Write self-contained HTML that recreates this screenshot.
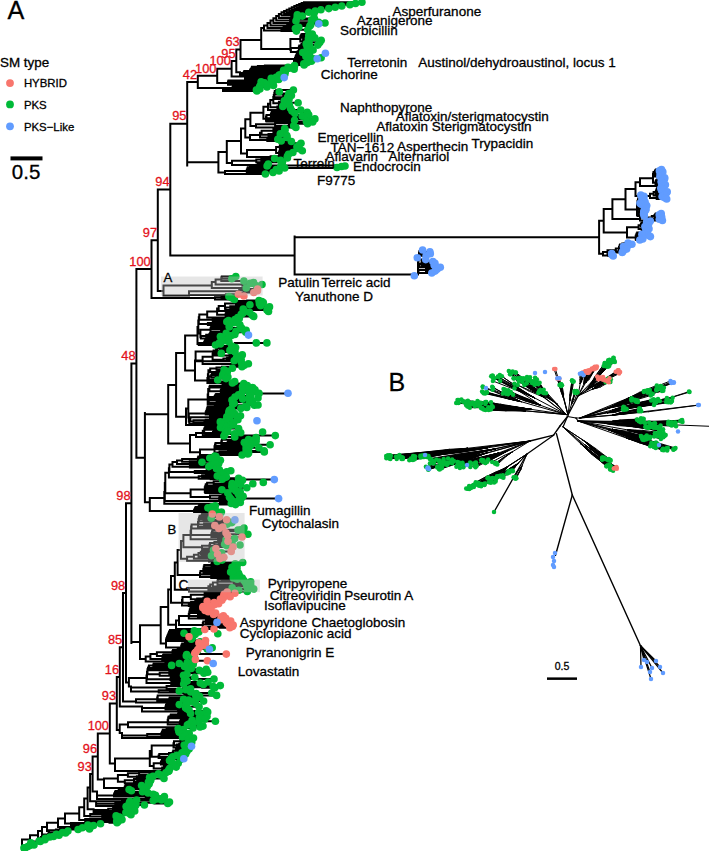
<!DOCTYPE html>
<html><head><meta charset="utf-8"><style>html,body{margin:0;padding:0;background:#fff;width:709px;height:851px;overflow:hidden}svg{display:block}</style></head><body>
<svg width="709" height="851" viewBox="0 0 709 851">
<rect width="709" height="851" fill="#fff"/>
<path d="M240.5 39.9V58.9M236.3 49.4V72.3M236.3 49.4H240.5M231.6 60.9V76.5M231.6 60.9H236.3M217.2 68.7V82.9M217.2 68.7H231.6M197.8 75.8V88.1M197.8 75.8H217.2M187.2 81.9V165.5M187.2 81.9H197.8M170.3 123.7V255.6M170.3 123.7H187.2M157.8 189.6V291.0M157.8 189.6H170.3M151.5 240.3V298.0M151.5 240.3H157.8M136.4 269.1V457.8M136.4 269.1H151.5M131.4 363.4V643.0M131.4 363.4H136.4M126.0 503.2V682.6M126.0 503.2H131.4M123.0 592.9V701.5M123.0 592.9H126.0M119.8 647.2V706.6M119.8 647.2H123.0M116.8 676.9V730.0M116.8 676.9H119.8M109.8 703.5V763.5M109.8 703.5H116.8M97.8 733.5V779.6M97.8 733.5H109.8M92.6 756.5V791.5M92.6 756.5H97.8M240.5 39.9H261.2M304.0 2.3H361.9M304.0 3.5H355.5M304.0 2.3V3.5M301.6 2.9H304.0M301.6 4.8H349.9M301.6 2.9V4.8M299.2 3.9H301.6M299.2 6.0H341.8M299.2 3.9V6.0M296.7 5.0H299.2M296.7 7.3H335.2M296.7 5.0V7.3M294.3 6.1H296.7M294.3 8.6H328.8M294.3 6.1V8.6M291.8 7.3H294.3M291.8 9.8H320.9M291.8 7.3V9.8M289.3 8.6H291.8M289.3 11.1H315.2M289.3 8.6V11.1M286.7 9.8H289.3M286.7 12.3H308.8M286.7 9.8V12.3M284.1 11.1H286.7M284.1 13.6H314.0M284.1 11.1V13.6M281.5 12.3H284.1M291.3 14.8H297.3M291.3 16.1H302.3M291.3 14.8V16.1M281.5 15.4H291.3M281.5 12.3V15.4M278.9 13.9H281.5M291.6 17.3H297.2M291.6 18.6H314.4M291.6 17.3V18.6M278.9 17.9H291.6M278.9 13.9V17.9M276.2 15.9H278.9M290.1 19.8H311.6M290.1 21.1H296.0M290.1 19.8V21.1M276.2 20.4H290.1M276.2 15.9V20.4M273.4 18.2H276.2M294.9 22.3H318.6M294.9 23.6H318.2M294.9 22.3V23.6M273.4 22.9H294.9M273.4 18.2V22.9M270.5 20.5H273.4M287.2 24.8H310.7M287.2 26.1H309.8M287.2 24.8V26.1M270.5 25.4H287.2M270.5 20.5V25.4M267.5 23.0H270.5M283.6 27.3H298.8M283.6 28.6H295.4M283.6 27.3V28.6M267.5 27.9H283.6M267.5 23.0V27.9M264.0 25.5H267.5M281.4 29.8H307.7M281.4 31.1H296.4M281.4 29.8V31.1M264.0 30.4H281.4M264.0 25.5V30.4M261.2 27.9H264.0M261.2 27.9V49.1M302.2 34.0H312.3M302.2 35.2H308.8M302.2 34.0V35.2M301.3 34.6H302.2M301.3 36.5H310.6M301.3 34.6V36.5M300.8 35.5H301.3M300.8 37.7H314.8M300.8 35.5V37.7M300.3 36.6H300.8M303.7 38.9H308.4M303.7 40.2H321.2M303.7 38.9V40.2M303.2 39.5H303.7M303.2 41.4H309.1M303.2 39.5V41.4M302.7 40.5H303.2M302.7 42.6H319.7M302.7 40.5V42.6M300.3 41.6H302.7M300.3 36.6V41.6M290.4 39.1H300.3M301.7 43.9H306.2M301.7 45.1H317.8M301.7 43.9V45.1M301.2 44.5H301.7M301.2 46.3H309.8M301.2 44.5V46.3M299.4 45.4H301.2M299.4 47.6H307.2M299.4 45.4V47.6M298.9 46.5H299.4M304.7 48.8H309.8M304.7 50.0H313.1M304.7 48.8V50.0M298.9 49.4H304.7M298.9 46.5V49.4M290.9 48.0H298.9M297.7 51.3H307.2M297.7 52.5H302.7M297.7 51.3V52.5M290.9 51.9H297.7M290.9 48.0V51.9M290.4 49.9H290.9M261.2 49.1H290.4M290.4 39.1V49.9M297.0 54.0H309.6M297.0 55.2H306.7M297.0 54.0V55.2M296.5 54.6H297.0M296.5 56.4H305.9M296.5 54.6V56.4M296.0 55.5H296.5M296.0 57.7H321.1M296.0 55.5V57.7M295.5 56.6H296.0M299.9 58.9H313.4M299.9 60.1H310.7M299.9 58.9V60.1M295.5 59.5H299.9M295.5 56.6V59.5M295.0 58.0H295.5M295.0 61.3H311.4M295.0 58.0V61.3M294.5 59.7H295.0M295.0 62.6H307.4M295.0 63.8H303.8M295.0 62.6V63.8M294.5 63.2H295.0M294.5 59.7V63.2M294.0 61.4H294.5M294.0 65.0H304.1M240.5 58.9H294.0M294.0 58.9V65.0M264.9 65.5H294.5M264.9 66.5H294.4M264.9 65.5V66.5M257.9 66.0H264.9M257.9 67.4H288.0M257.9 66.0V67.4M252.0 66.7H257.9M252.5 68.3H289.3M252.5 69.3H294.1M252.5 68.3V69.3M252.0 68.8H252.5M252.0 66.7V68.8M251.5 67.8H252.0M251.5 70.2H283.6M251.5 67.8V70.2M250.6 69.0H251.5M250.6 71.2H285.3M250.6 69.0V71.2M250.1 70.1H250.6M250.1 72.2H284.7M250.1 70.1V72.2M244.3 71.1H250.1M244.3 73.1H283.1M244.3 71.1V73.1M243.8 72.1H244.3M243.8 74.0H284.9M243.8 72.1V74.0M240.0 73.1H243.8M240.0 75.0H280.1M236.3 72.3H240.0M240.0 72.3V75.0M255.4 75.0H279.2M255.4 76.1H281.9M255.4 75.0V76.1M246.0 75.6H255.4M246.0 77.2H276.1M246.0 75.6V77.2M245.5 76.4H246.0M245.5 78.4H271.2M245.5 76.4V78.4M245.0 77.4H245.5M245.0 79.5H278.7M231.6 76.5H245.0M245.0 76.5V79.5M246.5 80.0H275.0M246.5 80.9H271.9M246.5 80.0V80.9M228.5 80.5H246.5M229.0 81.8H261.1M229.0 82.8H264.5M229.0 81.8V82.8M228.5 82.3H229.0M228.5 80.5V82.3M228.0 81.4H228.5M235.5 83.7H271.5M235.5 84.6H266.2M235.5 83.7V84.6M235.0 84.1H235.5M235.0 85.5H273.5M235.0 84.1V85.5M228.0 84.8H235.0M217.2 82.9H228.0M228.0 81.4V84.8M233.5 86.0H259.9M233.5 87.0H267.0M233.5 86.0V87.0M233.0 86.5H233.5M233.0 88.0H259.1M233.0 86.5V88.0M232.5 87.2H233.0M232.5 89.0H259.9M232.5 87.2V89.0M223.5 88.1H232.5M223.5 90.0H256.4M223.5 88.1V90.0M223.0 89.1H223.5M223.0 91.0H256.9M197.8 88.1H223.0M223.0 88.1V91.0M276.3 90.0H293.4M276.3 91.8H279.3M276.3 90.0V91.8M274.8 90.9H276.3M283.3 93.6H288.8M283.3 95.5H291.4M283.3 93.6V95.5M274.8 94.5H283.3M274.8 90.9V94.5M274.3 92.7H274.8M274.3 97.3H287.5M274.3 92.7V97.3M273.8 95.0H274.3M273.8 99.1H289.1M273.8 95.0V99.1M273.3 97.0H273.8M281.3 100.9H284.3M281.3 102.7H298.1M281.3 100.9V102.7M278.9 101.8H281.3M278.9 104.5H289.3M278.9 101.8V104.5M273.3 103.2H278.9M273.3 97.0V103.2M270.3 100.1H273.3M277.4 106.4H282.8M277.4 108.2H290.5M277.4 106.4V108.2M270.3 107.3H277.4M270.3 100.1V107.3M268.0 103.7H270.3M268.0 110.0H300.8M268.0 103.7V110.0M263.4 106.8H268.0M272.4 111.0H292.0M272.4 112.3H307.2M272.4 111.0V112.3M271.9 111.7H272.4M271.9 113.6H294.9M271.9 111.7V113.6M271.4 112.6H271.9M271.4 114.9H308.7M271.4 112.6V114.9M270.9 113.8H271.4M270.9 116.2H302.2M270.9 113.8V116.2M266.5 115.0H270.9M276.4 117.6H307.9M276.4 118.9H314.9M276.4 117.6V118.9M266.5 118.2H276.4M266.5 115.0V118.2M266.0 116.6H266.5M266.5 120.2H294.6M266.5 121.5H306.4M266.5 120.2V121.5M266.0 120.8H266.5M266.0 116.6V120.8M263.4 118.7H266.0M263.4 106.8V118.7M250.4 112.8H263.4M288.9 122.0H312.7M288.9 123.8H307.6M288.9 122.0V123.8M275.1 122.9H288.9M275.1 125.7H293.7M275.1 122.9V125.7M256.0 124.3H275.1M256.0 127.5H295.9M256.0 124.3V127.5M250.4 125.9H256.0M250.4 112.8V125.9M245.3 119.3H250.4M275.2 128.5H284.7M275.2 130.3H285.0M275.2 128.5V130.3M273.4 129.4H275.2M273.4 132.1H283.9M273.4 129.4V132.1M261.6 130.7H273.4M268.5 133.9H280.3M268.5 135.6H286.8M268.5 133.9V135.6M261.6 134.8H268.5M261.6 130.7V134.8M260.0 132.7H261.6M260.0 137.4H287.1M260.0 132.7V137.4M250.0 135.1H260.0M267.3 139.2H277.8M267.3 141.0H281.2M267.3 139.2V141.0M250.0 140.1H267.3M250.0 135.1V140.1M245.3 137.6H250.0M245.3 119.3V137.6M241.0 128.5H245.3M281.3 141.5H291.4M281.3 143.3H301.0M281.3 141.5V143.3M280.8 142.4H281.3M280.8 145.2H298.8M280.8 142.4V145.2M280.3 143.8H280.8M280.3 147.0H296.9M280.3 143.8V147.0M279.8 145.4H280.3M279.8 148.8H299.2M279.8 145.4V148.8M276.1 147.1H279.8M279.8 150.7H302.3M279.8 152.5H292.9M279.8 150.7V152.5M279.1 151.6H279.8M279.1 154.3H288.5M279.1 151.6V154.3M276.1 153.0H279.1M276.1 147.1V153.0M247.0 150.0H276.1M270.6 156.2H287.4M270.6 158.0H287.4M270.6 156.2V158.0M247.0 157.1H270.6M247.0 150.0V157.1M241.0 153.6H247.0M241.0 128.5V153.6M226.8 141.0H241.0M261.3 158.5H274.6M261.3 160.4H280.5M261.3 158.5V160.4M256.3 159.4H261.3M256.3 162.2H282.4M256.3 159.4V162.2M232.0 160.8H256.3M257.6 164.1H268.3M257.6 166.0H267.1M257.6 164.1V166.0M232.0 165.1H257.6M232.0 160.8V165.1M226.8 163.0H232.0M226.8 141.0V163.0M218.4 152.0H226.8M249.9 166.5H280.7M249.9 168.0H284.7M249.9 166.5V168.0M247.8 167.2H249.9M247.8 169.5H276.2M247.8 167.2V169.5M247.3 168.4H247.8M247.3 171.0H279.1M247.3 168.4V171.0M246.8 169.7H247.3M246.8 172.5H273.0M246.8 169.7V172.5M225.0 171.1H246.8M225.0 174.0H265.4M225.0 171.1V174.0M218.4 172.5H225.0M218.4 152.0V172.5M187.2 162.3H218.4M187.2 123.7V165.5M262.0 165.6H338.0M262.0 167.9H340.0M170.3 255.6H294.6M294.6 274.5H411.0M655.9 169.5H661.5M655.9 170.7H659.4M655.9 169.5V170.7M655.4 170.1H655.9M655.4 171.9H662.8M655.4 170.1V171.9M654.9 171.0H655.4M654.9 173.0H660.2M654.9 171.0V173.0M653.5 172.0H654.9M656.9 174.2H660.6M656.9 175.4H660.9M656.9 174.2V175.4M654.4 174.8H656.9M654.4 176.6H659.9M654.4 174.8V176.6M653.5 175.7H654.4M653.5 172.0V175.7M653.0 173.8H653.5M661.5 177.8H664.7M661.5 178.9H664.5M661.5 177.8V178.9M657.9 178.3H661.5M657.9 180.1H662.9M657.9 178.3V180.1M657.4 179.2H657.9M657.4 181.3H661.3M657.4 179.2V181.3M656.0 180.3H657.4M656.0 182.5H661.4M656.0 180.3V182.5M655.5 181.4H656.0M659.3 183.6H663.9M659.3 184.8H665.4M659.3 183.6V184.8M655.5 184.2H659.3M655.5 181.4V184.2M653.0 182.8H655.5M653.0 173.8V182.8M640.0 178.3H653.0M640.0 186.0H664.1M640.0 178.3V186.0M635.5 182.2H640.0M657.9 187.0H661.6M657.9 188.2H660.8M657.9 187.0V188.2M657.4 187.6H657.9M657.4 189.4H662.7M657.4 187.6V189.4M656.9 188.5H657.4M656.9 190.6H661.6M656.9 188.5V190.6M656.4 189.6H656.9M656.4 191.8H667.2M656.4 189.6V191.8M655.9 190.7H656.4M661.0 193.0H666.5M661.0 194.2H663.8M661.0 193.0V194.2M655.9 193.6H661.0M655.9 190.7V193.6M653.6 192.1H655.9M653.6 195.4H664.2M653.6 192.1V195.4M650.0 193.8H653.6M657.3 196.6H662.1M657.3 197.8H664.8M657.3 196.6V197.8M656.7 197.2H657.3M656.7 199.0H666.7M656.7 197.2V199.0M650.0 198.1H656.7M650.0 193.8V198.1M635.5 195.9H650.0M635.5 182.2V195.9M625.5 189.0H635.5M640.0 195.0H640.8M640.0 196.2H644.0M640.0 195.0V196.2M639.5 195.6H640.0M639.5 197.3H643.1M639.5 195.6V197.3M639.0 196.5H639.5M639.5 198.5H642.0M639.5 199.7H643.9M639.5 198.5V199.7M639.0 199.1H639.5M639.0 196.5V199.1M638.5 197.8H639.0M638.5 200.8H642.2M638.5 197.8V200.8M638.0 199.3H638.5M638.0 202.0H645.1M638.0 199.3V202.0M637.5 200.7H638.0M639.5 203.2H640.0M639.5 204.3H641.2M639.5 203.2V204.3M639.0 203.8H639.5M639.0 205.5H646.7M639.0 203.8V205.5M638.5 204.6H639.0M640.2 206.7H644.3M640.2 207.8H645.4M640.2 206.7V207.8M638.5 207.2H640.2M638.5 204.6V207.2M638.0 205.9H638.5M638.0 209.0H646.0M638.0 205.9V209.0M637.5 207.5H638.0M637.5 200.7V207.5M637.0 204.1H637.5M640.5 210.2H645.6M640.5 211.3H643.8M640.5 210.2V211.3M639.1 210.8H640.5M639.1 212.5H644.1M639.1 210.8V212.5M638.6 211.6H639.1M638.6 213.7H643.6M638.6 211.6V213.7M638.1 212.6H638.6M638.1 214.8H644.2M638.1 212.6V214.8M637.5 213.7H638.1M637.5 216.0H644.3M637.5 213.7V216.0M637.0 214.9H637.5M637.0 204.1V214.9M625.5 209.5H637.0M625.5 189.0V209.5M612.4 199.3H625.5M655.8 213.5H661.2M655.8 214.7H659.2M655.8 213.5V214.7M655.3 214.1H655.8M655.3 215.8H661.2M655.3 214.1V215.8M654.5 215.0H655.3M654.5 217.0H661.7M654.5 215.0V217.0M651.8 216.0H654.5M654.8 218.2H660.5M654.8 219.3H659.3M654.8 218.2V219.3M651.8 218.8H654.8M651.8 216.0V218.8M640.0 217.4H651.8M640.0 220.5H662.4M640.0 217.4V220.5M612.4 218.9H640.0M612.4 199.3V218.9M603.7 209.1H612.4M643.8 221.0H650.3M643.8 222.1H646.6M643.8 221.0V222.1M643.3 221.6H643.8M643.8 223.2H648.9M643.8 224.4H647.5M643.8 223.2V224.4M643.3 223.8H643.8M643.3 221.6V223.8M641.4 222.7H643.3M641.4 225.5H647.7M641.4 222.7V225.5M640.9 224.1H641.4M640.9 226.6H644.9M640.9 224.1V226.6M638.6 225.3H640.9M642.4 227.7H645.7M642.4 228.8H649.0M642.4 227.7V228.8M641.7 228.3H642.4M641.7 229.9H646.1M641.7 228.3V229.9M638.6 229.1H641.7M638.6 225.3V229.1M627.0 227.2H638.6M643.6 231.1H646.7M643.6 232.2H646.2M643.6 231.1V232.2M643.1 231.6H643.6M643.1 233.3H647.2M643.1 231.6V233.3M637.2 232.5H643.1M637.2 234.4H641.9M637.2 232.5V234.4M636.7 233.4H637.2M636.7 235.5H648.8M636.7 233.4V235.5M636.2 234.5H636.7M638.7 236.6H650.4M638.7 237.8H642.7M638.7 236.6V237.8M636.2 237.2H638.7M636.2 234.5V237.2M635.7 235.8H636.2M636.2 238.9H642.7M636.2 240.0H639.8M636.2 238.9V240.0M635.7 239.4H636.2M635.7 235.8V239.4M627.0 237.6H635.7M627.0 227.2V237.6M603.7 232.4H627.0M603.7 209.1V232.4M599.1 220.8H603.7M624.7 243.0H628.0M624.7 244.2H631.9M624.7 243.0V244.2M622.3 243.6H624.7M622.3 245.4H628.0M622.3 243.6V245.4M620.0 244.5H622.3M620.0 246.5H623.5M620.0 244.5V246.5M619.5 245.5H620.0M623.1 247.7H625.9M623.1 248.9H626.6M623.1 247.7V248.9M619.5 248.3H623.1M619.5 245.5V248.3M619.0 246.9H619.5M619.0 250.1H624.2M619.0 246.9V250.1M615.8 248.5H619.0M616.8 251.3H622.9M616.8 252.5H622.2M616.8 251.3V252.5M615.8 251.9H616.8M615.8 248.5V251.9M607.5 250.2H615.8M607.5 253.6H611.7M607.5 250.2V253.6M603.0 251.9H607.5M608.5 254.8H611.9M608.5 256.0H613.2M608.5 254.8V256.0M603.0 255.4H608.5M603.0 251.9V255.4M599.1 253.7H603.0M599.1 220.8V253.7M294.6 237.2H599.1M294.6 236.4V274.5M420.0 250.0H422.6M420.0 251.9H429.9M420.0 250.0V251.9M419.5 251.0H420.0M419.5 253.8H430.3M419.5 251.0V253.8M419.0 252.4H419.5M420.0 255.8H426.1M420.0 257.7H417.3M420.0 255.8V257.7M419.5 256.7H420.0M419.5 259.6H425.7M419.5 256.7V259.6M419.0 258.1H419.5M419.0 252.4V258.1M418.5 255.3H419.0M421.9 261.5H432.9M421.9 263.4H435.0M421.9 261.5V263.4M421.4 262.5H421.9M421.4 265.3H434.2M421.4 262.5V265.3M419.0 263.9H421.4M419.0 267.2H440.3M419.0 263.9V267.2M418.5 265.6H419.0M418.5 255.3V265.6M418.0 260.4H418.5M426.0 269.2H437.1M426.0 271.1H435.1M426.0 269.2V271.1M418.5 270.1H426.0M418.5 273.0H431.8M418.5 270.1V273.0M418.0 271.6H418.5M411.0 274.5H418.0M418.0 260.4V274.5M157.8 291.0H163.5M163.5 285.6V295.5M221.8 276.5H235.8M221.8 278.8H231.8M221.8 276.5V278.8M221.3 277.6H221.8M221.3 281.1H243.9M221.3 277.6V281.1M215.6 279.4H221.3M242.4 283.4H250.2M242.4 285.7H256.5M242.4 283.4V285.7M215.6 284.5H242.4M215.6 279.4V284.5M211.8 282.0H215.6M211.8 288.0H246.2M163.5 285.6H211.8M211.8 282.0V288.0M243.6 289.0H257.5M243.6 290.8H257.4M243.6 289.0V290.8M239.2 289.9H243.6M239.2 292.5H253.8M239.2 289.9V292.5M189.0 291.2H239.2M225.9 294.2H238.4M225.9 296.0H243.9M225.9 294.2V296.0M189.0 295.1H225.9M163.5 295.5H189.0M189.0 291.2V295.5M221.5 296.5H228.9M221.5 298.0H232.0M221.5 296.5V298.0M215.0 297.2H221.5M215.0 299.5H234.4M151.5 298.0H215.0M215.0 297.2V299.5M247.1 300.5H259.0M247.1 301.6H261.9M247.1 300.5V301.6M237.0 301.0H247.1M241.2 302.6H263.3M241.2 303.7H259.4M241.2 302.6V303.7M237.0 303.1H241.2M237.0 301.0V303.1M236.0 302.1H237.0M236.0 304.7H249.9M236.0 302.1V304.7M225.0 303.4H236.0M247.3 305.8H260.6M247.3 306.9H269.5M247.3 305.8V306.9M230.3 306.3H247.3M231.8 307.9H267.7M231.8 309.0H243.2M231.8 307.9V309.0M230.3 308.4H231.8M230.3 306.3V308.4M225.5 307.4H230.3M225.5 310.0H267.0M225.5 307.4V310.0M225.0 308.7H225.5M225.0 303.4V308.7M218.7 306.1H225.0M218.7 311.1H244.5M218.7 306.1V311.1M217.1 308.6H218.7M226.6 312.2H249.5M226.6 313.2H242.8M226.6 312.2V313.2M226.1 312.7H226.6M226.1 314.3H241.2M226.1 312.7V314.3M225.6 313.5H226.1M235.3 315.3H252.3M235.3 316.4H253.7M235.3 315.3V316.4M225.6 315.9H235.3M225.6 313.5V315.9M217.1 314.7H225.6M217.1 308.6V314.7M207.2 311.6H217.1M207.2 317.5H237.8M207.2 311.6V317.5M199.3 314.5H207.2M218.1 318.5H239.3M218.1 319.6H234.9M218.1 318.5V319.6M212.6 319.0H218.1M212.6 320.6H228.6M212.6 319.0V320.6M199.3 319.8H212.6M199.3 314.5V319.8M198.8 317.2H199.3M214.2 321.7H226.8M214.2 322.8H234.2M214.2 321.7V322.8M212.9 322.2H214.2M212.9 323.8H229.8M212.9 322.2V323.8M207.9 323.0H212.9M207.9 324.9H239.9M207.9 323.0V324.9M198.8 323.9H207.9M198.8 317.2V323.9M198.3 320.6H198.8M217.6 325.9H229.4M217.6 327.0H229.3M217.6 325.9V327.0M211.5 326.5H217.6M211.5 328.0H241.6M211.5 326.5V328.0M211.0 327.3H211.5M211.0 329.1H241.9M211.0 327.3V329.1M210.5 328.2H211.0M221.6 330.2H246.1M221.6 331.2H236.0M221.6 330.2V331.2M221.1 330.7H221.6M221.1 332.3H245.8M221.1 330.7V332.3M210.5 331.5H221.1M210.5 328.2V331.5M200.4 329.8H210.5M209.9 333.3H226.2M209.9 334.4H234.8M209.9 333.3V334.4M209.4 333.9H209.9M209.4 335.5H231.4M209.4 333.9V335.5M206.2 334.7H209.4M206.7 336.5H220.4M206.7 337.6H222.2M206.7 336.5V337.6M206.2 337.1H206.7M206.2 334.7V337.1M200.9 335.9H206.2M200.9 338.6H228.4M200.9 335.9V338.6M200.4 337.3H200.9M200.4 329.8V337.3M198.3 333.5H200.4M198.3 320.6V333.5M197.5 327.1H198.3M214.7 339.7H228.3M214.7 340.8H225.0M214.7 339.7V340.8M205.2 340.2H214.7M205.2 341.8H228.9M205.2 340.2V341.8M204.7 341.0H205.2M204.7 342.9H219.4M204.7 341.0V342.9M204.2 342.0H204.7M204.2 343.9H220.4M204.2 342.0V343.9M198.8 342.9H204.2M198.8 345.0H215.5M198.8 342.9V345.0M197.5 344.0H198.8M197.5 327.1V344.0M185.1 335.5H197.5M222.4 346.0H231.8M222.4 347.5H235.6M222.4 346.0V347.5M220.1 346.7H222.4M220.1 349.0H232.7M220.1 346.7V349.0M217.3 347.9H220.1M217.3 350.4H229.9M217.3 347.9V350.4M216.1 349.1H217.3M216.1 351.9H235.0M216.1 349.1V351.9M213.6 350.5H216.1M213.6 353.4H221.3M213.6 350.5V353.4M213.1 352.0H213.6M229.5 354.9H242.3M229.5 356.4H238.4M229.5 354.9V356.4M213.1 355.6H229.5M213.1 352.0V355.6M212.6 353.8H213.1M227.1 357.8H236.5M227.1 359.3H241.1M227.1 357.8V359.3M223.4 358.6H227.1M223.4 360.8H234.2M223.4 358.6V360.8M212.6 359.7H223.4M212.6 353.8V359.7M202.6 356.7H212.6M233.9 362.3H241.3M233.9 363.8H248.4M233.9 362.3V363.8M232.1 363.0H233.9M232.1 365.2H244.3M232.1 363.0V365.2M202.6 364.1H232.1M202.6 356.7V364.1M195.0 360.4H202.6M222.1 366.7H242.0M222.1 368.2H232.4M222.1 366.7V368.2M216.5 367.5H222.1M216.5 369.7H224.1M216.5 367.5V369.7M210.2 368.6H216.5M217.3 371.2H227.4M217.3 372.6H226.9M217.3 371.2V372.6M210.2 371.9H217.3M210.2 368.6V371.9M208.4 370.2H210.2M211.8 374.1H223.2M211.8 375.6H222.6M211.8 374.1V375.6M211.2 374.9H211.8M215.7 377.1H227.9M215.7 378.6H226.0M215.7 377.1V378.6M211.2 377.8H215.7M211.2 374.9V377.8M208.9 376.3H211.2M208.9 380.0H217.7M208.9 376.3V380.0M208.4 378.2H208.9M208.4 370.2V378.2M207.9 374.2H208.4M207.9 381.5H234.7M207.9 374.2V381.5M207.4 377.9H207.9M207.4 383.0H232.4M207.4 377.9V383.0M195.0 380.4H207.4M195.0 360.4V380.4M185.1 370.4H195.0M185.1 335.5V370.4M176.1 353.0H185.1M227.4 383.5H243.8M227.4 384.5H243.7M227.4 383.5V384.5M226.9 384.0H227.4M226.9 385.6H247.3M226.9 384.0V385.6M222.5 384.8H226.9M222.5 386.6H242.5M222.5 384.8V386.6M209.9 385.7H222.5M209.9 387.6H252.7M209.9 385.7V387.6M209.4 386.7H209.9M225.5 388.7H248.0M225.5 389.7H255.0M225.5 388.7V389.7M221.3 389.2H225.5M221.3 390.8H242.6M221.3 389.2V390.8M220.8 390.0H221.3M221.3 391.8H254.9M221.3 392.8H249.3M221.3 391.8V392.8M220.8 392.3H221.3M220.8 390.0V392.3M209.4 391.2H220.8M209.4 386.7V391.2M208.2 388.9H209.4M216.2 393.9H241.6M216.2 394.9H238.5M216.2 393.9V394.9M215.7 394.4H216.2M215.7 395.9H250.7M215.7 394.4V395.9M215.2 395.2H215.7M215.2 397.0H235.0M215.2 395.2V397.0M214.7 396.1H215.2M214.7 398.0H248.9M214.7 396.1V398.0M209.2 397.1H214.7M209.7 399.1H242.7M209.7 400.1H232.0M209.7 399.1V400.1M209.2 399.6H209.7M209.2 397.1V399.6M208.7 398.3H209.2M229.7 401.1H252.6M229.7 402.2H249.7M229.7 401.1V402.2M216.6 401.7H229.7M216.6 403.2H234.2M216.6 401.7V403.2M208.7 402.4H216.6M208.7 398.3V402.4M208.2 400.4H208.7M208.2 388.9V400.4M207.7 394.6H208.2M207.7 404.2H232.8M207.7 394.6V404.2M188.3 399.4H207.7M221.9 405.3H254.4M221.9 406.3H245.5M221.9 405.3V406.3M214.8 405.8H221.9M214.8 407.4H246.8M214.8 405.8V407.4M207.7 406.6H214.8M208.2 408.4H240.8M208.2 409.4H231.1M208.2 408.4V409.4M207.7 408.9H208.2M207.7 406.6V408.9M207.2 407.8H207.7M207.7 410.5H229.3M207.7 411.5H232.5M207.7 410.5V411.5M207.2 411.0H207.7M207.2 407.8V411.0M206.7 409.4H207.2M206.7 412.6H228.8M206.7 409.4V412.6M206.2 411.0H206.7M206.2 413.6H234.6M206.2 411.0V413.6M205.7 412.3H206.2M205.7 414.6H232.4M205.7 412.3V414.6M188.8 413.4H205.7M210.5 415.7H240.5M210.5 416.7H226.8M210.5 415.7V416.7M210.0 416.2H210.5M211.8 417.7H237.5M211.8 418.8H229.8M211.8 417.7V418.8M210.0 418.3H211.8M210.0 416.2V418.3M190.4 417.2H210.0M205.7 419.8H237.9M205.7 420.9H225.6M205.7 419.8V420.9M193.4 420.3H205.7M204.4 421.9H220.3M204.4 422.9H233.7M204.4 421.9V422.9M193.4 422.4H204.4M193.4 420.3V422.4M190.4 421.4H193.4M190.4 417.2V421.4M189.3 419.3H190.4M189.3 424.0H223.4M189.3 419.3V424.0M188.8 421.6H189.3M188.8 413.4V421.6M188.3 417.5H188.8M188.3 399.4V417.5M186.0 408.5H188.3M186.0 425.0H233.0M186.0 408.5V425.0M176.1 416.7H186.0M176.1 353.0V416.7M168.2 384.9H176.1M206.2 425.5H229.7M206.2 426.5H226.0M206.2 425.5V426.5M205.7 426.0H206.2M205.7 427.6H220.5M205.7 426.0V427.6M205.2 426.8H205.7M205.2 428.6H238.6M205.2 426.8V428.6M204.7 427.7H205.2M204.7 429.7H225.0M204.7 427.7V429.7M204.2 428.7H204.7M214.8 430.7H227.8M214.8 431.8H227.3M214.8 430.7V431.8M213.7 431.2H214.8M213.7 432.8H240.7M213.7 431.2V432.8M213.0 432.0H213.7M213.0 433.9H234.5M213.0 432.0V433.9M204.2 432.9H213.0M204.2 428.7V432.9M202.8 430.8H204.2M205.1 434.9H224.6M205.1 436.0H223.9M205.1 434.9V436.0M202.8 435.4H205.1M202.8 430.8V435.4M196.0 433.1H202.8M196.0 437.0H234.8M196.0 433.1V437.0M190.0 435.1H196.0M233.4 437.5H256.1M233.4 438.5H256.2M233.4 437.5V438.5M232.9 438.0H233.4M232.9 439.6H248.5M232.9 438.0V439.6M232.4 438.8H232.9M232.4 440.6H251.7M232.4 438.8V440.6M221.8 439.7H232.4M228.2 441.6H256.1M228.2 442.6H244.3M228.2 441.6V442.6M227.7 442.1H228.2M227.7 443.7H252.5M227.7 442.1V443.7M221.8 442.9H227.7M221.8 439.7V442.9M221.3 441.3H221.8M221.3 444.7H270.1M221.3 441.3V444.7M215.5 443.0H221.3M215.5 445.7H250.1M215.5 443.0V445.7M215.0 444.4H215.5M224.3 446.8H246.1M224.3 447.8H258.9M224.3 446.8V447.8M215.7 447.3H224.3M228.0 448.8H248.6M228.0 449.9H246.1M228.0 448.8V449.9M215.7 449.3H228.0M215.7 447.3V449.3M215.0 448.3H215.7M215.0 444.4V448.3M214.5 446.3H215.0M243.2 450.9H264.1M243.2 451.9H264.3M243.2 450.9V451.9M219.5 451.4H243.2M224.5 452.9H248.6M224.5 454.0H247.7M224.5 452.9V454.0M219.5 453.5H224.5M219.5 451.4V453.5M214.5 452.4H219.5M214.5 446.3V452.4M200.0 449.4H214.5M200.0 455.0H242.1M200.0 449.4V455.0M190.0 452.2H200.0M190.0 435.1V452.2M168.2 443.6H190.0M168.2 384.9V443.6M144.9 414.2H168.2M136.4 457.8H144.9M144.9 413.0V502.3M195.6 351.6H226.0M195.6 361.2H230.0M195.6 351.6V361.2M235.0 342.9H267.0M250.0 393.4H288.0M235.0 435.6H275.3M200.9 456.0H214.8M200.9 457.1H216.2M200.9 456.0V457.1M198.4 456.5H200.9M198.9 458.1H209.8M198.9 459.2H213.2M198.9 458.1V459.2M198.4 458.6H198.9M198.4 456.5V458.6M197.9 457.6H198.4M197.9 460.2H220.4M197.9 457.6V460.2M182.1 458.9H197.9M189.8 461.3H215.2M189.8 462.3H202.0M189.8 461.3V462.3M182.1 461.8H189.8M182.1 458.9V461.8M177.0 460.4H182.1M202.4 463.4H218.7M202.4 464.5H215.6M202.4 463.4V464.5M177.0 463.9H202.4M177.0 460.4V463.9M172.5 462.1H177.0M194.2 465.5H211.1M194.2 466.6H208.8M194.2 465.5V466.6M189.9 466.0H194.2M189.9 467.6H217.3M189.9 466.0V467.6M172.5 466.8H189.9M172.5 462.1V466.8M169.4 464.5H172.5M207.7 468.7H216.5M207.7 469.7H219.4M207.7 468.7V469.7M207.2 469.2H207.7M207.2 470.8H230.8M207.2 469.2V470.8M206.7 470.0H207.2M206.7 471.8H226.7M206.7 470.0V471.8M194.8 470.9H206.7M194.8 472.9H225.5M194.8 470.9V472.9M169.4 471.9H194.8M169.4 464.5V471.9M168.9 468.2H169.4M216.2 474.0H223.3M216.2 475.0H222.8M216.2 474.0V475.0M206.1 474.5H216.2M206.1 476.1H217.3M206.1 474.5V476.1M202.1 475.3H206.1M202.1 477.1H226.3M202.1 475.3V477.1M198.7 476.2H202.1M210.7 478.2H238.6M210.7 479.2H222.3M210.7 478.2V479.2M198.7 478.7H210.7M198.7 476.2V478.7M168.9 477.5H198.7M168.9 468.2V477.5M165.3 472.8H168.9M228.8 480.3H242.5M228.8 481.4H239.1M228.8 480.3V481.4M225.5 480.8H228.8M225.5 482.4H238.1M225.5 480.8V482.4M213.7 481.6H225.5M222.7 483.5H232.1M222.7 484.5H240.6M222.7 483.5V484.5M213.7 484.0H222.7M213.7 481.6V484.0M207.1 482.8H213.7M207.1 485.6H234.7M207.1 482.8V485.6M205.8 484.2H207.1M217.4 486.6H231.8M217.4 487.7H246.8M217.4 486.6V487.7M205.8 487.2H217.4M205.8 484.2V487.2M205.3 485.7H205.8M205.3 488.8H232.9M205.3 485.7V488.8M204.8 487.2H205.3M211.2 489.8H221.9M211.2 490.9H235.9M211.2 489.8V490.9M205.8 490.3H211.2M205.8 491.9H240.2M205.8 490.3V491.9M205.3 491.1H205.8M205.3 493.0H227.8M205.3 491.1V493.0M204.8 492.1H205.3M204.8 487.2V492.1M190.6 489.6H204.8M229.5 494.0H238.3M229.5 495.1H239.9M229.5 494.0V495.1M222.5 494.6H229.5M222.5 496.2H243.1M222.5 494.6V496.2M210.0 495.4H222.5M219.7 497.2H229.5M219.7 498.3H241.3M219.7 497.2V498.3M219.2 497.7H219.7M219.2 499.3H231.1M219.2 497.7V499.3M210.0 498.5H219.2M210.0 495.4V498.5M190.6 496.9H210.0M190.6 489.6V496.9M165.3 493.3H190.6M165.3 472.8V493.3M164.8 483.1H165.3M224.3 500.4H238.7M224.3 501.4H232.9M224.3 500.4V501.4M164.8 500.9H224.3M164.8 483.1V500.9M164.3 492.0H164.8M220.8 502.5H240.3M220.8 503.5H231.3M220.8 502.5V503.5M220.0 503.0H220.8M220.0 504.6H235.5M220.0 503.0V504.6M164.3 503.8H220.0M164.3 492.0V503.8M149.8 497.9H164.3M199.2 505.7H215.3M199.2 506.7H211.9M199.2 505.7V506.7M198.7 506.2H199.2M198.7 507.8H207.9M198.7 506.2V507.8M195.6 507.0H198.7M195.6 508.8H213.6M195.6 507.0V508.8M195.1 507.9H195.6M195.1 509.9H211.2M195.1 507.9V509.9M194.6 508.9H195.1M194.6 510.9H215.8M194.6 508.9V510.9M194.1 509.9H194.6M194.1 512.0H221.4M194.1 509.9V512.0M149.8 511.0H194.1M144.9 502.3H149.8M149.8 497.9V511.0M235.0 479.6H274.3M235.0 498.6H278.6M202.1 514.0H212.3M202.1 515.4H219.6M202.1 514.0V515.4M201.6 514.7H202.1M201.6 516.9H219.4M201.6 514.7V516.9M199.6 515.8H201.6M203.4 518.3H211.2M203.4 519.8H226.6M203.4 518.3V519.8M199.6 519.0H203.4M199.6 515.8V519.0M199.0 517.4H199.6M199.0 521.2H227.8M199.0 517.4V521.2M198.5 519.3H199.0M218.7 522.6H231.9M218.7 524.1H227.5M218.7 522.6V524.1M204.1 523.4H218.7M204.1 525.5H214.8M204.1 523.4V525.5M198.5 524.4H204.1M198.5 519.3V524.4M198.0 521.9H198.5M198.0 527.0H222.7M198.0 521.9V527.0M191.6 524.4H198.0M191.6 528.4H218.8M191.6 524.4V528.4M191.1 526.4H191.6M227.0 529.8H241.0M227.0 531.3H243.1M227.0 529.8V531.3M212.5 530.6H227.0M212.5 532.7H226.0M212.5 530.6V532.7M212.0 531.6H212.5M212.5 534.2H247.9M212.5 535.6H227.6M212.5 534.2V535.6M212.0 534.9H212.5M212.0 531.6V534.9M211.4 533.3H212.0M211.4 537.0H242.0M211.4 533.3V537.0M191.1 535.1H211.4M191.1 526.4V535.1M190.6 530.8H191.1M218.1 538.5H234.7M218.1 539.9H226.0M218.1 538.5V539.9M190.6 539.2H218.1M190.6 530.8V539.2M183.4 535.0H190.6M219.0 541.3H228.0M219.0 542.8H231.3M219.0 541.3V542.8M214.4 542.1H219.0M214.4 544.2H224.7M214.4 542.1V544.2M210.0 543.1H214.4M210.0 545.7H226.8M210.0 543.1V545.7M209.5 544.4H210.0M209.5 547.1H233.0M209.5 544.4V547.1M202.0 545.8H209.5M202.0 548.5H215.9M202.0 545.8V548.5M183.4 547.2H202.0M183.4 535.0V547.2M181.0 541.1H183.4M202.5 550.0H213.5M202.5 551.4H231.2M202.5 550.0V551.4M202.0 550.7H202.5M202.0 552.9H221.6M202.0 550.7V552.9M200.8 551.8H202.0M200.8 554.3H217.6M200.8 551.8V554.3M198.5 553.0H200.8M202.1 555.7H211.5M202.1 557.2H223.9M202.1 555.7V557.2M198.5 556.5H202.1M198.5 553.0V556.5M193.9 554.8H198.5M193.9 558.6H219.9M193.9 554.8V558.6M187.1 556.7H193.9M209.1 560.1H222.1M209.1 561.5H217.2M209.1 560.1V561.5M187.1 560.8H209.1M187.1 556.7V560.8M181.0 558.7H187.1M181.0 541.1V558.7M177.6 549.9H181.0M212.5 562.5H242.7M212.5 563.7H235.2M212.5 562.5V563.7M212.0 563.1H212.5M212.0 564.9H237.2M212.0 563.1V564.9M211.5 564.0H212.0M211.5 566.1H235.2M211.5 564.0V566.1M204.3 565.0H211.5M204.8 567.3H232.0M204.8 568.5H237.0M204.8 567.3V568.5M204.3 567.9H204.8M204.3 565.0V567.9M203.8 566.4H204.3M208.7 569.7H234.4M208.7 570.8H233.5M208.7 569.7V570.8M204.3 570.2H208.7M204.3 572.0H230.6M204.3 570.2V572.0M203.8 571.1H204.3M203.8 566.4V571.1M203.3 568.8H203.8M203.3 573.2H238.6M203.3 568.8V573.2M200.5 571.0H203.3M200.5 574.4H233.2M200.5 571.0V574.4M200.0 572.7H200.5M214.9 575.6H239.3M214.9 576.8H237.6M214.9 575.6V576.8M211.2 576.2H214.9M211.2 578.0H242.3M211.2 576.2V578.0M200.0 577.1H211.2M200.0 572.7V577.1M177.6 574.9H200.0M177.6 549.9V574.9M174.8 562.4H177.6M222.4 578.0H233.3M222.4 579.2H237.2M222.4 578.0V579.2M221.9 578.6H222.4M221.9 580.5H243.9M221.9 578.6V580.5M218.0 579.5H221.9M218.0 581.7H250.7M218.0 579.5V581.7M217.5 580.6H218.0M235.4 582.9H245.8M235.4 584.1H247.7M235.4 582.9V584.1M233.8 583.5H235.4M233.8 585.4H250.8M233.8 583.5V585.4M217.5 584.4H233.8M217.5 580.6V584.4M212.9 582.5H217.5M212.9 586.6H246.9M212.9 582.5V586.6M210.2 584.6H212.9M210.2 587.8H232.2M210.2 584.6V587.8M208.4 586.2H210.2M223.9 589.0H253.7M223.9 590.3H238.8M223.9 589.0V590.3M208.4 589.7H223.9M208.4 586.2V589.7M189.0 587.9H208.4M189.0 591.5H247.3M189.0 587.9V591.5M174.8 589.7H189.0M174.8 562.4V589.7M171.0 576.1H174.8M214.9 592.0H227.2M214.9 593.2H234.9M214.9 592.0V593.2M205.1 592.6H214.9M205.1 594.3H224.1M205.1 592.6V594.3M204.6 593.5H205.1M211.1 595.5H224.0M211.1 596.7H230.1M211.1 595.5V596.7M204.6 596.1H211.1M204.6 593.5V596.1M190.8 594.8H204.6M203.4 597.8H223.4M203.4 599.0H220.4M203.4 597.8V599.0M197.2 598.4H203.4M197.2 600.2H221.9M197.2 598.4V600.2M190.8 599.3H197.2M190.8 594.8V599.3M182.5 597.0H190.8M195.3 601.3H207.2M195.3 602.5H214.2M195.3 601.3V602.5M191.1 601.9H195.3M191.1 603.7H218.6M191.1 601.9V603.7M182.5 602.8H191.1M182.5 597.0V602.8M182.0 599.9H182.5M188.8 604.8H214.4M188.8 606.0H209.0M188.8 604.8V606.0M182.0 605.4H188.8M182.0 599.9V605.4M171.0 602.7H182.0M171.0 576.1V602.7M168.2 589.4H171.0M191.3 606.5H203.1M191.3 607.8H202.8M191.3 606.5V607.8M190.8 607.2H191.3M190.8 609.1H211.1M190.8 607.2V609.1M190.3 608.2H190.8M190.8 610.5H205.1M190.8 611.8H208.2M190.8 610.5V611.8M190.3 611.1H190.8M190.3 608.2V611.1M189.8 609.6H190.3M189.8 613.1H215.6M189.8 609.6V613.1M189.3 611.4H189.8M198.8 614.4H213.6M198.8 615.8H223.4M198.8 614.4V615.8M198.0 615.1H198.8M198.0 617.1H221.1M198.0 615.1V617.1M189.3 616.1H198.0M189.3 611.4V616.1M188.8 613.7H189.3M188.8 618.4H225.8M188.8 613.7V618.4M179.0 616.1H188.8M206.4 619.7H220.8M206.4 621.1H230.7M206.4 619.7V621.1M205.9 620.4H206.4M205.9 622.4H226.2M205.9 620.4V622.4M203.3 621.4H205.9M212.9 623.7H227.5M212.9 625.0H233.2M212.9 623.7V625.0M203.3 624.4H212.9M203.3 621.4V624.4M202.8 622.9H203.3M219.8 626.4H232.4M219.8 627.7H229.8M219.8 626.4V627.7M202.8 627.0H219.8M202.8 622.9V627.0M179.0 624.9H202.8M179.0 616.1V624.9M176.0 620.5H179.0M176.0 629.0H214.0M176.0 620.5V629.0M168.2 624.8H176.0M168.2 589.4V624.8M160.7 607.1H168.2M177.5 629.5H204.8M177.5 630.7H194.3M177.5 629.5V630.7M170.0 630.1H177.5M170.0 631.9H198.8M170.0 630.1V631.9M169.5 631.0H170.0M169.5 633.2H184.0M169.5 631.0V633.2M169.0 632.1H169.5M169.0 634.4H195.1M169.0 632.1V634.4M168.5 633.2H169.0M168.5 635.6H193.0M168.5 633.2V635.6M168.0 634.4H168.5M168.0 636.8H189.0M168.0 634.4V636.8M167.5 635.6H168.0M167.5 638.0H192.3M167.5 635.6V638.0M167.0 636.8H167.5M167.0 639.2H191.3M167.0 636.8V639.2M166.5 638.0H167.0M186.0 640.5H205.5M186.0 641.7H200.1M186.0 640.5V641.7M166.5 641.1H186.0M166.5 638.0V641.1M166.0 639.6H166.5M184.9 642.9H198.9M184.9 644.1H205.3M184.9 642.9V644.1M182.2 643.5H184.9M182.2 645.3H205.1M182.2 643.5V645.3M181.7 644.4H182.2M182.2 646.6H200.6M182.2 647.8H212.2M182.2 646.6V647.8M181.7 647.2H182.2M181.7 644.4V647.2M181.2 645.8H181.7M181.2 649.0H207.2M181.2 645.8V649.0M166.0 647.4H181.2M166.0 639.6V647.4M160.7 643.5H166.0M160.7 607.1V643.5M140.0 625.3H160.7M177.7 649.5H197.8M177.7 650.8H197.4M177.7 649.5V650.8M173.0 650.1H177.7M173.0 652.0H195.9M173.0 650.1V652.0M172.5 651.1H173.0M172.5 653.2H194.8M172.5 651.1V653.2M156.9 652.2H172.5M163.6 654.5H186.7M163.6 655.8H186.3M163.6 654.5V655.8M163.1 655.1H163.6M163.1 657.0H192.3M163.1 655.1V657.0M156.9 656.1H163.1M156.9 652.2V656.1M150.4 654.1H156.9M162.2 658.2H194.7M162.2 659.5H195.4M162.2 658.2V659.5M150.4 658.9H162.2M150.4 654.1V658.9M145.7 656.5H150.4M165.4 660.8H207.4M165.4 662.0H193.5M165.4 660.8V662.0M145.7 661.4H165.4M145.7 656.5V661.4M140.0 658.9H145.7M140.0 625.3V658.9M131.4 642.1H140.0M131.4 363.4V643.0M200.0 654.1H226.3M126.0 682.6H128.9M128.9 678.0V686.5M170.4 662.5H187.3M170.4 663.5H179.3M170.4 662.5V663.5M165.8 663.0H170.4M165.8 664.5H193.2M165.8 663.0V664.5M153.8 663.7H165.8M153.8 665.4H171.6M153.8 663.7V665.4M153.3 664.6H153.8M153.3 666.4H184.5M153.3 664.6V666.4M149.0 665.5H153.3M179.1 667.4H187.0M179.1 668.4H191.3M179.1 667.4V668.4M149.0 667.9H179.1M149.0 665.5V667.9M148.5 666.7H149.0M148.5 669.3H206.2M148.5 666.7V669.3M148.0 668.0H148.5M148.0 670.3H199.3M148.0 668.0V670.3M147.5 669.2H148.0M194.3 671.3H205.7M194.3 672.3H207.7M194.3 671.3V672.3M169.3 671.8H194.3M173.0 673.2H203.9M173.0 674.2H187.0M173.0 673.2V674.2M169.3 673.7H173.0M169.3 671.8V673.7M159.7 672.8H169.3M172.0 675.2H183.5M172.0 676.2H185.2M172.0 675.2V676.2M159.7 675.7H172.0M159.7 672.8V675.7M147.5 674.2H159.7M147.5 669.2V674.2M147.0 671.7H147.5M171.4 677.2H194.8M171.4 678.1H184.9M171.4 677.2V678.1M170.9 677.6H171.4M170.9 679.1H214.0M170.9 677.6V679.1M170.4 678.4H170.9M170.4 680.1H184.4M170.4 678.4V680.1M147.0 679.2H170.4M147.0 671.7V679.2M146.5 675.5H147.0M177.2 681.1H187.1M177.2 682.0H208.1M177.2 681.1V682.0M171.7 681.6H177.2M171.7 683.0H200.3M171.7 681.6V683.0M171.2 682.3H171.7M171.2 684.0H183.7M171.2 682.3V684.0M146.5 683.1H171.2M128.9 678.0H146.5M146.5 675.5V683.1M193.8 684.5H203.4M193.8 685.6H220.3M193.8 684.5V685.6M183.4 685.0H193.8M202.2 686.6H213.2M202.2 687.7H214.8M202.2 686.6V687.7M183.4 687.2H202.2M183.4 685.0V687.2M166.6 686.1H183.4M166.6 688.8H190.6M166.6 686.1V688.8M131.0 687.4H166.6M169.9 689.8H185.9M169.9 690.9H179.3M169.9 689.8V690.9M158.7 690.3H169.9M180.9 691.9H190.7M180.9 693.0H211.7M180.9 691.9V693.0M158.7 692.5H180.9M158.7 690.3V692.5M131.0 691.4H158.7M128.9 686.5H131.0M131.0 686.5V691.4M185.5 693.5H196.2M185.5 694.5H195.4M185.5 693.5V694.5M184.9 694.0H185.5M184.9 695.4H216.6M184.9 694.0V695.4M184.4 694.7H184.9M184.4 696.4H199.6M184.4 694.7V696.4M157.7 695.5H184.4M187.0 697.3H199.3M187.0 698.2H196.0M187.0 697.3V698.2M169.8 697.8H187.0M169.8 699.2H183.6M169.8 697.8V699.2M169.3 698.5H169.8M169.3 700.1H188.6M169.3 698.5V700.1M157.7 699.3H169.3M157.7 695.5V699.3M157.2 697.4H157.7M157.2 701.1H203.6M157.2 697.4V701.1M136.0 699.3H157.2M178.8 702.0H193.1M178.8 703.0H186.6M178.8 702.0V703.0M136.0 702.5H178.8M123.0 701.5H136.0M136.0 699.3V702.5M167.0 703.5H195.8M167.0 704.6H179.3M167.0 703.5V704.6M166.5 704.0H167.0M173.2 705.6H186.6M173.2 706.7H199.1M173.2 705.6V706.7M166.5 706.2H173.2M166.5 704.0V706.2M166.0 705.1H166.5M166.0 707.8H185.6M166.0 705.1V707.8M165.5 706.4H166.0M177.9 708.8H187.0M177.9 709.9H189.0M177.9 708.8V709.9M165.5 709.3H177.9M165.5 706.4V709.3M142.0 707.9H165.5M194.5 710.9H206.1M194.5 712.0H207.7M194.5 710.9V712.0M142.0 711.5H194.5M119.8 706.6H142.0M142.0 706.6V711.5M116.8 730.0H119.7M119.7 724.6V733.1M179.8 712.5H198.6M179.8 713.5H190.6M179.8 712.5V713.5M178.6 713.0H179.8M178.6 714.4H202.6M178.6 713.0V714.4M178.1 713.7H178.6M178.1 715.4H201.2M178.1 713.7V715.4M170.9 714.6H178.1M170.9 716.4H207.0M170.9 714.6V716.4M170.4 715.5H170.9M170.4 717.3H200.7M170.4 715.5V717.3M168.7 716.4H170.4M168.7 718.3H199.2M168.7 716.4V718.3M168.2 717.4H168.7M181.6 719.3H204.7M181.6 720.2H192.1M181.6 719.3V720.2M181.1 719.8H181.6M181.1 721.2H215.4M181.1 719.8V721.2M180.6 720.5H181.1M180.6 722.2H198.8M180.6 720.5V722.2M180.1 721.3H180.6M180.1 723.2H193.0M180.1 721.3V723.2M168.2 722.2H180.1M168.2 717.4V722.2M167.7 719.8H168.2M179.6 724.1H189.0M179.6 725.1H187.4M179.6 724.1V725.1M167.7 724.6H179.6M167.7 719.8V724.6M128.0 722.2H167.7M186.6 726.1H203.0M186.6 727.0H200.0M186.6 726.1V727.0M177.5 726.5H186.6M177.5 728.0H193.1M177.5 726.5V728.0M128.0 727.3H177.5M119.7 724.6H128.0M128.0 722.2V727.3M167.1 728.5H178.2M167.1 729.5H183.4M167.1 728.5V729.5M166.6 729.0H167.1M166.6 730.4H178.7M166.6 729.0V730.4M162.9 729.7H166.6M168.0 731.4H183.5M168.0 732.3H179.2M168.0 731.4V732.3M162.9 731.8H168.0M162.9 729.7V731.8M162.4 730.8H162.9M162.4 733.2H189.2M162.4 730.8V733.2M161.9 732.0H162.4M161.9 734.2H182.7M161.9 732.0V734.2M161.4 733.1H161.9M161.4 735.1H187.4M161.4 733.1V735.1M147.2 734.1H161.4M172.3 736.1H185.1M172.3 737.0H182.5M172.3 736.1V737.0M147.2 736.6H172.3M147.2 734.1V736.6M122.0 735.4H147.2M122.0 738.0H193.5M119.7 733.1H122.0M122.0 733.1V738.0M183.2 738.5H189.6M183.2 739.8H188.3M183.2 738.5V739.8M182.7 739.1H183.2M182.7 741.1H188.7M182.7 739.1V741.1M180.5 740.1H182.7M180.5 742.4H191.7M180.5 740.1V742.4M174.0 741.3H180.5M179.2 743.7H190.9M179.2 745.0H184.2M179.2 743.7V745.0M176.9 744.4H179.2M176.9 746.3H189.9M176.9 744.4V746.3M174.0 745.3H176.9M174.0 741.3V745.3M173.5 743.3H174.0M173.5 747.6H188.8M173.5 743.3V747.6M151.7 745.4H173.5M179.9 748.9H189.1M179.9 750.2H184.9M179.9 748.9V750.2M176.0 749.5H179.9M176.0 751.5H186.8M176.0 749.5V751.5M173.3 750.5H176.0M173.3 752.8H181.9M173.3 750.5V752.8M172.8 751.7H173.3M172.8 754.1H185.6M172.8 751.7V754.1M169.0 752.9H172.8M169.0 755.4H176.8M169.0 752.9V755.4M159.3 754.1H169.0M159.3 756.7H172.8M159.3 754.1V756.7M158.6 755.4H159.3M158.6 758.0H171.4M158.6 755.4V758.0M151.7 756.7H158.6M151.7 745.4V756.7M149.8 751.1H151.7M162.4 759.3H180.9M162.4 760.6H169.5M162.4 759.3V760.6M161.9 760.0H162.4M161.9 761.9H171.4M161.9 760.0V761.9M161.4 760.9H161.9M161.4 763.2H178.2M161.4 760.9V763.2M160.9 762.1H161.4M160.9 764.5H173.2M160.9 762.1V764.5M153.7 763.3H160.9M167.3 765.8H175.0M167.3 767.1H176.2M167.3 765.8V767.1M163.9 766.5H167.3M163.9 768.4H169.8M163.9 766.5V768.4M162.2 767.4H163.9M162.2 769.7H168.8M162.2 767.4V769.7M153.7 768.6H162.2M153.7 763.3V768.6M149.8 765.9H153.7M149.8 751.1V765.9M115.0 758.5H149.8M115.0 771.0H169.0M109.8 763.5H115.0M115.0 758.5V771.0M158.4 771.5H168.1M158.4 772.7H165.8M158.4 771.5V772.7M139.1 772.1H158.4M149.5 773.8H158.4M149.5 775.0H160.4M149.5 773.8V775.0M139.1 774.4H149.5M139.1 772.1V774.4M127.9 773.2H139.1M136.9 776.2H153.0M136.9 777.3H149.6M136.9 776.2V777.3M127.9 776.8H136.9M127.9 773.2V776.8M117.9 775.0H127.9M141.8 778.5H164.0M141.8 779.7H150.8M141.8 778.5V779.7M134.0 779.1H141.8M137.2 780.8H150.4M137.2 782.0H148.4M137.2 780.8V782.0M134.0 781.4H137.2M134.0 779.1V781.4M124.8 780.2H134.0M124.8 783.2H149.1M124.8 780.2V783.2M117.9 781.7H124.8M117.9 775.0V781.7M104.0 778.4H117.9M128.4 784.3H148.9M128.4 785.5H141.6M128.4 784.3V785.5M125.7 784.9H128.4M125.7 786.7H147.1M125.7 784.9V786.7M125.2 785.8H125.7M125.2 787.8H145.3M125.2 785.8V787.8M124.7 786.8H125.2M124.7 789.0H143.9M124.7 786.8V789.0M104.0 787.9H124.7M97.8 779.6H104.0M104.0 778.4V787.9M119.2 789.5H129.1M119.2 790.7H131.4M119.2 789.5V790.7M118.7 790.1H119.2M118.7 791.8H142.5M118.7 790.1V791.8M115.5 791.0H118.7M115.5 793.0H148.0M115.5 791.0V793.0M115.0 792.0H115.5M115.0 794.2H153.2M115.0 792.0V794.2M114.5 793.1H115.0M114.5 795.3H155.5M114.5 793.1V795.3M114.0 794.2H114.5M114.0 796.5H164.4M114.0 794.2V796.5M97.0 795.4H114.0M150.6 797.7H163.8M150.6 798.8H160.9M150.6 797.7V798.8M145.7 798.2H150.6M145.7 800.0H161.6M145.7 798.2V800.0M97.0 799.1H145.7M92.6 791.5H97.0M97.0 791.5V799.1M90.1 774.0V801.3M90.1 774.0H92.6M122.7 800.0H136.6M122.7 801.2H130.0M122.7 800.0V801.2M122.1 800.6H122.7M122.1 802.4H129.8M122.1 800.6V802.4M115.8 801.5H122.1M115.8 803.6H129.1M115.8 801.5V803.6M115.3 802.5H115.8M115.3 804.8H136.0M115.3 802.5V804.8M96.1 803.7H115.3M96.1 806.0H135.2M90.1 801.3H96.1M96.1 801.3V806.0M87.6 787.6V809.2M87.6 787.6H90.1M114.1 806.5H126.1M114.1 807.6H134.3M114.1 806.5V807.6M113.6 807.0H114.1M113.6 808.7H131.1M113.6 807.0V808.7M113.1 807.9H113.6M113.1 809.8H129.3M113.1 807.9V809.8M108.2 808.8H113.1M108.2 810.9H134.7M108.2 808.8V810.9M93.6 809.9H108.2M93.6 812.0H130.9M87.6 809.2H93.6M93.6 809.2V812.0M84.2 798.4V816.0M84.2 798.4H87.6M116.9 812.5H125.9M116.9 813.6H129.6M116.9 812.5V813.6M116.4 813.1H116.9M116.4 814.8H131.0M116.4 813.1V814.8M90.2 813.9H116.4M102.2 815.9H116.1M102.2 817.0H119.3M102.2 815.9V817.0M90.2 816.4H102.2M84.2 816.0H90.2M90.2 813.9V816.4M79.2 807.2V820.0M79.2 807.2H84.2M111.2 817.5H120.1M111.2 818.7H121.6M111.2 817.5V818.7M110.5 818.1H111.2M110.5 819.8H121.9M110.5 818.1V819.8M85.2 819.0H110.5M85.2 821.0H116.7M79.2 820.0H85.2M85.2 819.0V821.0M65.0 813.6V823.5M65.0 813.6H79.2M109.5 821.5H118.1M109.5 822.7H117.0M109.5 821.5V822.7M90.5 822.1H109.5M90.5 823.8H100.5M90.5 822.1V823.8M71.0 823.0H90.5M71.0 825.0H87.9M65.0 823.5H71.0M71.0 823.0V825.0M58.0 818.6V827.0M58.0 818.6H65.0M82.5 825.5H93.5M82.5 826.7H90.6M82.5 825.5V826.7M76.0 826.1H82.5M76.0 827.8H82.4M76.0 826.1V827.8M60.0 827.0H76.0M60.0 829.0H89.5M58.0 827.0H60.0M60.0 827.0V829.0M47.0 822.8V831.0M47.0 822.8H58.0M55.9 829.5H78.1M55.9 831.0H67.9M55.9 829.5V831.0M49.0 830.2H55.9M49.0 832.5H62.5M47.0 831.0H49.0M49.0 830.2V832.5M42.0 826.9V835.0M42.0 826.9H47.0M50.2 833.0H65.6M50.2 834.2H56.4M50.2 833.0V834.2M48.2 833.6H50.2M48.2 835.3H59.0M48.2 833.6V835.3M44.0 834.5H48.2M44.0 836.5H53.5M42.0 835.0H44.0M44.0 834.5V836.5M38.0 830.9V839.5M38.0 830.9H42.0M41.0 837.0H49.9M41.0 838.3H45.3M41.0 837.0V838.3M40.5 837.7H41.0M40.5 839.7H44.9M40.5 837.7V839.7M40.0 838.7H40.5M40.0 841.0H39.1M38.0 839.5H40.0M40.0 838.7V841.0M30.0 835.2V844.0M30.0 835.2H38.0M33.0 841.5H40.3M33.0 842.7H30.8M33.0 841.5V842.7M32.5 842.1H33.0M32.5 843.8H31.7M32.5 842.1V843.8M32.0 843.0H32.5M32.0 845.0H34.0M30.0 844.0H32.0M32.0 843.0V845.0M22.0 839.6V848.0M22.0 839.6H30.0M25.0 845.5H29.7M25.0 846.6H27.8M25.0 845.5V846.6M24.5 846.0H25.0M24.5 847.7H24.0M24.5 846.0V847.7M24.0 846.9H24.5M24.0 848.8H24.5M22.0 848.0H24.0M24.0 846.9V848.8M140.0 799.0H156.9M140.0 800.5H153.2M140.0 799.0V800.5M136.4 799.8H140.0M154.5 802.0H169.5M154.5 803.5H167.8M154.5 802.0V803.5M136.4 802.8H154.5M136.4 799.8V802.8M118.0 801.2H136.4M118.0 805.0H144.4M90.1 801.3H118.0M118.0 801.2V805.0" fill="none" stroke="#000" stroke-width="2.0" stroke-linecap="square"/>
<g fill="#00BA38"><circle cx="361.9" cy="2.3" r="3.8"/><circle cx="355.5" cy="3.5" r="3.8"/><circle cx="349.9" cy="4.8" r="3.8"/><circle cx="341.8" cy="6.0" r="3.8"/><circle cx="335.2" cy="7.3" r="3.8"/><circle cx="328.8" cy="8.6" r="3.8"/><circle cx="320.9" cy="9.8" r="3.8"/><circle cx="315.2" cy="11.1" r="3.8"/><circle cx="308.8" cy="12.3" r="3.8"/><circle cx="314.0" cy="13.6" r="3.8"/><circle cx="297.3" cy="14.8" r="3.8"/><circle cx="302.3" cy="16.1" r="3.8"/><circle cx="297.2" cy="17.3" r="3.8"/><circle cx="314.4" cy="18.6" r="3.8"/><circle cx="311.6" cy="19.8" r="3.8"/><circle cx="296.0" cy="21.1" r="3.8"/><circle cx="318.6" cy="22.3" r="3.8"/><circle cx="318.2" cy="23.6" r="3.8"/><circle cx="310.7" cy="24.8" r="3.8"/><circle cx="309.8" cy="26.1" r="3.8"/><circle cx="298.8" cy="27.3" r="3.8"/><circle cx="295.4" cy="28.6" r="3.8"/><circle cx="307.7" cy="29.8" r="3.8"/><circle cx="296.4" cy="31.1" r="3.8"/><circle cx="312.3" cy="34.0" r="3.8"/><circle cx="308.8" cy="35.2" r="3.8"/><circle cx="310.6" cy="36.5" r="3.8"/><circle cx="314.8" cy="37.7" r="3.8"/><circle cx="308.4" cy="38.9" r="3.8"/><circle cx="321.2" cy="40.2" r="3.8"/><circle cx="309.1" cy="41.4" r="3.8"/><circle cx="319.7" cy="42.6" r="3.8"/><circle cx="306.2" cy="43.9" r="3.8"/><circle cx="317.8" cy="45.1" r="3.8"/><circle cx="309.8" cy="46.3" r="3.8"/><circle cx="307.2" cy="47.6" r="3.8"/><circle cx="309.8" cy="48.8" r="3.8"/><circle cx="313.1" cy="50.0" r="3.8"/><circle cx="307.2" cy="51.3" r="3.8"/><circle cx="302.7" cy="52.5" r="3.8"/><circle cx="309.6" cy="54.0" r="3.8"/><circle cx="306.7" cy="55.2" r="3.8"/><circle cx="305.9" cy="56.4" r="3.8"/><circle cx="321.1" cy="57.7" r="3.8"/><circle cx="313.4" cy="58.9" r="3.8"/><circle cx="310.7" cy="60.1" r="3.8"/><circle cx="311.4" cy="61.3" r="3.8"/><circle cx="307.4" cy="62.6" r="3.8"/><circle cx="303.8" cy="63.8" r="3.8"/><circle cx="304.1" cy="65.0" r="3.8"/><circle cx="294.5" cy="65.5" r="3.8"/><circle cx="294.4" cy="66.5" r="3.8"/><circle cx="288.0" cy="67.4" r="3.8"/><circle cx="289.3" cy="68.3" r="3.8"/><circle cx="294.1" cy="69.3" r="3.8"/><circle cx="283.6" cy="70.2" r="3.8"/><circle cx="285.3" cy="71.2" r="3.8"/><circle cx="284.7" cy="72.2" r="3.8"/><circle cx="283.1" cy="73.1" r="3.8"/><circle cx="284.9" cy="74.0" r="3.8"/><circle cx="280.1" cy="75.0" r="3.8"/><circle cx="279.2" cy="75.0" r="3.8"/><circle cx="281.9" cy="76.1" r="3.8"/><circle cx="276.1" cy="77.2" r="3.8"/><circle cx="271.2" cy="78.4" r="3.8"/><circle cx="278.7" cy="79.5" r="3.8"/><circle cx="275.0" cy="80.0" r="3.8"/><circle cx="271.9" cy="80.9" r="3.8"/><circle cx="261.1" cy="81.8" r="3.8"/><circle cx="264.5" cy="82.8" r="3.8"/><circle cx="271.5" cy="83.7" r="3.8"/><circle cx="266.2" cy="84.6" r="3.8"/><circle cx="273.5" cy="85.5" r="3.8"/><circle cx="259.9" cy="86.0" r="3.8"/><circle cx="267.0" cy="87.0" r="3.8"/><circle cx="259.1" cy="88.0" r="3.8"/><circle cx="259.9" cy="89.0" r="3.8"/><circle cx="256.4" cy="90.0" r="3.8"/><circle cx="256.9" cy="91.0" r="3.8"/><circle cx="325.0" cy="23.0" r="3.8"/><circle cx="293.4" cy="90.0" r="3.8"/><circle cx="279.3" cy="91.8" r="3.8"/><circle cx="288.8" cy="93.6" r="3.8"/><circle cx="291.4" cy="95.5" r="3.8"/><circle cx="287.5" cy="97.3" r="3.8"/><circle cx="289.1" cy="99.1" r="3.8"/><circle cx="284.3" cy="100.9" r="3.8"/><circle cx="298.1" cy="102.7" r="3.8"/><circle cx="289.3" cy="104.5" r="3.8"/><circle cx="282.8" cy="106.4" r="3.8"/><circle cx="290.5" cy="108.2" r="3.8"/><circle cx="300.8" cy="110.0" r="3.8"/><circle cx="292.0" cy="111.0" r="3.8"/><circle cx="307.2" cy="112.3" r="3.8"/><circle cx="294.9" cy="113.6" r="3.8"/><circle cx="308.7" cy="114.9" r="3.8"/><circle cx="302.2" cy="116.2" r="3.8"/><circle cx="307.9" cy="117.6" r="3.8"/><circle cx="314.9" cy="118.9" r="3.8"/><circle cx="294.6" cy="120.2" r="3.8"/><circle cx="306.4" cy="121.5" r="3.8"/><circle cx="312.7" cy="122.0" r="3.8"/><circle cx="307.6" cy="123.8" r="3.8"/><circle cx="293.7" cy="125.7" r="3.8"/><circle cx="295.9" cy="127.5" r="3.8"/><circle cx="284.7" cy="128.5" r="3.8"/><circle cx="285.0" cy="130.3" r="3.8"/><circle cx="283.9" cy="132.1" r="3.8"/><circle cx="280.3" cy="133.9" r="3.8"/><circle cx="286.8" cy="135.6" r="3.8"/><circle cx="287.1" cy="137.4" r="3.8"/><circle cx="277.8" cy="139.2" r="3.8"/><circle cx="281.2" cy="141.0" r="3.8"/><circle cx="291.4" cy="141.5" r="3.8"/><circle cx="301.0" cy="143.3" r="3.8"/><circle cx="298.8" cy="145.2" r="3.8"/><circle cx="296.9" cy="147.0" r="3.8"/><circle cx="299.2" cy="148.8" r="3.8"/><circle cx="302.3" cy="150.7" r="3.8"/><circle cx="292.9" cy="152.5" r="3.8"/><circle cx="288.5" cy="154.3" r="3.8"/><circle cx="287.4" cy="156.2" r="3.8"/><circle cx="287.4" cy="158.0" r="3.8"/><circle cx="274.6" cy="158.5" r="3.8"/><circle cx="280.5" cy="160.4" r="3.8"/><circle cx="282.4" cy="162.2" r="3.8"/><circle cx="268.3" cy="164.1" r="3.8"/><circle cx="267.1" cy="166.0" r="3.8"/><circle cx="280.7" cy="166.5" r="3.8"/><circle cx="284.7" cy="168.0" r="3.8"/><circle cx="276.2" cy="169.5" r="3.8"/><circle cx="279.1" cy="171.0" r="3.8"/><circle cx="273.0" cy="172.5" r="3.8"/><circle cx="265.4" cy="174.0" r="3.8"/><circle cx="337.0" cy="167.5" r="3.8"/><circle cx="341.5" cy="166.5" r="3.8"/><circle cx="345.0" cy="166.0" r="3.8"/><circle cx="235.8" cy="276.5" r="3.8"/><circle cx="231.8" cy="278.8" r="3.8"/><circle cx="243.9" cy="281.1" r="3.8"/><circle cx="250.2" cy="283.4" r="3.8"/><circle cx="256.5" cy="285.7" r="3.8"/><circle cx="246.2" cy="288.0" r="3.8"/><circle cx="253.5" cy="282.5" r="3.8"/><circle cx="262.0" cy="284.5" r="3.8"/><circle cx="228.9" cy="296.5" r="3.8"/><circle cx="232.0" cy="298.0" r="3.8"/><circle cx="234.4" cy="299.5" r="3.8"/><circle cx="259.0" cy="300.5" r="3.8"/><circle cx="261.9" cy="301.6" r="3.8"/><circle cx="263.3" cy="302.6" r="3.8"/><circle cx="259.4" cy="303.7" r="3.8"/><circle cx="249.9" cy="304.7" r="3.8"/><circle cx="260.6" cy="305.8" r="3.8"/><circle cx="269.5" cy="306.9" r="3.8"/><circle cx="267.7" cy="307.9" r="3.8"/><circle cx="243.2" cy="309.0" r="3.8"/><circle cx="267.0" cy="310.0" r="3.8"/><circle cx="244.5" cy="311.1" r="3.8"/><circle cx="249.5" cy="312.2" r="3.8"/><circle cx="242.8" cy="313.2" r="3.8"/><circle cx="241.2" cy="314.3" r="3.8"/><circle cx="252.3" cy="315.3" r="3.8"/><circle cx="253.7" cy="316.4" r="3.8"/><circle cx="237.8" cy="317.5" r="3.8"/><circle cx="239.3" cy="318.5" r="3.8"/><circle cx="234.9" cy="319.6" r="3.8"/><circle cx="228.6" cy="320.6" r="3.8"/><circle cx="226.8" cy="321.7" r="3.8"/><circle cx="234.2" cy="322.8" r="3.8"/><circle cx="229.8" cy="323.8" r="3.8"/><circle cx="239.9" cy="324.9" r="3.8"/><circle cx="229.4" cy="325.9" r="3.8"/><circle cx="229.3" cy="327.0" r="3.8"/><circle cx="241.6" cy="328.0" r="3.8"/><circle cx="241.9" cy="329.1" r="3.8"/><circle cx="246.1" cy="330.2" r="3.8"/><circle cx="236.0" cy="331.2" r="3.8"/><circle cx="245.8" cy="332.3" r="3.8"/><circle cx="226.2" cy="333.3" r="3.8"/><circle cx="234.8" cy="334.4" r="3.8"/><circle cx="231.4" cy="335.5" r="3.8"/><circle cx="220.4" cy="336.5" r="3.8"/><circle cx="222.2" cy="337.6" r="3.8"/><circle cx="228.4" cy="338.6" r="3.8"/><circle cx="228.3" cy="339.7" r="3.8"/><circle cx="225.0" cy="340.8" r="3.8"/><circle cx="228.9" cy="341.8" r="3.8"/><circle cx="219.4" cy="342.9" r="3.8"/><circle cx="220.4" cy="343.9" r="3.8"/><circle cx="215.5" cy="345.0" r="3.8"/><circle cx="231.8" cy="346.0" r="3.8"/><circle cx="235.6" cy="347.5" r="3.8"/><circle cx="232.7" cy="349.0" r="3.8"/><circle cx="229.9" cy="350.4" r="3.8"/><circle cx="235.0" cy="351.9" r="3.8"/><circle cx="221.3" cy="353.4" r="3.8"/><circle cx="242.3" cy="354.9" r="3.8"/><circle cx="238.4" cy="356.4" r="3.8"/><circle cx="236.5" cy="357.8" r="3.8"/><circle cx="241.1" cy="359.3" r="3.8"/><circle cx="234.2" cy="360.8" r="3.8"/><circle cx="241.3" cy="362.3" r="3.8"/><circle cx="248.4" cy="363.8" r="3.8"/><circle cx="244.3" cy="365.2" r="3.8"/><circle cx="242.0" cy="366.7" r="3.8"/><circle cx="232.4" cy="368.2" r="3.8"/><circle cx="224.1" cy="369.7" r="3.8"/><circle cx="227.4" cy="371.2" r="3.8"/><circle cx="226.9" cy="372.6" r="3.8"/><circle cx="223.2" cy="374.1" r="3.8"/><circle cx="222.6" cy="375.6" r="3.8"/><circle cx="227.9" cy="377.1" r="3.8"/><circle cx="226.0" cy="378.6" r="3.8"/><circle cx="217.7" cy="380.0" r="3.8"/><circle cx="234.7" cy="381.5" r="3.8"/><circle cx="232.4" cy="383.0" r="3.8"/><circle cx="243.8" cy="383.5" r="3.8"/><circle cx="243.7" cy="384.5" r="3.8"/><circle cx="247.3" cy="385.6" r="3.8"/><circle cx="242.5" cy="386.6" r="3.8"/><circle cx="252.7" cy="387.6" r="3.8"/><circle cx="248.0" cy="388.7" r="3.8"/><circle cx="255.0" cy="389.7" r="3.8"/><circle cx="242.6" cy="390.8" r="3.8"/><circle cx="254.9" cy="391.8" r="3.8"/><circle cx="249.3" cy="392.8" r="3.8"/><circle cx="241.6" cy="393.9" r="3.8"/><circle cx="238.5" cy="394.9" r="3.8"/><circle cx="250.7" cy="395.9" r="3.8"/><circle cx="235.0" cy="397.0" r="3.8"/><circle cx="248.9" cy="398.0" r="3.8"/><circle cx="242.7" cy="399.1" r="3.8"/><circle cx="232.0" cy="400.1" r="3.8"/><circle cx="252.6" cy="401.1" r="3.8"/><circle cx="249.7" cy="402.2" r="3.8"/><circle cx="234.2" cy="403.2" r="3.8"/><circle cx="232.8" cy="404.2" r="3.8"/><circle cx="254.4" cy="405.3" r="3.8"/><circle cx="245.5" cy="406.3" r="3.8"/><circle cx="246.8" cy="407.4" r="3.8"/><circle cx="240.8" cy="408.4" r="3.8"/><circle cx="231.1" cy="409.4" r="3.8"/><circle cx="229.3" cy="410.5" r="3.8"/><circle cx="232.5" cy="411.5" r="3.8"/><circle cx="228.8" cy="412.6" r="3.8"/><circle cx="234.6" cy="413.6" r="3.8"/><circle cx="232.4" cy="414.6" r="3.8"/><circle cx="240.5" cy="415.7" r="3.8"/><circle cx="226.8" cy="416.7" r="3.8"/><circle cx="237.5" cy="417.7" r="3.8"/><circle cx="229.8" cy="418.8" r="3.8"/><circle cx="237.9" cy="419.8" r="3.8"/><circle cx="225.6" cy="420.9" r="3.8"/><circle cx="220.3" cy="421.9" r="3.8"/><circle cx="233.7" cy="422.9" r="3.8"/><circle cx="223.4" cy="424.0" r="3.8"/><circle cx="233.0" cy="425.0" r="3.8"/><circle cx="229.7" cy="425.5" r="3.8"/><circle cx="226.0" cy="426.5" r="3.8"/><circle cx="220.5" cy="427.6" r="3.8"/><circle cx="238.6" cy="428.6" r="3.8"/><circle cx="225.0" cy="429.7" r="3.8"/><circle cx="227.8" cy="430.7" r="3.8"/><circle cx="227.3" cy="431.8" r="3.8"/><circle cx="240.7" cy="432.8" r="3.8"/><circle cx="234.5" cy="433.9" r="3.8"/><circle cx="224.6" cy="434.9" r="3.8"/><circle cx="223.9" cy="436.0" r="3.8"/><circle cx="234.8" cy="437.0" r="3.8"/><circle cx="256.1" cy="437.5" r="3.8"/><circle cx="256.2" cy="438.5" r="3.8"/><circle cx="248.5" cy="439.6" r="3.8"/><circle cx="251.7" cy="440.6" r="3.8"/><circle cx="256.1" cy="441.6" r="3.8"/><circle cx="244.3" cy="442.6" r="3.8"/><circle cx="252.5" cy="443.7" r="3.8"/><circle cx="270.1" cy="444.7" r="3.8"/><circle cx="250.1" cy="445.7" r="3.8"/><circle cx="246.1" cy="446.8" r="3.8"/><circle cx="258.9" cy="447.8" r="3.8"/><circle cx="248.6" cy="448.8" r="3.8"/><circle cx="246.1" cy="449.9" r="3.8"/><circle cx="264.1" cy="450.9" r="3.8"/><circle cx="264.3" cy="451.9" r="3.8"/><circle cx="248.6" cy="452.9" r="3.8"/><circle cx="247.7" cy="454.0" r="3.8"/><circle cx="242.1" cy="455.0" r="3.8"/><circle cx="256.3" cy="342.9" r="3.8"/><circle cx="266.9" cy="342.9" r="3.8"/><circle cx="259.0" cy="393.4" r="3.8"/><circle cx="262.6" cy="432.0" r="3.8"/><circle cx="275.3" cy="435.6" r="3.8"/><circle cx="268.5" cy="311.4" r="3.8"/><circle cx="258.0" cy="398.0" r="3.8"/><circle cx="258.0" cy="405.0" r="3.8"/><circle cx="214.8" cy="456.0" r="3.8"/><circle cx="216.2" cy="457.1" r="3.8"/><circle cx="209.8" cy="458.1" r="3.8"/><circle cx="213.2" cy="459.2" r="3.8"/><circle cx="220.4" cy="460.2" r="3.8"/><circle cx="215.2" cy="461.3" r="3.8"/><circle cx="202.0" cy="462.3" r="3.8"/><circle cx="218.7" cy="463.4" r="3.8"/><circle cx="215.6" cy="464.5" r="3.8"/><circle cx="211.1" cy="465.5" r="3.8"/><circle cx="208.8" cy="466.6" r="3.8"/><circle cx="217.3" cy="467.6" r="3.8"/><circle cx="216.5" cy="468.7" r="3.8"/><circle cx="219.4" cy="469.7" r="3.8"/><circle cx="230.8" cy="470.8" r="3.8"/><circle cx="226.7" cy="471.8" r="3.8"/><circle cx="225.5" cy="472.9" r="3.8"/><circle cx="223.3" cy="474.0" r="3.8"/><circle cx="222.8" cy="475.0" r="3.8"/><circle cx="217.3" cy="476.1" r="3.8"/><circle cx="226.3" cy="477.1" r="3.8"/><circle cx="238.6" cy="478.2" r="3.8"/><circle cx="222.3" cy="479.2" r="3.8"/><circle cx="242.5" cy="480.3" r="3.8"/><circle cx="239.1" cy="481.4" r="3.8"/><circle cx="238.1" cy="482.4" r="3.8"/><circle cx="232.1" cy="483.5" r="3.8"/><circle cx="240.6" cy="484.5" r="3.8"/><circle cx="234.7" cy="485.6" r="3.8"/><circle cx="231.8" cy="486.6" r="3.8"/><circle cx="246.8" cy="487.7" r="3.8"/><circle cx="232.9" cy="488.8" r="3.8"/><circle cx="221.9" cy="489.8" r="3.8"/><circle cx="235.9" cy="490.9" r="3.8"/><circle cx="240.2" cy="491.9" r="3.8"/><circle cx="227.8" cy="493.0" r="3.8"/><circle cx="238.3" cy="494.0" r="3.8"/><circle cx="239.9" cy="495.1" r="3.8"/><circle cx="243.1" cy="496.2" r="3.8"/><circle cx="229.5" cy="497.2" r="3.8"/><circle cx="241.3" cy="498.3" r="3.8"/><circle cx="231.1" cy="499.3" r="3.8"/><circle cx="238.7" cy="500.4" r="3.8"/><circle cx="232.9" cy="501.4" r="3.8"/><circle cx="240.3" cy="502.5" r="3.8"/><circle cx="231.3" cy="503.5" r="3.8"/><circle cx="235.5" cy="504.6" r="3.8"/><circle cx="215.3" cy="505.7" r="3.8"/><circle cx="211.9" cy="506.7" r="3.8"/><circle cx="207.9" cy="507.8" r="3.8"/><circle cx="213.6" cy="508.8" r="3.8"/><circle cx="211.2" cy="509.9" r="3.8"/><circle cx="215.8" cy="510.9" r="3.8"/><circle cx="221.4" cy="512.0" r="3.8"/><circle cx="252.8" cy="483.8" r="3.8"/><circle cx="263.3" cy="482.4" r="3.8"/><circle cx="219.6" cy="515.4" r="3.8"/><circle cx="211.2" cy="518.3" r="3.8"/><circle cx="227.8" cy="521.2" r="3.8"/><circle cx="231.9" cy="522.6" r="3.8"/><circle cx="227.5" cy="524.1" r="3.8"/><circle cx="241.0" cy="529.8" r="3.8"/><circle cx="243.1" cy="531.3" r="3.8"/><circle cx="247.9" cy="534.2" r="3.8"/><circle cx="234.7" cy="538.5" r="3.8"/><circle cx="226.0" cy="539.9" r="3.8"/><circle cx="231.3" cy="542.8" r="3.8"/><circle cx="224.7" cy="544.2" r="3.8"/><circle cx="226.8" cy="545.7" r="3.8"/><circle cx="213.5" cy="550.0" r="3.8"/><circle cx="221.6" cy="552.9" r="3.8"/><circle cx="211.5" cy="555.7" r="3.8"/><circle cx="222.1" cy="560.1" r="3.8"/><circle cx="217.2" cy="561.5" r="3.8"/><circle cx="242.7" cy="562.5" r="3.8"/><circle cx="235.2" cy="563.7" r="3.8"/><circle cx="237.2" cy="564.9" r="3.8"/><circle cx="235.2" cy="566.1" r="3.8"/><circle cx="232.0" cy="567.3" r="3.8"/><circle cx="237.0" cy="568.5" r="3.8"/><circle cx="234.4" cy="569.7" r="3.8"/><circle cx="233.5" cy="570.8" r="3.8"/><circle cx="230.6" cy="572.0" r="3.8"/><circle cx="238.6" cy="573.2" r="3.8"/><circle cx="233.2" cy="574.4" r="3.8"/><circle cx="239.3" cy="575.6" r="3.8"/><circle cx="237.6" cy="576.8" r="3.8"/><circle cx="242.3" cy="578.0" r="3.8"/><circle cx="233.3" cy="578.0" r="3.8"/><circle cx="237.2" cy="579.2" r="3.8"/><circle cx="243.9" cy="580.5" r="3.8"/><circle cx="250.7" cy="581.7" r="3.8"/><circle cx="245.8" cy="582.9" r="3.8"/><circle cx="247.7" cy="584.1" r="3.8"/><circle cx="250.8" cy="585.4" r="3.8"/><circle cx="246.9" cy="586.6" r="3.8"/><circle cx="232.2" cy="587.8" r="3.8"/><circle cx="253.7" cy="589.0" r="3.8"/><circle cx="238.8" cy="590.3" r="3.8"/><circle cx="247.3" cy="591.5" r="3.8"/><circle cx="194.3" cy="630.7" r="3.8"/><circle cx="198.8" cy="631.9" r="3.8"/><circle cx="184.0" cy="633.2" r="3.8"/><circle cx="195.1" cy="634.4" r="3.8"/><circle cx="193.0" cy="635.6" r="3.8"/><circle cx="192.3" cy="638.0" r="3.8"/><circle cx="191.3" cy="639.2" r="3.8"/><circle cx="200.1" cy="641.7" r="3.8"/><circle cx="212.2" cy="647.8" r="3.8"/><circle cx="207.2" cy="649.0" r="3.8"/><circle cx="197.4" cy="650.8" r="3.8"/><circle cx="186.7" cy="654.5" r="3.8"/><circle cx="186.3" cy="655.8" r="3.8"/><circle cx="192.3" cy="657.0" r="3.8"/><circle cx="194.7" cy="658.2" r="3.8"/><circle cx="193.5" cy="662.0" r="3.8"/><circle cx="217.8" cy="633.7" r="3.8"/><circle cx="238.0" cy="530.0" r="3.8"/><circle cx="244.0" cy="528.0" r="3.8"/><circle cx="240.0" cy="545.0" r="3.8"/><circle cx="232.0" cy="543.0" r="3.8"/><circle cx="187.3" cy="662.5" r="3.8"/><circle cx="179.3" cy="663.5" r="3.8"/><circle cx="193.2" cy="664.5" r="3.8"/><circle cx="171.6" cy="665.4" r="3.8"/><circle cx="184.5" cy="666.4" r="3.8"/><circle cx="187.0" cy="667.4" r="3.8"/><circle cx="191.3" cy="668.4" r="3.8"/><circle cx="206.2" cy="669.3" r="3.8"/><circle cx="199.3" cy="670.3" r="3.8"/><circle cx="205.7" cy="671.3" r="3.8"/><circle cx="207.7" cy="672.3" r="3.8"/><circle cx="203.9" cy="673.2" r="3.8"/><circle cx="187.0" cy="674.2" r="3.8"/><circle cx="183.5" cy="675.2" r="3.8"/><circle cx="185.2" cy="676.2" r="3.8"/><circle cx="194.8" cy="677.2" r="3.8"/><circle cx="184.9" cy="678.1" r="3.8"/><circle cx="214.0" cy="679.1" r="3.8"/><circle cx="184.4" cy="680.1" r="3.8"/><circle cx="187.1" cy="681.1" r="3.8"/><circle cx="208.1" cy="682.0" r="3.8"/><circle cx="200.3" cy="683.0" r="3.8"/><circle cx="183.7" cy="684.0" r="3.8"/><circle cx="203.4" cy="684.5" r="3.8"/><circle cx="220.3" cy="685.6" r="3.8"/><circle cx="213.2" cy="686.6" r="3.8"/><circle cx="214.8" cy="687.7" r="3.8"/><circle cx="190.6" cy="688.8" r="3.8"/><circle cx="185.9" cy="689.8" r="3.8"/><circle cx="179.3" cy="690.9" r="3.8"/><circle cx="190.7" cy="691.9" r="3.8"/><circle cx="211.7" cy="693.0" r="3.8"/><circle cx="196.2" cy="693.5" r="3.8"/><circle cx="195.4" cy="694.5" r="3.8"/><circle cx="216.6" cy="695.4" r="3.8"/><circle cx="199.6" cy="696.4" r="3.8"/><circle cx="199.3" cy="697.3" r="3.8"/><circle cx="196.0" cy="698.2" r="3.8"/><circle cx="183.6" cy="699.2" r="3.8"/><circle cx="188.6" cy="700.1" r="3.8"/><circle cx="203.6" cy="701.1" r="3.8"/><circle cx="193.1" cy="702.0" r="3.8"/><circle cx="186.6" cy="703.0" r="3.8"/><circle cx="195.8" cy="703.5" r="3.8"/><circle cx="179.3" cy="704.6" r="3.8"/><circle cx="186.6" cy="705.6" r="3.8"/><circle cx="199.1" cy="706.7" r="3.8"/><circle cx="185.6" cy="707.8" r="3.8"/><circle cx="187.0" cy="708.8" r="3.8"/><circle cx="189.0" cy="709.9" r="3.8"/><circle cx="206.1" cy="710.9" r="3.8"/><circle cx="207.7" cy="712.0" r="3.8"/><circle cx="198.6" cy="712.5" r="3.8"/><circle cx="190.6" cy="713.5" r="3.8"/><circle cx="202.6" cy="714.4" r="3.8"/><circle cx="201.2" cy="715.4" r="3.8"/><circle cx="207.0" cy="716.4" r="3.8"/><circle cx="200.7" cy="717.3" r="3.8"/><circle cx="199.2" cy="718.3" r="3.8"/><circle cx="204.7" cy="719.3" r="3.8"/><circle cx="192.1" cy="720.2" r="3.8"/><circle cx="215.4" cy="721.2" r="3.8"/><circle cx="198.8" cy="722.2" r="3.8"/><circle cx="193.0" cy="723.2" r="3.8"/><circle cx="189.0" cy="724.1" r="3.8"/><circle cx="187.4" cy="725.1" r="3.8"/><circle cx="203.0" cy="726.1" r="3.8"/><circle cx="200.0" cy="727.0" r="3.8"/><circle cx="193.1" cy="728.0" r="3.8"/><circle cx="178.2" cy="728.5" r="3.8"/><circle cx="183.4" cy="729.5" r="3.8"/><circle cx="178.7" cy="730.4" r="3.8"/><circle cx="183.5" cy="731.4" r="3.8"/><circle cx="179.2" cy="732.3" r="3.8"/><circle cx="189.2" cy="733.2" r="3.8"/><circle cx="182.7" cy="734.2" r="3.8"/><circle cx="187.4" cy="735.1" r="3.8"/><circle cx="185.1" cy="736.1" r="3.8"/><circle cx="182.5" cy="737.0" r="3.8"/><circle cx="193.5" cy="738.0" r="3.8"/><circle cx="189.6" cy="738.5" r="3.8"/><circle cx="188.3" cy="739.8" r="3.8"/><circle cx="188.7" cy="741.1" r="3.8"/><circle cx="191.7" cy="742.4" r="3.8"/><circle cx="190.9" cy="743.7" r="3.8"/><circle cx="184.2" cy="745.0" r="3.8"/><circle cx="189.9" cy="746.3" r="3.8"/><circle cx="188.8" cy="747.6" r="3.8"/><circle cx="189.1" cy="748.9" r="3.8"/><circle cx="184.9" cy="750.2" r="3.8"/><circle cx="186.8" cy="751.5" r="3.8"/><circle cx="181.9" cy="752.8" r="3.8"/><circle cx="185.6" cy="754.1" r="3.8"/><circle cx="176.8" cy="755.4" r="3.8"/><circle cx="172.8" cy="756.7" r="3.8"/><circle cx="171.4" cy="758.0" r="3.8"/><circle cx="180.9" cy="759.3" r="3.8"/><circle cx="169.5" cy="760.6" r="3.8"/><circle cx="171.4" cy="761.9" r="3.8"/><circle cx="178.2" cy="763.2" r="3.8"/><circle cx="173.2" cy="764.5" r="3.8"/><circle cx="175.0" cy="765.8" r="3.8"/><circle cx="176.2" cy="767.1" r="3.8"/><circle cx="169.8" cy="768.4" r="3.8"/><circle cx="168.8" cy="769.7" r="3.8"/><circle cx="169.0" cy="771.0" r="3.8"/><circle cx="168.1" cy="771.5" r="3.8"/><circle cx="165.8" cy="772.7" r="3.8"/><circle cx="158.4" cy="773.8" r="3.8"/><circle cx="160.4" cy="775.0" r="3.8"/><circle cx="153.0" cy="776.2" r="3.8"/><circle cx="149.6" cy="777.3" r="3.8"/><circle cx="164.0" cy="778.5" r="3.8"/><circle cx="150.8" cy="779.7" r="3.8"/><circle cx="150.4" cy="780.8" r="3.8"/><circle cx="148.4" cy="782.0" r="3.8"/><circle cx="149.1" cy="783.2" r="3.8"/><circle cx="148.9" cy="784.3" r="3.8"/><circle cx="141.6" cy="785.5" r="3.8"/><circle cx="147.1" cy="786.7" r="3.8"/><circle cx="145.3" cy="787.8" r="3.8"/><circle cx="143.9" cy="789.0" r="3.8"/><circle cx="129.1" cy="789.5" r="3.8"/><circle cx="131.4" cy="790.7" r="3.8"/><circle cx="142.5" cy="791.8" r="3.8"/><circle cx="148.0" cy="793.0" r="3.8"/><circle cx="153.2" cy="794.2" r="3.8"/><circle cx="155.5" cy="795.3" r="3.8"/><circle cx="164.4" cy="796.5" r="3.8"/><circle cx="163.8" cy="797.7" r="3.8"/><circle cx="160.9" cy="798.8" r="3.8"/><circle cx="161.6" cy="800.0" r="3.8"/><circle cx="136.6" cy="800.0" r="3.8"/><circle cx="130.0" cy="801.2" r="3.8"/><circle cx="129.8" cy="802.4" r="3.8"/><circle cx="129.1" cy="803.6" r="3.8"/><circle cx="136.0" cy="804.8" r="3.8"/><circle cx="135.2" cy="806.0" r="3.8"/><circle cx="126.1" cy="806.5" r="3.8"/><circle cx="134.3" cy="807.6" r="3.8"/><circle cx="131.1" cy="808.7" r="3.8"/><circle cx="129.3" cy="809.8" r="3.8"/><circle cx="134.7" cy="810.9" r="3.8"/><circle cx="130.9" cy="812.0" r="3.8"/><circle cx="125.9" cy="812.5" r="3.8"/><circle cx="129.6" cy="813.6" r="3.8"/><circle cx="131.0" cy="814.8" r="3.8"/><circle cx="116.1" cy="815.9" r="3.8"/><circle cx="119.3" cy="817.0" r="3.8"/><circle cx="120.1" cy="817.5" r="3.8"/><circle cx="121.6" cy="818.7" r="3.8"/><circle cx="121.9" cy="819.8" r="3.8"/><circle cx="116.7" cy="821.0" r="3.8"/><circle cx="118.1" cy="821.5" r="3.8"/><circle cx="117.0" cy="822.7" r="3.8"/><circle cx="100.5" cy="823.8" r="3.8"/><circle cx="87.9" cy="825.0" r="3.8"/><circle cx="93.5" cy="825.5" r="3.8"/><circle cx="90.6" cy="826.7" r="3.8"/><circle cx="82.4" cy="827.8" r="3.8"/><circle cx="89.5" cy="829.0" r="3.8"/><circle cx="78.1" cy="829.5" r="3.8"/><circle cx="67.9" cy="831.0" r="3.8"/><circle cx="62.5" cy="832.5" r="3.8"/><circle cx="65.6" cy="833.0" r="3.8"/><circle cx="56.4" cy="834.2" r="3.8"/><circle cx="59.0" cy="835.3" r="3.8"/><circle cx="53.5" cy="836.5" r="3.8"/><circle cx="49.9" cy="837.0" r="3.8"/><circle cx="45.3" cy="838.3" r="3.8"/><circle cx="44.9" cy="839.7" r="3.8"/><circle cx="39.1" cy="841.0" r="3.8"/><circle cx="40.3" cy="841.5" r="3.8"/><circle cx="30.8" cy="842.7" r="3.8"/><circle cx="31.7" cy="843.8" r="3.8"/><circle cx="34.0" cy="845.0" r="3.8"/><circle cx="29.7" cy="845.5" r="3.8"/><circle cx="27.8" cy="846.6" r="3.8"/><circle cx="24.0" cy="847.7" r="3.8"/><circle cx="24.5" cy="848.8" r="3.8"/><circle cx="156.9" cy="799.0" r="3.8"/><circle cx="153.2" cy="800.5" r="3.8"/><circle cx="169.5" cy="802.0" r="3.8"/><circle cx="167.8" cy="803.5" r="3.8"/><circle cx="144.4" cy="805.0" r="3.8"/></g>
<g fill="#F8766D"><circle cx="257.5" cy="289.0" r="3.8"/><circle cx="257.4" cy="290.8" r="3.8"/><circle cx="253.8" cy="292.5" r="3.8"/><circle cx="238.4" cy="294.2" r="3.8"/><circle cx="243.9" cy="296.0" r="3.8"/><circle cx="212.3" cy="514.0" r="3.8"/><circle cx="219.4" cy="516.9" r="3.8"/><circle cx="226.6" cy="519.8" r="3.8"/><circle cx="214.8" cy="525.5" r="3.8"/><circle cx="222.7" cy="527.0" r="3.8"/><circle cx="218.8" cy="528.4" r="3.8"/><circle cx="226.0" cy="532.7" r="3.8"/><circle cx="227.6" cy="535.6" r="3.8"/><circle cx="242.0" cy="537.0" r="3.8"/><circle cx="228.0" cy="541.3" r="3.8"/><circle cx="233.0" cy="547.1" r="3.8"/><circle cx="215.9" cy="548.5" r="3.8"/><circle cx="231.2" cy="551.4" r="3.8"/><circle cx="217.6" cy="554.3" r="3.8"/><circle cx="223.9" cy="557.2" r="3.8"/><circle cx="219.9" cy="558.6" r="3.8"/><circle cx="227.2" cy="592.0" r="3.8"/><circle cx="234.9" cy="593.2" r="3.8"/><circle cx="224.1" cy="594.3" r="3.8"/><circle cx="224.0" cy="595.5" r="3.8"/><circle cx="230.1" cy="596.7" r="3.8"/><circle cx="223.4" cy="597.8" r="3.8"/><circle cx="220.4" cy="599.0" r="3.8"/><circle cx="221.9" cy="600.2" r="3.8"/><circle cx="207.2" cy="601.3" r="3.8"/><circle cx="214.2" cy="602.5" r="3.8"/><circle cx="218.6" cy="603.7" r="3.8"/><circle cx="214.4" cy="604.8" r="3.8"/><circle cx="209.0" cy="606.0" r="3.8"/><circle cx="203.1" cy="606.5" r="3.8"/><circle cx="202.8" cy="607.8" r="3.8"/><circle cx="211.1" cy="609.1" r="3.8"/><circle cx="205.1" cy="610.5" r="3.8"/><circle cx="208.2" cy="611.8" r="3.8"/><circle cx="215.6" cy="613.1" r="3.8"/><circle cx="213.6" cy="614.4" r="3.8"/><circle cx="223.4" cy="615.8" r="3.8"/><circle cx="221.1" cy="617.1" r="3.8"/><circle cx="225.8" cy="618.4" r="3.8"/><circle cx="220.8" cy="619.7" r="3.8"/><circle cx="230.7" cy="621.1" r="3.8"/><circle cx="226.2" cy="622.4" r="3.8"/><circle cx="227.5" cy="623.7" r="3.8"/><circle cx="233.2" cy="625.0" r="3.8"/><circle cx="232.4" cy="626.4" r="3.8"/><circle cx="229.8" cy="627.7" r="3.8"/><circle cx="214.0" cy="629.0" r="3.8"/><circle cx="204.8" cy="629.5" r="3.8"/><circle cx="189.0" cy="636.8" r="3.8"/><circle cx="205.5" cy="640.5" r="3.8"/><circle cx="198.9" cy="642.9" r="3.8"/><circle cx="205.3" cy="644.1" r="3.8"/><circle cx="205.1" cy="645.3" r="3.8"/><circle cx="200.6" cy="646.6" r="3.8"/><circle cx="197.8" cy="649.5" r="3.8"/><circle cx="195.9" cy="652.0" r="3.8"/><circle cx="194.8" cy="653.2" r="3.8"/><circle cx="195.4" cy="659.5" r="3.8"/><circle cx="207.4" cy="660.8" r="3.8"/><circle cx="226.3" cy="654.1" r="3.8"/></g>
<g fill="#619CFF"><circle cx="318.8" cy="23.8" r="3.8"/><circle cx="317.2" cy="58.8" r="3.8"/><circle cx="325.4" cy="53.3" r="3.8"/><circle cx="284.2" cy="77.6" r="3.8"/><circle cx="661.5" cy="169.5" r="3.8"/><circle cx="659.4" cy="170.7" r="3.8"/><circle cx="662.8" cy="171.9" r="3.8"/><circle cx="660.2" cy="173.0" r="3.8"/><circle cx="660.6" cy="174.2" r="3.8"/><circle cx="660.9" cy="175.4" r="3.8"/><circle cx="659.9" cy="176.6" r="3.8"/><circle cx="664.7" cy="177.8" r="3.8"/><circle cx="664.5" cy="178.9" r="3.8"/><circle cx="662.9" cy="180.1" r="3.8"/><circle cx="661.3" cy="181.3" r="3.8"/><circle cx="661.4" cy="182.5" r="3.8"/><circle cx="663.9" cy="183.6" r="3.8"/><circle cx="665.4" cy="184.8" r="3.8"/><circle cx="664.1" cy="186.0" r="3.8"/><circle cx="661.6" cy="187.0" r="3.8"/><circle cx="660.8" cy="188.2" r="3.8"/><circle cx="662.7" cy="189.4" r="3.8"/><circle cx="661.6" cy="190.6" r="3.8"/><circle cx="667.2" cy="191.8" r="3.8"/><circle cx="666.5" cy="193.0" r="3.8"/><circle cx="663.8" cy="194.2" r="3.8"/><circle cx="664.2" cy="195.4" r="3.8"/><circle cx="662.1" cy="196.6" r="3.8"/><circle cx="664.8" cy="197.8" r="3.8"/><circle cx="666.7" cy="199.0" r="3.8"/><circle cx="640.8" cy="195.0" r="3.8"/><circle cx="644.0" cy="196.2" r="3.8"/><circle cx="643.1" cy="197.3" r="3.8"/><circle cx="642.0" cy="198.5" r="3.8"/><circle cx="643.9" cy="199.7" r="3.8"/><circle cx="642.2" cy="200.8" r="3.8"/><circle cx="645.1" cy="202.0" r="3.8"/><circle cx="640.0" cy="203.2" r="3.8"/><circle cx="641.2" cy="204.3" r="3.8"/><circle cx="646.7" cy="205.5" r="3.8"/><circle cx="644.3" cy="206.7" r="3.8"/><circle cx="645.4" cy="207.8" r="3.8"/><circle cx="646.0" cy="209.0" r="3.8"/><circle cx="645.6" cy="210.2" r="3.8"/><circle cx="643.8" cy="211.3" r="3.8"/><circle cx="644.1" cy="212.5" r="3.8"/><circle cx="643.6" cy="213.7" r="3.8"/><circle cx="644.2" cy="214.8" r="3.8"/><circle cx="644.3" cy="216.0" r="3.8"/><circle cx="661.2" cy="213.5" r="3.8"/><circle cx="659.2" cy="214.7" r="3.8"/><circle cx="661.2" cy="215.8" r="3.8"/><circle cx="661.7" cy="217.0" r="3.8"/><circle cx="660.5" cy="218.2" r="3.8"/><circle cx="659.3" cy="219.3" r="3.8"/><circle cx="662.4" cy="220.5" r="3.8"/><circle cx="650.3" cy="221.0" r="3.8"/><circle cx="646.6" cy="222.1" r="3.8"/><circle cx="648.9" cy="223.2" r="3.8"/><circle cx="647.5" cy="224.4" r="3.8"/><circle cx="647.7" cy="225.5" r="3.8"/><circle cx="644.9" cy="226.6" r="3.8"/><circle cx="645.7" cy="227.7" r="3.8"/><circle cx="649.0" cy="228.8" r="3.8"/><circle cx="646.1" cy="229.9" r="3.8"/><circle cx="646.7" cy="231.1" r="3.8"/><circle cx="646.2" cy="232.2" r="3.8"/><circle cx="647.2" cy="233.3" r="3.8"/><circle cx="641.9" cy="234.4" r="3.8"/><circle cx="648.8" cy="235.5" r="3.8"/><circle cx="650.4" cy="236.6" r="3.8"/><circle cx="642.7" cy="237.8" r="3.8"/><circle cx="642.7" cy="238.9" r="3.8"/><circle cx="639.8" cy="240.0" r="3.8"/><circle cx="628.0" cy="243.0" r="3.8"/><circle cx="631.9" cy="244.2" r="3.8"/><circle cx="628.0" cy="245.4" r="3.8"/><circle cx="623.5" cy="246.5" r="3.8"/><circle cx="625.9" cy="247.7" r="3.8"/><circle cx="626.6" cy="248.9" r="3.8"/><circle cx="624.2" cy="250.1" r="3.8"/><circle cx="622.9" cy="251.3" r="3.8"/><circle cx="622.2" cy="252.5" r="3.8"/><circle cx="611.7" cy="253.6" r="3.8"/><circle cx="611.9" cy="254.8" r="3.8"/><circle cx="613.2" cy="256.0" r="3.8"/><circle cx="414.3" cy="275.7" r="3.8"/><circle cx="422.6" cy="250.0" r="3.8"/><circle cx="429.9" cy="251.9" r="3.8"/><circle cx="430.3" cy="253.8" r="3.8"/><circle cx="426.1" cy="255.8" r="3.8"/><circle cx="417.3" cy="257.7" r="3.8"/><circle cx="425.7" cy="259.6" r="3.8"/><circle cx="432.9" cy="261.5" r="3.8"/><circle cx="435.0" cy="263.4" r="3.8"/><circle cx="434.2" cy="265.3" r="3.8"/><circle cx="440.3" cy="267.2" r="3.8"/><circle cx="437.1" cy="269.2" r="3.8"/><circle cx="435.1" cy="271.1" r="3.8"/><circle cx="431.8" cy="273.0" r="3.8"/><circle cx="288.0" cy="393.3" r="3.8"/><circle cx="248.5" cy="335.1" r="3.8"/><circle cx="257.0" cy="420.8" r="3.8"/><circle cx="274.3" cy="479.6" r="3.8"/><circle cx="278.6" cy="498.6" r="3.8"/><circle cx="234.9" cy="519.9" r="3.8"/><circle cx="217.0" cy="622.4" r="3.8"/><circle cx="209.4" cy="649.2" r="3.8"/><circle cx="213.2" cy="663.5" r="3.8"/><circle cx="191.5" cy="746.3" r="3.8"/><circle cx="183.8" cy="758.7" r="3.8"/></g>
<g fill="#bdbdbd" fill-opacity="0.38">
<rect x="161" y="276.5" width="101.6" height="19"/>
<rect x="178.6" y="513" width="66" height="48.8"/>
<rect x="187.9" y="579.6" width="72" height="12.6"/>
</g>
<g stroke="#000" stroke-linecap="round"><line x1="566.0" y1="414.5" x2="512.6" y2="409.7" stroke-width="1.0"/><line x1="512.6" y1="409.7" x2="489.1" y2="405.5" stroke-width="1.0"/><line x1="489.1" y1="405.5" x2="463.4" y2="401.8" stroke-width="1.0"/><line x1="512.6" y1="409.7" x2="498.1" y2="406.9" stroke-width="1.0"/><line x1="498.1" y1="406.9" x2="458.3" y2="402.9" stroke-width="1.0"/><line x1="512.6" y1="409.7" x2="484.4" y2="404.7" stroke-width="1.0"/><line x1="484.4" y1="404.7" x2="457.5" y2="400.0" stroke-width="1.0"/><line x1="512.6" y1="409.7" x2="492.5" y2="407.0" stroke-width="1.0"/><line x1="492.5" y1="407.0" x2="458.6" y2="402.7" stroke-width="1.0"/><line x1="512.6" y1="409.7" x2="484.3" y2="405.0" stroke-width="1.0"/><line x1="484.3" y1="405.0" x2="458.4" y2="400.1" stroke-width="1.0"/><line x1="512.6" y1="409.7" x2="495.0" y2="406.6" stroke-width="1.0"/><line x1="495.0" y1="406.6" x2="463.1" y2="401.5" stroke-width="1.0"/><line x1="512.6" y1="409.7" x2="492.9" y2="405.5" stroke-width="1.0"/><line x1="492.9" y1="405.5" x2="461.4" y2="399.6" stroke-width="1.0"/><line x1="512.6" y1="409.7" x2="501.2" y2="407.6" stroke-width="1.0"/><line x1="501.2" y1="407.6" x2="456.2" y2="403.0" stroke-width="1.0"/><line x1="566.0" y1="414.5" x2="531.3" y2="409.4" stroke-width="1.0"/><line x1="531.3" y1="409.4" x2="499.5" y2="407.8" stroke-width="1.0"/><line x1="499.5" y1="407.8" x2="467.1" y2="405.6" stroke-width="1.0"/><line x1="531.3" y1="409.4" x2="498.1" y2="407.2" stroke-width="1.0"/><line x1="498.1" y1="407.2" x2="471.7" y2="404.0" stroke-width="1.0"/><line x1="531.3" y1="409.4" x2="519.0" y2="407.7" stroke-width="1.0"/><line x1="519.0" y1="407.7" x2="474.7" y2="405.5" stroke-width="1.0"/><line x1="531.3" y1="409.4" x2="498.2" y2="407.7" stroke-width="1.0"/><line x1="498.2" y1="407.7" x2="469.8" y2="407.7" stroke-width="1.0"/><line x1="531.3" y1="409.4" x2="502.4" y2="407.1" stroke-width="1.0"/><line x1="502.4" y1="407.1" x2="474.9" y2="406.3" stroke-width="1.0"/><line x1="531.3" y1="409.4" x2="500.5" y2="407.9" stroke-width="1.0"/><line x1="500.5" y1="407.9" x2="467.5" y2="406.5" stroke-width="1.0"/><line x1="531.3" y1="409.4" x2="500.7" y2="404.2" stroke-width="1.0"/><line x1="500.7" y1="404.2" x2="477.5" y2="401.0" stroke-width="1.0"/><line x1="531.3" y1="409.4" x2="499.9" y2="406.2" stroke-width="1.0"/><line x1="499.9" y1="406.2" x2="465.9" y2="404.4" stroke-width="1.0"/><line x1="531.3" y1="409.4" x2="517.5" y2="408.3" stroke-width="1.0"/><line x1="517.5" y1="408.3" x2="468.9" y2="406.7" stroke-width="1.0"/><line x1="531.3" y1="409.4" x2="494.5" y2="403.9" stroke-width="1.0"/><line x1="494.5" y1="403.9" x2="467.9" y2="400.7" stroke-width="1.0"/><line x1="531.3" y1="409.4" x2="494.3" y2="407.4" stroke-width="1.0"/><line x1="494.3" y1="407.4" x2="466.3" y2="405.3" stroke-width="1.0"/><line x1="531.3" y1="409.4" x2="508.7" y2="406.4" stroke-width="1.0"/><line x1="508.7" y1="406.4" x2="477.0" y2="403.7" stroke-width="1.0"/><line x1="531.3" y1="409.4" x2="505.1" y2="407.4" stroke-width="1.0"/><line x1="505.1" y1="407.4" x2="468.8" y2="405.3" stroke-width="1.0"/><line x1="531.3" y1="409.4" x2="507.0" y2="405.8" stroke-width="1.0"/><line x1="507.0" y1="405.8" x2="478.1" y2="402.2" stroke-width="1.0"/><line x1="531.3" y1="409.4" x2="515.8" y2="406.9" stroke-width="1.0"/><line x1="515.8" y1="406.9" x2="465.8" y2="401.7" stroke-width="1.0"/><line x1="531.3" y1="409.4" x2="508.3" y2="407.3" stroke-width="1.0"/><line x1="508.3" y1="407.3" x2="469.8" y2="402.9" stroke-width="1.0"/><line x1="531.3" y1="409.4" x2="505.1" y2="405.6" stroke-width="1.0"/><line x1="505.1" y1="405.6" x2="474.6" y2="402.9" stroke-width="1.0"/><line x1="531.3" y1="409.4" x2="504.2" y2="405.6" stroke-width="1.0"/><line x1="504.2" y1="405.6" x2="472.6" y2="402.5" stroke-width="1.0"/><line x1="531.3" y1="409.4" x2="511.2" y2="406.7" stroke-width="1.0"/><line x1="511.2" y1="406.7" x2="471.1" y2="403.6" stroke-width="1.0"/><line x1="531.3" y1="409.4" x2="512.0" y2="407.7" stroke-width="1.0"/><line x1="512.0" y1="407.7" x2="478.9" y2="406.0" stroke-width="1.0"/><line x1="566.0" y1="414.5" x2="525.1" y2="410.8" stroke-width="1.0"/><line x1="525.1" y1="410.8" x2="501.7" y2="410.2" stroke-width="1.0"/><line x1="501.7" y1="410.2" x2="485.5" y2="410.1" stroke-width="1.0"/><line x1="525.1" y1="410.8" x2="506.7" y2="408.3" stroke-width="1.0"/><line x1="506.7" y1="408.3" x2="485.3" y2="404.1" stroke-width="1.0"/><line x1="525.1" y1="410.8" x2="508.4" y2="407.0" stroke-width="1.0"/><line x1="508.4" y1="407.0" x2="491.0" y2="402.3" stroke-width="1.0"/><line x1="525.1" y1="410.8" x2="505.9" y2="410.9" stroke-width="1.0"/><line x1="505.9" y1="410.9" x2="488.7" y2="410.0" stroke-width="1.0"/><line x1="525.1" y1="410.8" x2="508.5" y2="409.2" stroke-width="1.0"/><line x1="508.5" y1="409.2" x2="481.1" y2="407.8" stroke-width="1.0"/><line x1="525.1" y1="410.8" x2="514.3" y2="409.7" stroke-width="1.0"/><line x1="514.3" y1="409.7" x2="482.0" y2="408.5" stroke-width="1.0"/><line x1="525.1" y1="410.8" x2="506.4" y2="410.4" stroke-width="1.0"/><line x1="506.4" y1="410.4" x2="481.2" y2="407.9" stroke-width="1.0"/><line x1="525.1" y1="410.8" x2="514.2" y2="408.9" stroke-width="1.0"/><line x1="514.2" y1="408.9" x2="485.3" y2="402.1" stroke-width="1.0"/><line x1="525.1" y1="410.8" x2="515.7" y2="410.3" stroke-width="1.0"/><line x1="515.7" y1="410.3" x2="491.9" y2="406.1" stroke-width="1.0"/><line x1="525.1" y1="410.8" x2="502.0" y2="410.1" stroke-width="1.0"/><line x1="502.0" y1="410.1" x2="483.7" y2="409.6" stroke-width="1.0"/><line x1="525.1" y1="410.8" x2="515.8" y2="409.5" stroke-width="1.0"/><line x1="515.8" y1="409.5" x2="480.8" y2="402.7" stroke-width="1.0"/><line x1="525.1" y1="410.8" x2="505.7" y2="407.7" stroke-width="1.0"/><line x1="505.7" y1="407.7" x2="492.9" y2="406.9" stroke-width="1.0"/><line x1="525.1" y1="410.8" x2="507.4" y2="407.7" stroke-width="1.0"/><line x1="507.4" y1="407.7" x2="479.8" y2="404.2" stroke-width="1.0"/><line x1="525.1" y1="410.8" x2="510.0" y2="409.1" stroke-width="1.0"/><line x1="510.0" y1="409.1" x2="482.3" y2="407.9" stroke-width="1.0"/><line x1="525.1" y1="410.8" x2="508.8" y2="409.8" stroke-width="1.0"/><line x1="508.8" y1="409.8" x2="490.9" y2="409.5" stroke-width="1.0"/><line x1="525.1" y1="410.8" x2="499.5" y2="406.6" stroke-width="1.0"/><line x1="499.5" y1="406.6" x2="479.5" y2="404.4" stroke-width="1.0"/><line x1="525.1" y1="410.8" x2="509.5" y2="408.7" stroke-width="1.0"/><line x1="509.5" y1="408.7" x2="481.1" y2="403.2" stroke-width="1.0"/><line x1="525.1" y1="410.8" x2="515.9" y2="409.5" stroke-width="1.0"/><line x1="515.9" y1="409.5" x2="489.6" y2="408.2" stroke-width="1.0"/><line x1="525.1" y1="410.8" x2="502.8" y2="406.1" stroke-width="1.0"/><line x1="502.8" y1="406.1" x2="486.4" y2="402.1" stroke-width="1.0"/><line x1="525.1" y1="410.8" x2="507.4" y2="409.7" stroke-width="1.0"/><line x1="507.4" y1="409.7" x2="488.3" y2="407.2" stroke-width="1.0"/><line x1="566.0" y1="414.5" x2="520.8" y2="401.6" stroke-width="1.0"/><line x1="520.8" y1="401.6" x2="506.6" y2="395.0" stroke-width="1.0"/><line x1="506.6" y1="395.0" x2="492.2" y2="386.8" stroke-width="1.0"/><line x1="520.8" y1="401.6" x2="514.2" y2="398.7" stroke-width="1.0"/><line x1="514.2" y1="398.7" x2="486.5" y2="392.6" stroke-width="1.0"/><line x1="520.8" y1="401.6" x2="512.2" y2="398.5" stroke-width="1.0"/><line x1="512.2" y1="398.5" x2="482.7" y2="386.4" stroke-width="1.0"/><line x1="520.8" y1="401.6" x2="508.2" y2="395.5" stroke-width="1.0"/><line x1="508.2" y1="395.5" x2="493.0" y2="387.7" stroke-width="1.0"/><line x1="520.8" y1="401.6" x2="503.7" y2="397.1" stroke-width="1.0"/><line x1="503.7" y1="397.1" x2="485.2" y2="393.4" stroke-width="1.0"/><line x1="520.8" y1="401.6" x2="506.9" y2="398.5" stroke-width="1.0"/><line x1="506.9" y1="398.5" x2="486.8" y2="391.9" stroke-width="1.0"/><line x1="520.8" y1="401.6" x2="513.4" y2="400.1" stroke-width="1.0"/><line x1="513.4" y1="400.1" x2="487.0" y2="392.6" stroke-width="1.0"/><line x1="520.8" y1="401.6" x2="508.9" y2="398.7" stroke-width="1.0"/><line x1="508.9" y1="398.7" x2="482.1" y2="391.4" stroke-width="1.0"/><line x1="520.8" y1="401.6" x2="509.0" y2="399.0" stroke-width="1.0"/><line x1="509.0" y1="399.0" x2="483.6" y2="393.2" stroke-width="1.0"/><line x1="520.8" y1="401.6" x2="500.8" y2="394.4" stroke-width="1.0"/><line x1="500.8" y1="394.4" x2="482.8" y2="387.1" stroke-width="1.0"/><line x1="520.8" y1="401.6" x2="506.6" y2="394.7" stroke-width="1.0"/><line x1="506.6" y1="394.7" x2="492.6" y2="389.7" stroke-width="1.0"/><line x1="520.8" y1="401.6" x2="500.8" y2="396.8" stroke-width="1.0"/><line x1="500.8" y1="396.8" x2="482.9" y2="392.0" stroke-width="1.0"/><line x1="566.0" y1="414.5" x2="534.4" y2="397.8" stroke-width="1.0"/><line x1="534.4" y1="397.8" x2="527.3" y2="394.2" stroke-width="1.0"/><line x1="527.3" y1="394.2" x2="500.2" y2="381.0" stroke-width="1.0"/><line x1="534.4" y1="397.8" x2="513.4" y2="387.4" stroke-width="1.0"/><line x1="513.4" y1="387.4" x2="491.2" y2="376.2" stroke-width="1.0"/><line x1="534.4" y1="397.8" x2="513.3" y2="387.2" stroke-width="1.0"/><line x1="513.3" y1="387.2" x2="494.4" y2="378.5" stroke-width="1.0"/><line x1="534.4" y1="397.8" x2="525.7" y2="392.6" stroke-width="1.0"/><line x1="525.7" y1="392.6" x2="499.8" y2="375.0" stroke-width="1.0"/><line x1="534.4" y1="397.8" x2="517.2" y2="388.1" stroke-width="1.0"/><line x1="517.2" y1="388.1" x2="492.4" y2="375.5" stroke-width="1.0"/><line x1="534.4" y1="397.8" x2="512.3" y2="387.9" stroke-width="1.0"/><line x1="512.3" y1="387.9" x2="492.9" y2="377.5" stroke-width="1.0"/><line x1="534.4" y1="397.8" x2="513.6" y2="387.3" stroke-width="1.0"/><line x1="513.6" y1="387.3" x2="491.9" y2="376.2" stroke-width="1.0"/><line x1="534.4" y1="397.8" x2="510.7" y2="386.2" stroke-width="1.0"/><line x1="510.7" y1="386.2" x2="492.9" y2="376.1" stroke-width="1.0"/><line x1="534.4" y1="397.8" x2="516.4" y2="386.6" stroke-width="1.0"/><line x1="516.4" y1="386.6" x2="501.9" y2="376.2" stroke-width="1.0"/><line x1="534.4" y1="397.8" x2="514.6" y2="385.9" stroke-width="1.0"/><line x1="514.6" y1="385.9" x2="498.0" y2="376.9" stroke-width="1.0"/><line x1="534.4" y1="397.8" x2="523.8" y2="392.1" stroke-width="1.0"/><line x1="523.8" y1="392.1" x2="497.9" y2="376.5" stroke-width="1.0"/><line x1="534.4" y1="397.8" x2="513.3" y2="388.9" stroke-width="1.0"/><line x1="513.3" y1="388.9" x2="492.9" y2="381.0" stroke-width="1.0"/><line x1="566.0" y1="414.5" x2="540.5" y2="405.3" stroke-width="1.0"/><line x1="540.5" y1="405.3" x2="519.4" y2="396.7" stroke-width="1.0"/><line x1="519.4" y1="396.7" x2="504.5" y2="391.5" stroke-width="1.0"/><line x1="540.5" y1="405.3" x2="522.8" y2="397.9" stroke-width="1.0"/><line x1="522.8" y1="397.9" x2="506.8" y2="393.5" stroke-width="1.0"/><line x1="540.5" y1="405.3" x2="524.1" y2="398.9" stroke-width="1.0"/><line x1="524.1" y1="398.9" x2="503.5" y2="388.9" stroke-width="1.0"/><line x1="540.5" y1="405.3" x2="525.3" y2="400.2" stroke-width="1.0"/><line x1="525.3" y1="400.2" x2="509.6" y2="393.0" stroke-width="1.0"/><line x1="540.5" y1="405.3" x2="525.8" y2="399.0" stroke-width="1.0"/><line x1="525.8" y1="399.0" x2="513.1" y2="394.7" stroke-width="1.0"/><line x1="540.5" y1="405.3" x2="531.6" y2="402.8" stroke-width="1.0"/><line x1="531.6" y1="402.8" x2="506.1" y2="393.8" stroke-width="1.0"/><line x1="540.5" y1="405.3" x2="533.4" y2="401.1" stroke-width="1.0"/><line x1="533.4" y1="401.1" x2="510.8" y2="391.9" stroke-width="1.0"/><line x1="540.5" y1="405.3" x2="525.2" y2="401.0" stroke-width="1.0"/><line x1="525.2" y1="401.0" x2="507.9" y2="394.2" stroke-width="1.0"/><line x1="540.5" y1="405.3" x2="527.8" y2="399.1" stroke-width="1.0"/><line x1="527.8" y1="399.1" x2="505.5" y2="391.3" stroke-width="1.0"/><line x1="540.5" y1="405.3" x2="524.3" y2="398.5" stroke-width="1.0"/><line x1="524.3" y1="398.5" x2="509.9" y2="391.9" stroke-width="1.0"/><line x1="540.5" y1="405.3" x2="527.0" y2="396.1" stroke-width="1.0"/><line x1="527.0" y1="396.1" x2="514.5" y2="388.3" stroke-width="1.0"/><line x1="540.5" y1="405.3" x2="520.8" y2="397.8" stroke-width="1.0"/><line x1="520.8" y1="397.8" x2="504.8" y2="389.6" stroke-width="1.0"/><line x1="540.5" y1="405.3" x2="524.1" y2="398.3" stroke-width="1.0"/><line x1="524.1" y1="398.3" x2="508.2" y2="390.2" stroke-width="1.0"/><line x1="540.5" y1="405.3" x2="532.0" y2="402.7" stroke-width="1.0"/><line x1="532.0" y1="402.7" x2="503.0" y2="393.6" stroke-width="1.0"/><line x1="540.5" y1="405.3" x2="526.0" y2="398.7" stroke-width="1.0"/><line x1="526.0" y1="398.7" x2="505.4" y2="390.2" stroke-width="1.0"/><line x1="566.0" y1="414.5" x2="544.9" y2="397.7" stroke-width="1.0"/><line x1="544.9" y1="397.7" x2="539.3" y2="390.0" stroke-width="1.0"/><line x1="539.3" y1="390.0" x2="527.0" y2="377.0" stroke-width="1.0"/><line x1="544.9" y1="397.7" x2="529.6" y2="385.4" stroke-width="1.0"/><line x1="529.6" y1="385.4" x2="517.6" y2="378.2" stroke-width="1.0"/><line x1="544.9" y1="397.7" x2="539.3" y2="394.0" stroke-width="1.0"/><line x1="539.3" y1="394.0" x2="520.5" y2="378.1" stroke-width="1.0"/><line x1="544.9" y1="397.7" x2="533.5" y2="389.4" stroke-width="1.0"/><line x1="533.5" y1="389.4" x2="520.4" y2="379.2" stroke-width="1.0"/><line x1="544.9" y1="397.7" x2="534.6" y2="392.4" stroke-width="1.0"/><line x1="534.6" y1="392.4" x2="514.4" y2="383.7" stroke-width="1.0"/><line x1="544.9" y1="397.7" x2="537.1" y2="393.4" stroke-width="1.0"/><line x1="537.1" y1="393.4" x2="518.8" y2="381.6" stroke-width="1.0"/><line x1="544.9" y1="397.7" x2="538.5" y2="392.9" stroke-width="1.0"/><line x1="538.5" y1="392.9" x2="514.0" y2="378.5" stroke-width="1.0"/><line x1="544.9" y1="397.7" x2="534.4" y2="390.2" stroke-width="1.0"/><line x1="534.4" y1="390.2" x2="520.3" y2="378.2" stroke-width="1.0"/><line x1="544.9" y1="397.7" x2="537.8" y2="393.5" stroke-width="1.0"/><line x1="537.8" y1="393.5" x2="524.4" y2="384.9" stroke-width="1.0"/><line x1="544.9" y1="397.7" x2="528.4" y2="390.8" stroke-width="1.0"/><line x1="528.4" y1="390.8" x2="517.7" y2="385.0" stroke-width="1.0"/><line x1="544.9" y1="397.7" x2="533.7" y2="390.7" stroke-width="1.0"/><line x1="533.7" y1="390.7" x2="522.6" y2="382.0" stroke-width="1.0"/><line x1="544.9" y1="397.7" x2="532.6" y2="385.5" stroke-width="1.0"/><line x1="532.6" y1="385.5" x2="523.1" y2="378.3" stroke-width="1.0"/><line x1="544.9" y1="397.7" x2="530.7" y2="389.5" stroke-width="1.0"/><line x1="530.7" y1="389.5" x2="513.5" y2="378.2" stroke-width="1.0"/><line x1="544.9" y1="397.7" x2="538.6" y2="392.1" stroke-width="1.0"/><line x1="538.6" y1="392.1" x2="525.4" y2="378.5" stroke-width="1.0"/><line x1="544.9" y1="397.7" x2="531.4" y2="388.9" stroke-width="1.0"/><line x1="531.4" y1="388.9" x2="518.9" y2="380.0" stroke-width="1.0"/><line x1="566.0" y1="414.5" x2="548.1" y2="395.6" stroke-width="1.0"/><line x1="548.1" y1="395.6" x2="542.2" y2="390.8" stroke-width="1.0"/><line x1="542.2" y1="390.8" x2="531.7" y2="381.3" stroke-width="1.0"/><line x1="548.1" y1="395.6" x2="542.6" y2="387.7" stroke-width="1.0"/><line x1="542.6" y1="387.7" x2="535.5" y2="378.9" stroke-width="1.0"/><line x1="548.1" y1="395.6" x2="536.6" y2="386.1" stroke-width="1.0"/><line x1="536.6" y1="386.1" x2="527.5" y2="380.6" stroke-width="1.0"/><line x1="548.1" y1="395.6" x2="543.0" y2="389.6" stroke-width="1.0"/><line x1="543.0" y1="389.6" x2="538.8" y2="382.9" stroke-width="1.0"/><line x1="548.1" y1="395.6" x2="544.0" y2="392.1" stroke-width="1.0"/><line x1="544.0" y1="392.1" x2="530.7" y2="380.9" stroke-width="1.0"/><line x1="548.1" y1="395.6" x2="541.8" y2="390.1" stroke-width="1.0"/><line x1="541.8" y1="390.1" x2="535.0" y2="381.0" stroke-width="1.0"/><line x1="548.1" y1="395.6" x2="542.6" y2="389.3" stroke-width="1.0"/><line x1="542.6" y1="389.3" x2="538.2" y2="384.0" stroke-width="1.0"/><line x1="548.1" y1="395.6" x2="537.4" y2="389.2" stroke-width="1.0"/><line x1="537.4" y1="389.2" x2="526.7" y2="383.4" stroke-width="1.0"/><line x1="548.1" y1="395.6" x2="544.6" y2="393.4" stroke-width="1.0"/><line x1="544.6" y1="393.4" x2="537.2" y2="383.9" stroke-width="1.0"/><line x1="548.1" y1="395.6" x2="544.1" y2="390.6" stroke-width="1.0"/><line x1="544.1" y1="390.6" x2="539.6" y2="382.8" stroke-width="1.0"/><line x1="548.1" y1="395.6" x2="537.8" y2="386.5" stroke-width="1.0"/><line x1="537.8" y1="386.5" x2="530.0" y2="377.3" stroke-width="1.0"/><line x1="548.1" y1="395.6" x2="542.8" y2="389.5" stroke-width="1.0"/><line x1="542.8" y1="389.5" x2="535.1" y2="377.7" stroke-width="1.0"/><line x1="548.1" y1="395.6" x2="544.9" y2="391.3" stroke-width="1.0"/><line x1="544.9" y1="391.3" x2="536.9" y2="379.6" stroke-width="1.0"/><line x1="548.1" y1="395.6" x2="542.9" y2="392.3" stroke-width="1.0"/><line x1="542.9" y1="392.3" x2="534.5" y2="384.8" stroke-width="1.0"/><line x1="548.1" y1="395.6" x2="540.7" y2="390.4" stroke-width="1.0"/><line x1="540.7" y1="390.4" x2="532.0" y2="383.0" stroke-width="1.0"/><line x1="566.0" y1="414.5" x2="557.3" y2="404.2" stroke-width="1.0"/><line x1="557.3" y1="404.2" x2="550.1" y2="398.7" stroke-width="1.0"/><line x1="550.1" y1="398.7" x2="541.8" y2="391.3" stroke-width="1.0"/><line x1="557.3" y1="404.2" x2="550.8" y2="398.3" stroke-width="1.0"/><line x1="550.8" y1="398.3" x2="540.2" y2="389.9" stroke-width="1.0"/><line x1="557.3" y1="404.2" x2="548.6" y2="397.2" stroke-width="1.0"/><line x1="548.6" y1="397.2" x2="543.5" y2="393.1" stroke-width="1.0"/><line x1="557.3" y1="404.2" x2="549.8" y2="398.1" stroke-width="1.0"/><line x1="549.8" y1="398.1" x2="541.3" y2="391.5" stroke-width="1.0"/><line x1="557.3" y1="404.2" x2="550.9" y2="399.0" stroke-width="1.0"/><line x1="550.9" y1="399.0" x2="546.0" y2="393.2" stroke-width="1.0"/><line x1="557.3" y1="404.2" x2="549.0" y2="398.7" stroke-width="1.0"/><line x1="549.0" y1="398.7" x2="538.3" y2="393.1" stroke-width="1.0"/><line x1="557.3" y1="404.2" x2="548.9" y2="395.0" stroke-width="1.0"/><line x1="548.9" y1="395.0" x2="543.7" y2="389.8" stroke-width="1.0"/><line x1="557.3" y1="404.2" x2="550.8" y2="399.4" stroke-width="1.0"/><line x1="550.8" y1="399.4" x2="540.2" y2="391.8" stroke-width="1.0"/><line x1="557.3" y1="404.2" x2="553.5" y2="401.2" stroke-width="1.0"/><line x1="553.5" y1="401.2" x2="544.2" y2="393.1" stroke-width="1.0"/><line x1="557.3" y1="404.2" x2="547.8" y2="397.9" stroke-width="1.0"/><line x1="547.8" y1="397.9" x2="539.1" y2="391.2" stroke-width="1.0"/><line x1="566.0" y1="414.5" x2="542.3" y2="396.3" stroke-width="1.0"/><line x1="542.3" y1="396.3" x2="522.5" y2="382.5" stroke-width="1.0"/><line x1="522.5" y1="382.5" x2="510.1" y2="372.9" stroke-width="1.0"/><line x1="542.3" y1="396.3" x2="535.3" y2="389.7" stroke-width="1.0"/><line x1="535.3" y1="389.7" x2="511.7" y2="372.6" stroke-width="1.0"/><line x1="542.3" y1="396.3" x2="530.5" y2="386.0" stroke-width="1.0"/><line x1="530.5" y1="386.0" x2="512.6" y2="371.6" stroke-width="1.0"/><line x1="542.3" y1="396.3" x2="534.7" y2="390.7" stroke-width="1.0"/><line x1="534.7" y1="390.7" x2="510.7" y2="374.2" stroke-width="1.0"/><line x1="542.3" y1="396.3" x2="524.7" y2="384.9" stroke-width="1.0"/><line x1="524.7" y1="384.9" x2="510.0" y2="374.3" stroke-width="1.0"/><line x1="542.3" y1="396.3" x2="530.1" y2="386.1" stroke-width="1.0"/><line x1="530.1" y1="386.1" x2="508.8" y2="370.9" stroke-width="1.0"/><line x1="542.3" y1="396.3" x2="530.0" y2="383.9" stroke-width="1.0"/><line x1="530.0" y1="383.9" x2="515.9" y2="372.4" stroke-width="1.0"/><line x1="542.3" y1="396.3" x2="534.9" y2="391.0" stroke-width="1.0"/><line x1="534.9" y1="391.0" x2="515.4" y2="372.4" stroke-width="1.0"/><line x1="568.0" y1="415.0" x2="563.3" y2="396.2" stroke-width="1.0"/><line x1="563.3" y1="396.2" x2="560.8" y2="386.8" stroke-width="1.0"/><line x1="560.8" y1="386.8" x2="555.4" y2="369.1" stroke-width="1.0"/><line x1="563.3" y1="396.2" x2="559.2" y2="384.8" stroke-width="1.0"/><line x1="559.2" y1="384.8" x2="554.1" y2="369.0" stroke-width="1.0"/><line x1="568.0" y1="415.0" x2="562.8" y2="394.4" stroke-width="1.0"/><line x1="562.8" y1="394.4" x2="560.4" y2="387.5" stroke-width="1.0"/><line x1="560.4" y1="387.5" x2="557.5" y2="378.7" stroke-width="1.0"/><line x1="562.8" y1="394.4" x2="560.7" y2="387.9" stroke-width="1.0"/><line x1="560.7" y1="387.9" x2="557.9" y2="378.1" stroke-width="1.0"/><line x1="562.8" y1="394.4" x2="560.3" y2="388.6" stroke-width="1.0"/><line x1="560.3" y1="388.6" x2="557.3" y2="378.3" stroke-width="1.0"/><line x1="562.8" y1="394.4" x2="560.2" y2="385.1" stroke-width="1.0"/><line x1="560.2" y1="385.1" x2="559.4" y2="378.8" stroke-width="1.0"/><line x1="562.8" y1="394.4" x2="562.2" y2="391.3" stroke-width="1.0"/><line x1="562.2" y1="391.3" x2="559.4" y2="378.3" stroke-width="1.0"/><line x1="568.0" y1="415.0" x2="563.5" y2="398.2" stroke-width="1.0"/><line x1="563.5" y1="398.2" x2="563.6" y2="393.8" stroke-width="1.0"/><line x1="563.6" y1="393.8" x2="562.0" y2="385.3" stroke-width="1.0"/><line x1="563.5" y1="398.2" x2="562.2" y2="394.2" stroke-width="1.0"/><line x1="562.2" y1="394.2" x2="561.0" y2="384.3" stroke-width="1.0"/><line x1="563.5" y1="398.2" x2="562.0" y2="389.8" stroke-width="1.0"/><line x1="562.0" y1="389.8" x2="561.2" y2="384.2" stroke-width="1.0"/><line x1="563.5" y1="398.2" x2="560.9" y2="391.5" stroke-width="1.0"/><line x1="560.9" y1="391.5" x2="559.5" y2="384.9" stroke-width="1.0"/><line x1="563.5" y1="398.2" x2="562.2" y2="393.0" stroke-width="1.0"/><line x1="562.2" y1="393.0" x2="561.1" y2="386.0" stroke-width="1.0"/><line x1="568.0" y1="415.0" x2="569.8" y2="400.7" stroke-width="1.0"/><line x1="569.8" y1="400.7" x2="570.7" y2="395.8" stroke-width="1.0"/><line x1="570.7" y1="395.8" x2="572.6" y2="381.0" stroke-width="1.0"/><line x1="569.8" y1="400.7" x2="569.7" y2="395.0" stroke-width="1.0"/><line x1="569.7" y1="395.0" x2="572.0" y2="380.4" stroke-width="1.0"/><line x1="569.8" y1="400.7" x2="570.4" y2="395.0" stroke-width="1.0"/><line x1="570.4" y1="395.0" x2="572.0" y2="380.5" stroke-width="1.0"/><line x1="569.8" y1="400.7" x2="572.3" y2="389.5" stroke-width="1.0"/><line x1="572.3" y1="389.5" x2="573.7" y2="381.4" stroke-width="1.0"/><line x1="569.8" y1="400.7" x2="571.5" y2="390.3" stroke-width="1.0"/><line x1="571.5" y1="390.3" x2="572.8" y2="381.7" stroke-width="1.0"/><line x1="568.0" y1="415.0" x2="571.6" y2="404.0" stroke-width="1.0"/><line x1="571.6" y1="404.0" x2="574.9" y2="399.5" stroke-width="1.0"/><line x1="574.9" y1="399.5" x2="577.6" y2="392.5" stroke-width="1.0"/><line x1="571.6" y1="404.0" x2="572.9" y2="399.5" stroke-width="1.0"/><line x1="572.9" y1="399.5" x2="576.7" y2="391.1" stroke-width="1.0"/><line x1="571.6" y1="404.0" x2="572.1" y2="399.9" stroke-width="1.0"/><line x1="572.1" y1="399.9" x2="575.7" y2="393.1" stroke-width="1.0"/><line x1="571.6" y1="404.0" x2="572.7" y2="399.9" stroke-width="1.0"/><line x1="572.7" y1="399.9" x2="574.5" y2="391.1" stroke-width="1.0"/><line x1="571.6" y1="404.0" x2="573.4" y2="399.4" stroke-width="1.0"/><line x1="573.4" y1="399.4" x2="574.7" y2="392.7" stroke-width="1.0"/><line x1="578.0" y1="396.0" x2="580.2" y2="383.6" stroke-width="1.0"/><line x1="580.2" y1="383.6" x2="582.5" y2="377.9" stroke-width="1.0"/><line x1="582.5" y1="377.9" x2="583.4" y2="373.0" stroke-width="1.0"/><line x1="580.2" y1="383.6" x2="580.1" y2="379.7" stroke-width="1.0"/><line x1="580.1" y1="379.7" x2="581.8" y2="373.4" stroke-width="1.0"/><line x1="580.2" y1="383.6" x2="582.6" y2="377.8" stroke-width="1.0"/><line x1="582.6" y1="377.8" x2="584.8" y2="372.4" stroke-width="1.0"/><line x1="580.2" y1="383.6" x2="581.5" y2="381.7" stroke-width="1.0"/><line x1="581.5" y1="381.7" x2="583.5" y2="375.3" stroke-width="1.0"/><line x1="580.2" y1="383.6" x2="582.2" y2="379.0" stroke-width="1.0"/><line x1="582.2" y1="379.0" x2="582.7" y2="372.5" stroke-width="1.0"/><line x1="580.2" y1="383.6" x2="581.7" y2="377.7" stroke-width="1.0"/><line x1="581.7" y1="377.7" x2="581.8" y2="373.1" stroke-width="1.0"/><line x1="580.2" y1="383.6" x2="581.6" y2="378.8" stroke-width="1.0"/><line x1="581.6" y1="378.8" x2="583.8" y2="373.9" stroke-width="1.0"/><line x1="580.2" y1="383.6" x2="580.0" y2="377.7" stroke-width="1.0"/><line x1="580.0" y1="377.7" x2="579.9" y2="373.7" stroke-width="1.0"/><line x1="578.0" y1="396.0" x2="584.1" y2="383.5" stroke-width="1.0"/><line x1="584.1" y1="383.5" x2="585.6" y2="381.3" stroke-width="1.0"/><line x1="585.6" y1="381.3" x2="586.8" y2="372.6" stroke-width="1.0"/><line x1="584.1" y1="383.5" x2="584.3" y2="381.3" stroke-width="1.0"/><line x1="584.3" y1="381.3" x2="585.6" y2="371.6" stroke-width="1.0"/><line x1="584.1" y1="383.5" x2="585.8" y2="379.6" stroke-width="1.0"/><line x1="585.8" y1="379.6" x2="587.3" y2="372.8" stroke-width="1.0"/><line x1="584.1" y1="383.5" x2="584.9" y2="379.1" stroke-width="1.0"/><line x1="584.9" y1="379.1" x2="589.7" y2="371.4" stroke-width="1.0"/><line x1="584.1" y1="383.5" x2="584.7" y2="375.5" stroke-width="1.0"/><line x1="584.7" y1="375.5" x2="586.4" y2="371.0" stroke-width="1.0"/><line x1="584.1" y1="383.5" x2="585.1" y2="377.8" stroke-width="1.0"/><line x1="585.1" y1="377.8" x2="589.0" y2="370.3" stroke-width="1.0"/><line x1="584.1" y1="383.5" x2="584.1" y2="377.0" stroke-width="1.0"/><line x1="584.1" y1="377.0" x2="585.2" y2="371.2" stroke-width="1.0"/><line x1="584.1" y1="383.5" x2="584.6" y2="380.3" stroke-width="1.0"/><line x1="584.6" y1="380.3" x2="587.7" y2="371.6" stroke-width="1.0"/><line x1="584.1" y1="383.5" x2="586.4" y2="378.9" stroke-width="1.0"/><line x1="586.4" y1="378.9" x2="588.6" y2="372.7" stroke-width="1.0"/><line x1="584.1" y1="383.5" x2="586.3" y2="378.3" stroke-width="1.0"/><line x1="586.3" y1="378.3" x2="587.9" y2="370.7" stroke-width="1.0"/><line x1="578.0" y1="396.0" x2="585.7" y2="382.6" stroke-width="1.0"/><line x1="585.7" y1="382.6" x2="590.3" y2="375.9" stroke-width="1.0"/><line x1="590.3" y1="375.9" x2="593.5" y2="369.2" stroke-width="1.0"/><line x1="585.7" y1="382.6" x2="589.2" y2="376.4" stroke-width="1.0"/><line x1="589.2" y1="376.4" x2="596.5" y2="368.1" stroke-width="1.0"/><line x1="585.7" y1="382.6" x2="591.6" y2="374.2" stroke-width="1.0"/><line x1="591.6" y1="374.2" x2="595.9" y2="367.8" stroke-width="1.0"/><line x1="585.7" y1="382.6" x2="590.6" y2="374.1" stroke-width="1.0"/><line x1="590.6" y1="374.1" x2="593.8" y2="367.8" stroke-width="1.0"/><line x1="585.7" y1="382.6" x2="589.0" y2="379.7" stroke-width="1.0"/><line x1="589.0" y1="379.7" x2="595.6" y2="368.3" stroke-width="1.0"/><line x1="585.7" y1="382.6" x2="588.5" y2="374.9" stroke-width="1.0"/><line x1="588.5" y1="374.9" x2="591.9" y2="368.4" stroke-width="1.0"/><line x1="585.7" y1="382.6" x2="590.2" y2="376.5" stroke-width="1.0"/><line x1="590.2" y1="376.5" x2="595.1" y2="368.5" stroke-width="1.0"/><line x1="585.7" y1="382.6" x2="587.8" y2="379.1" stroke-width="1.0"/><line x1="587.8" y1="379.1" x2="594.7" y2="366.7" stroke-width="1.0"/><line x1="585.7" y1="382.6" x2="588.5" y2="376.5" stroke-width="1.0"/><line x1="588.5" y1="376.5" x2="591.3" y2="369.4" stroke-width="1.0"/><line x1="585.7" y1="382.6" x2="589.0" y2="378.0" stroke-width="1.0"/><line x1="589.0" y1="378.0" x2="596.9" y2="366.5" stroke-width="1.0"/><line x1="578.0" y1="396.0" x2="587.1" y2="389.6" stroke-width="1.0"/><line x1="587.1" y1="389.6" x2="592.4" y2="384.2" stroke-width="1.0"/><line x1="592.4" y1="384.2" x2="600.6" y2="377.8" stroke-width="1.0"/><line x1="587.1" y1="389.6" x2="594.1" y2="382.3" stroke-width="1.0"/><line x1="594.1" y1="382.3" x2="598.8" y2="378.8" stroke-width="1.0"/><line x1="587.1" y1="389.6" x2="593.5" y2="383.8" stroke-width="1.0"/><line x1="593.5" y1="383.8" x2="599.8" y2="377.5" stroke-width="1.0"/><line x1="587.1" y1="389.6" x2="591.4" y2="382.4" stroke-width="1.0"/><line x1="591.4" y1="382.4" x2="597.1" y2="376.5" stroke-width="1.0"/><line x1="587.1" y1="389.6" x2="590.1" y2="385.2" stroke-width="1.0"/><line x1="590.1" y1="385.2" x2="598.3" y2="378.8" stroke-width="1.0"/><line x1="587.1" y1="389.6" x2="596.8" y2="383.4" stroke-width="1.0"/><line x1="596.8" y1="383.4" x2="603.8" y2="379.3" stroke-width="1.0"/><line x1="587.1" y1="389.6" x2="594.4" y2="385.0" stroke-width="1.0"/><line x1="594.4" y1="385.0" x2="603.0" y2="379.8" stroke-width="1.0"/><line x1="587.1" y1="389.6" x2="595.9" y2="382.6" stroke-width="1.0"/><line x1="595.9" y1="382.6" x2="603.0" y2="377.0" stroke-width="1.0"/><line x1="587.1" y1="389.6" x2="590.8" y2="386.3" stroke-width="1.0"/><line x1="590.8" y1="386.3" x2="598.7" y2="379.2" stroke-width="1.0"/><line x1="587.1" y1="389.6" x2="590.8" y2="384.4" stroke-width="1.0"/><line x1="590.8" y1="384.4" x2="598.2" y2="379.0" stroke-width="1.0"/><line x1="578.0" y1="396.0" x2="590.9" y2="383.9" stroke-width="1.0"/><line x1="590.9" y1="383.9" x2="598.1" y2="376.9" stroke-width="1.0"/><line x1="598.1" y1="376.9" x2="609.3" y2="365.7" stroke-width="1.0"/><line x1="590.9" y1="383.9" x2="597.6" y2="376.4" stroke-width="1.0"/><line x1="597.6" y1="376.4" x2="604.8" y2="366.1" stroke-width="1.0"/><line x1="590.9" y1="383.9" x2="600.1" y2="373.1" stroke-width="1.0"/><line x1="600.1" y1="373.1" x2="607.4" y2="366.6" stroke-width="1.0"/><line x1="590.9" y1="383.9" x2="594.7" y2="376.9" stroke-width="1.0"/><line x1="594.7" y1="376.9" x2="604.7" y2="363.1" stroke-width="1.0"/><line x1="590.9" y1="383.9" x2="596.0" y2="375.5" stroke-width="1.0"/><line x1="596.0" y1="375.5" x2="604.8" y2="363.3" stroke-width="1.0"/><line x1="590.9" y1="383.9" x2="600.3" y2="375.1" stroke-width="1.0"/><line x1="600.3" y1="375.1" x2="607.6" y2="365.4" stroke-width="1.0"/><line x1="590.9" y1="383.9" x2="595.9" y2="377.5" stroke-width="1.0"/><line x1="595.9" y1="377.5" x2="608.5" y2="366.5" stroke-width="1.0"/><line x1="590.9" y1="383.9" x2="595.2" y2="379.1" stroke-width="1.0"/><line x1="595.2" y1="379.1" x2="605.5" y2="364.2" stroke-width="1.0"/><line x1="590.9" y1="383.9" x2="600.7" y2="374.1" stroke-width="1.0"/><line x1="600.7" y1="374.1" x2="609.0" y2="364.1" stroke-width="1.0"/><line x1="590.9" y1="383.9" x2="597.0" y2="377.8" stroke-width="1.0"/><line x1="597.0" y1="377.8" x2="610.0" y2="363.4" stroke-width="1.0"/><line x1="590.9" y1="383.9" x2="599.2" y2="374.6" stroke-width="1.0"/><line x1="599.2" y1="374.6" x2="606.9" y2="366.4" stroke-width="1.0"/><line x1="590.9" y1="383.9" x2="593.6" y2="380.0" stroke-width="1.0"/><line x1="593.6" y1="380.0" x2="603.7" y2="366.0" stroke-width="1.0"/><line x1="578.0" y1="396.0" x2="595.0" y2="378.4" stroke-width="1.0"/><line x1="595.0" y1="378.4" x2="606.2" y2="368.4" stroke-width="1.0"/><line x1="606.2" y1="368.4" x2="614.9" y2="362.0" stroke-width="1.0"/><line x1="595.0" y1="378.4" x2="601.5" y2="370.6" stroke-width="1.0"/><line x1="601.5" y1="370.6" x2="608.6" y2="361.1" stroke-width="1.0"/><line x1="595.0" y1="378.4" x2="600.4" y2="372.2" stroke-width="1.0"/><line x1="600.4" y1="372.2" x2="608.8" y2="361.0" stroke-width="1.0"/><line x1="595.0" y1="378.4" x2="598.7" y2="375.0" stroke-width="1.0"/><line x1="598.7" y1="375.0" x2="613.0" y2="361.7" stroke-width="1.0"/><line x1="595.0" y1="378.4" x2="602.4" y2="369.8" stroke-width="1.0"/><line x1="602.4" y1="369.8" x2="612.7" y2="359.8" stroke-width="1.0"/><line x1="595.0" y1="378.4" x2="599.7" y2="372.5" stroke-width="1.0"/><line x1="599.7" y1="372.5" x2="609.5" y2="359.7" stroke-width="1.0"/><line x1="595.0" y1="378.4" x2="603.5" y2="370.7" stroke-width="1.0"/><line x1="603.5" y1="370.7" x2="613.5" y2="358.1" stroke-width="1.0"/><line x1="595.0" y1="378.4" x2="605.0" y2="367.7" stroke-width="1.0"/><line x1="605.0" y1="367.7" x2="613.5" y2="357.7" stroke-width="1.0"/><line x1="595.0" y1="378.4" x2="598.4" y2="374.6" stroke-width="1.0"/><line x1="598.4" y1="374.6" x2="608.2" y2="360.2" stroke-width="1.0"/><line x1="595.0" y1="378.4" x2="598.7" y2="374.8" stroke-width="1.0"/><line x1="598.7" y1="374.8" x2="614.3" y2="360.8" stroke-width="1.0"/><line x1="595.0" y1="378.4" x2="600.3" y2="373.4" stroke-width="1.0"/><line x1="600.3" y1="373.4" x2="610.1" y2="361.7" stroke-width="1.0"/><line x1="595.0" y1="378.4" x2="599.6" y2="374.0" stroke-width="1.0"/><line x1="599.6" y1="374.0" x2="612.2" y2="360.5" stroke-width="1.0"/><line x1="578.0" y1="396.0" x2="592.9" y2="386.7" stroke-width="1.0"/><line x1="592.9" y1="386.7" x2="607.3" y2="378.2" stroke-width="1.0"/><line x1="607.3" y1="378.2" x2="617.7" y2="370.4" stroke-width="1.0"/><line x1="592.9" y1="386.7" x2="608.3" y2="378.9" stroke-width="1.0"/><line x1="608.3" y1="378.9" x2="620.1" y2="371.9" stroke-width="1.0"/><line x1="592.9" y1="386.7" x2="600.0" y2="383.2" stroke-width="1.0"/><line x1="600.0" y1="383.2" x2="619.1" y2="373.6" stroke-width="1.0"/><line x1="592.9" y1="386.7" x2="608.2" y2="377.2" stroke-width="1.0"/><line x1="608.2" y1="377.2" x2="618.6" y2="370.3" stroke-width="1.0"/><line x1="592.9" y1="386.7" x2="604.4" y2="380.1" stroke-width="1.0"/><line x1="604.4" y1="380.1" x2="618.6" y2="372.4" stroke-width="1.0"/><line x1="592.9" y1="386.7" x2="598.2" y2="383.0" stroke-width="1.0"/><line x1="598.2" y1="383.0" x2="615.7" y2="371.7" stroke-width="1.0"/><line x1="592.9" y1="386.7" x2="608.3" y2="378.0" stroke-width="1.0"/><line x1="608.3" y1="378.0" x2="618.2" y2="370.6" stroke-width="1.0"/><line x1="592.9" y1="386.7" x2="607.1" y2="377.7" stroke-width="1.0"/><line x1="607.1" y1="377.7" x2="618.8" y2="372.7" stroke-width="1.0"/><line x1="578.0" y1="396.0" x2="592.6" y2="389.1" stroke-width="1.0"/><line x1="592.6" y1="389.1" x2="597.2" y2="387.5" stroke-width="1.0"/><line x1="597.2" y1="387.5" x2="607.7" y2="381.8" stroke-width="1.0"/><line x1="592.6" y1="389.1" x2="598.1" y2="385.2" stroke-width="1.0"/><line x1="598.1" y1="385.2" x2="605.3" y2="380.5" stroke-width="1.0"/><line x1="592.6" y1="389.1" x2="602.6" y2="383.1" stroke-width="1.0"/><line x1="602.6" y1="383.1" x2="609.1" y2="378.3" stroke-width="1.0"/><line x1="592.6" y1="389.1" x2="600.3" y2="387.1" stroke-width="1.0"/><line x1="600.3" y1="387.1" x2="608.8" y2="382.2" stroke-width="1.0"/><line x1="592.6" y1="389.1" x2="596.9" y2="386.8" stroke-width="1.0"/><line x1="596.9" y1="386.8" x2="605.7" y2="382.2" stroke-width="1.0"/><line x1="592.6" y1="389.1" x2="597.9" y2="385.6" stroke-width="1.0"/><line x1="597.9" y1="385.6" x2="609.5" y2="378.2" stroke-width="1.0"/><line x1="592.6" y1="389.1" x2="597.4" y2="387.8" stroke-width="1.0"/><line x1="597.4" y1="387.8" x2="610.8" y2="379.3" stroke-width="1.0"/><line x1="592.6" y1="389.1" x2="599.9" y2="383.8" stroke-width="1.0"/><line x1="599.9" y1="383.8" x2="607.7" y2="378.8" stroke-width="1.0"/><line x1="592.6" y1="389.1" x2="595.9" y2="386.4" stroke-width="1.0"/><line x1="595.9" y1="386.4" x2="607.7" y2="380.0" stroke-width="1.0"/><line x1="592.6" y1="389.1" x2="597.0" y2="386.6" stroke-width="1.0"/><line x1="597.0" y1="386.6" x2="610.4" y2="381.9" stroke-width="1.0"/><line x1="568.0" y1="415.0" x2="578.0" y2="396.0" stroke-width="1.4"/><line x1="580.0" y1="418.0" x2="607.7" y2="412.8" stroke-width="1.0"/><line x1="607.7" y1="412.8" x2="615.9" y2="409.2" stroke-width="1.0"/><line x1="615.9" y1="409.2" x2="623.4" y2="407.4" stroke-width="1.0"/><line x1="607.7" y1="412.8" x2="611.8" y2="411.6" stroke-width="1.0"/><line x1="611.8" y1="411.6" x2="623.0" y2="409.4" stroke-width="1.0"/><line x1="607.7" y1="412.8" x2="615.3" y2="410.9" stroke-width="1.0"/><line x1="615.3" y1="410.9" x2="625.9" y2="409.3" stroke-width="1.0"/><line x1="607.7" y1="412.8" x2="614.2" y2="411.3" stroke-width="1.0"/><line x1="614.2" y1="411.3" x2="625.7" y2="408.5" stroke-width="1.0"/><line x1="607.7" y1="412.8" x2="613.7" y2="410.4" stroke-width="1.0"/><line x1="613.7" y1="410.4" x2="623.6" y2="406.8" stroke-width="1.0"/><line x1="607.7" y1="412.8" x2="613.3" y2="412.6" stroke-width="1.0"/><line x1="613.3" y1="412.6" x2="626.8" y2="409.2" stroke-width="1.0"/><line x1="607.7" y1="412.8" x2="612.9" y2="411.0" stroke-width="1.0"/><line x1="612.9" y1="411.0" x2="624.1" y2="409.8" stroke-width="1.0"/><line x1="607.7" y1="412.8" x2="615.6" y2="412.1" stroke-width="1.0"/><line x1="615.6" y1="412.1" x2="626.0" y2="409.1" stroke-width="1.0"/><line x1="580.0" y1="418.0" x2="612.0" y2="407.3" stroke-width="1.0"/><line x1="612.0" y1="407.3" x2="616.3" y2="405.5" stroke-width="1.0"/><line x1="616.3" y1="405.5" x2="631.3" y2="399.4" stroke-width="1.0"/><line x1="612.0" y1="407.3" x2="616.6" y2="404.9" stroke-width="1.0"/><line x1="616.6" y1="404.9" x2="631.7" y2="398.3" stroke-width="1.0"/><line x1="612.0" y1="407.3" x2="621.8" y2="404.1" stroke-width="1.0"/><line x1="621.8" y1="404.1" x2="631.6" y2="400.6" stroke-width="1.0"/><line x1="612.0" y1="407.3" x2="620.2" y2="405.7" stroke-width="1.0"/><line x1="620.2" y1="405.7" x2="635.3" y2="401.1" stroke-width="1.0"/><line x1="612.0" y1="407.3" x2="625.9" y2="404.4" stroke-width="1.0"/><line x1="625.9" y1="404.4" x2="637.9" y2="401.9" stroke-width="1.0"/><line x1="612.0" y1="407.3" x2="618.1" y2="405.2" stroke-width="1.0"/><line x1="618.1" y1="405.2" x2="636.9" y2="400.4" stroke-width="1.0"/><line x1="612.0" y1="407.3" x2="617.6" y2="405.7" stroke-width="1.0"/><line x1="617.6" y1="405.7" x2="634.9" y2="399.8" stroke-width="1.0"/><line x1="612.0" y1="407.3" x2="620.3" y2="406.0" stroke-width="1.0"/><line x1="620.3" y1="406.0" x2="637.5" y2="400.5" stroke-width="1.0"/><line x1="612.0" y1="407.3" x2="617.3" y2="405.6" stroke-width="1.0"/><line x1="617.3" y1="405.6" x2="636.1" y2="401.7" stroke-width="1.0"/><line x1="612.0" y1="407.3" x2="616.7" y2="404.5" stroke-width="1.0"/><line x1="616.7" y1="404.5" x2="632.3" y2="399.2" stroke-width="1.0"/><line x1="580.0" y1="418.0" x2="607.0" y2="408.7" stroke-width="1.0"/><line x1="607.0" y1="408.7" x2="615.2" y2="404.3" stroke-width="1.0"/><line x1="615.2" y1="404.3" x2="643.8" y2="391.2" stroke-width="1.0"/><line x1="607.0" y1="408.7" x2="618.5" y2="403.0" stroke-width="1.0"/><line x1="618.5" y1="403.0" x2="648.3" y2="391.4" stroke-width="1.0"/><line x1="607.0" y1="408.7" x2="623.1" y2="404.1" stroke-width="1.0"/><line x1="623.1" y1="404.1" x2="651.8" y2="393.4" stroke-width="1.0"/><line x1="607.0" y1="408.7" x2="618.5" y2="404.6" stroke-width="1.0"/><line x1="618.5" y1="404.6" x2="647.9" y2="392.4" stroke-width="1.0"/><line x1="607.0" y1="408.7" x2="629.8" y2="398.9" stroke-width="1.0"/><line x1="629.8" y1="398.9" x2="649.1" y2="391.7" stroke-width="1.0"/><line x1="607.0" y1="408.7" x2="622.8" y2="403.8" stroke-width="1.0"/><line x1="622.8" y1="403.8" x2="650.8" y2="395.5" stroke-width="1.0"/><line x1="607.0" y1="408.7" x2="621.4" y2="401.5" stroke-width="1.0"/><line x1="621.4" y1="401.5" x2="647.3" y2="390.2" stroke-width="1.0"/><line x1="607.0" y1="408.7" x2="626.2" y2="399.9" stroke-width="1.0"/><line x1="626.2" y1="399.9" x2="644.8" y2="391.0" stroke-width="1.0"/><line x1="607.0" y1="408.7" x2="622.3" y2="402.3" stroke-width="1.0"/><line x1="622.3" y1="402.3" x2="649.8" y2="390.1" stroke-width="1.0"/><line x1="607.0" y1="408.7" x2="629.1" y2="399.2" stroke-width="1.0"/><line x1="629.1" y1="399.2" x2="647.9" y2="392.2" stroke-width="1.0"/><line x1="607.0" y1="408.7" x2="618.9" y2="403.1" stroke-width="1.0"/><line x1="618.9" y1="403.1" x2="643.9" y2="391.9" stroke-width="1.0"/><line x1="607.0" y1="408.7" x2="634.0" y2="399.6" stroke-width="1.0"/><line x1="634.0" y1="399.6" x2="652.7" y2="394.0" stroke-width="1.0"/><line x1="580.0" y1="418.0" x2="618.3" y2="403.5" stroke-width="1.0"/><line x1="618.3" y1="403.5" x2="631.4" y2="398.8" stroke-width="1.0"/><line x1="631.4" y1="398.8" x2="656.4" y2="390.6" stroke-width="1.0"/><line x1="618.3" y1="403.5" x2="639.5" y2="395.0" stroke-width="1.0"/><line x1="639.5" y1="395.0" x2="657.1" y2="386.5" stroke-width="1.0"/><line x1="618.3" y1="403.5" x2="629.9" y2="399.2" stroke-width="1.0"/><line x1="629.9" y1="399.2" x2="660.7" y2="385.9" stroke-width="1.0"/><line x1="618.3" y1="403.5" x2="625.5" y2="400.9" stroke-width="1.0"/><line x1="625.5" y1="400.9" x2="656.3" y2="389.3" stroke-width="1.0"/><line x1="618.3" y1="403.5" x2="639.4" y2="392.4" stroke-width="1.0"/><line x1="639.4" y1="392.4" x2="656.8" y2="385.4" stroke-width="1.0"/><line x1="618.3" y1="403.5" x2="635.7" y2="398.1" stroke-width="1.0"/><line x1="635.7" y1="398.1" x2="662.0" y2="390.9" stroke-width="1.0"/><line x1="618.3" y1="403.5" x2="634.5" y2="397.6" stroke-width="1.0"/><line x1="634.5" y1="397.6" x2="661.1" y2="386.5" stroke-width="1.0"/><line x1="618.3" y1="403.5" x2="637.6" y2="397.5" stroke-width="1.0"/><line x1="637.6" y1="397.5" x2="663.3" y2="390.7" stroke-width="1.0"/><line x1="618.3" y1="403.5" x2="642.2" y2="395.1" stroke-width="1.0"/><line x1="642.2" y1="395.1" x2="660.2" y2="389.1" stroke-width="1.0"/><line x1="618.3" y1="403.5" x2="628.4" y2="399.5" stroke-width="1.0"/><line x1="628.4" y1="399.5" x2="663.9" y2="387.8" stroke-width="1.0"/><line x1="580.0" y1="418.0" x2="628.2" y2="398.1" stroke-width="1.0"/><line x1="628.2" y1="398.1" x2="651.3" y2="390.0" stroke-width="1.0"/><line x1="651.3" y1="390.0" x2="671.3" y2="383.0" stroke-width="1.0"/><line x1="628.2" y1="398.1" x2="652.4" y2="390.3" stroke-width="1.0"/><line x1="652.4" y1="390.3" x2="673.8" y2="382.8" stroke-width="1.0"/><line x1="628.2" y1="398.1" x2="636.1" y2="394.6" stroke-width="1.0"/><line x1="636.1" y1="394.6" x2="670.5" y2="380.9" stroke-width="1.0"/><line x1="628.2" y1="398.1" x2="652.2" y2="390.8" stroke-width="1.0"/><line x1="652.2" y1="390.8" x2="673.8" y2="382.2" stroke-width="1.0"/><line x1="628.2" y1="398.1" x2="652.3" y2="389.3" stroke-width="1.0"/><line x1="652.3" y1="389.3" x2="671.1" y2="382.0" stroke-width="1.0"/><line x1="580.0" y1="418.0" x2="612.9" y2="409.9" stroke-width="1.0"/><line x1="612.9" y1="409.9" x2="635.1" y2="403.4" stroke-width="1.0"/><line x1="635.1" y1="403.4" x2="653.6" y2="399.2" stroke-width="1.0"/><line x1="612.9" y1="409.9" x2="635.6" y2="403.6" stroke-width="1.0"/><line x1="635.6" y1="403.6" x2="658.0" y2="399.0" stroke-width="1.0"/><line x1="612.9" y1="409.9" x2="621.4" y2="408.1" stroke-width="1.0"/><line x1="621.4" y1="408.1" x2="654.0" y2="404.9" stroke-width="1.0"/><line x1="612.9" y1="409.9" x2="635.9" y2="405.5" stroke-width="1.0"/><line x1="635.9" y1="405.5" x2="655.9" y2="400.2" stroke-width="1.0"/><line x1="612.9" y1="409.9" x2="620.1" y2="407.2" stroke-width="1.0"/><line x1="620.1" y1="407.2" x2="651.2" y2="400.4" stroke-width="1.0"/><line x1="612.9" y1="409.9" x2="633.5" y2="406.4" stroke-width="1.0"/><line x1="633.5" y1="406.4" x2="655.9" y2="402.3" stroke-width="1.0"/><line x1="612.9" y1="409.9" x2="626.1" y2="408.2" stroke-width="1.0"/><line x1="626.1" y1="408.2" x2="659.8" y2="400.9" stroke-width="1.0"/><line x1="612.9" y1="409.9" x2="629.4" y2="406.2" stroke-width="1.0"/><line x1="629.4" y1="406.2" x2="656.4" y2="402.0" stroke-width="1.0"/><line x1="612.9" y1="409.9" x2="631.6" y2="405.4" stroke-width="1.0"/><line x1="631.6" y1="405.4" x2="657.0" y2="400.5" stroke-width="1.0"/><line x1="612.9" y1="409.9" x2="634.4" y2="407.6" stroke-width="1.0"/><line x1="634.4" y1="407.6" x2="654.7" y2="403.6" stroke-width="1.0"/><line x1="612.9" y1="409.9" x2="631.1" y2="405.4" stroke-width="1.0"/><line x1="631.1" y1="405.4" x2="655.8" y2="400.4" stroke-width="1.0"/><line x1="612.9" y1="409.9" x2="634.2" y2="403.8" stroke-width="1.0"/><line x1="634.2" y1="403.8" x2="652.9" y2="400.2" stroke-width="1.0"/><line x1="580.0" y1="418.0" x2="625.9" y2="408.7" stroke-width="1.0"/><line x1="625.9" y1="408.7" x2="641.5" y2="406.4" stroke-width="1.0"/><line x1="641.5" y1="406.4" x2="672.0" y2="401.0" stroke-width="1.0"/><line x1="625.9" y1="408.7" x2="646.7" y2="405.0" stroke-width="1.0"/><line x1="646.7" y1="405.0" x2="671.0" y2="402.2" stroke-width="1.0"/><line x1="625.9" y1="408.7" x2="639.1" y2="405.6" stroke-width="1.0"/><line x1="639.1" y1="405.6" x2="668.5" y2="401.1" stroke-width="1.0"/><line x1="625.9" y1="408.7" x2="647.0" y2="403.7" stroke-width="1.0"/><line x1="647.0" y1="403.7" x2="668.2" y2="400.0" stroke-width="1.0"/><line x1="625.9" y1="408.7" x2="641.1" y2="406.7" stroke-width="1.0"/><line x1="641.1" y1="406.7" x2="670.4" y2="402.3" stroke-width="1.0"/><line x1="625.9" y1="408.7" x2="636.4" y2="405.9" stroke-width="1.0"/><line x1="636.4" y1="405.9" x2="672.6" y2="397.8" stroke-width="1.0"/><line x1="625.9" y1="408.7" x2="641.9" y2="404.9" stroke-width="1.0"/><line x1="641.9" y1="404.9" x2="666.9" y2="398.0" stroke-width="1.0"/><line x1="625.9" y1="408.7" x2="638.4" y2="405.9" stroke-width="1.0"/><line x1="638.4" y1="405.9" x2="668.2" y2="402.2" stroke-width="1.0"/><line x1="625.9" y1="408.7" x2="643.5" y2="406.0" stroke-width="1.0"/><line x1="643.5" y1="406.0" x2="666.2" y2="402.0" stroke-width="1.0"/><line x1="625.9" y1="408.7" x2="638.9" y2="404.7" stroke-width="1.0"/><line x1="638.9" y1="404.7" x2="666.6" y2="399.4" stroke-width="1.0"/><line x1="580.0" y1="418.0" x2="638.6" y2="405.7" stroke-width="1.0"/><line x1="638.6" y1="405.7" x2="654.6" y2="402.4" stroke-width="1.0"/><line x1="654.6" y1="402.4" x2="689.5" y2="392.1" stroke-width="1.0"/><line x1="638.6" y1="405.7" x2="667.2" y2="398.7" stroke-width="1.0"/><line x1="667.2" y1="398.7" x2="689.0" y2="391.6" stroke-width="1.0"/><line x1="580.0" y1="418.0" x2="623.5" y2="414.1" stroke-width="1.0"/><line x1="623.5" y1="414.1" x2="660.7" y2="409.6" stroke-width="1.0"/><line x1="660.7" y1="409.6" x2="698.1" y2="405.1" stroke-width="1.0"/><line x1="623.5" y1="414.1" x2="648.7" y2="411.7" stroke-width="1.0"/><line x1="648.7" y1="411.7" x2="698.9" y2="405.1" stroke-width="1.0"/><line x1="580.0" y1="418.0" x2="612.4" y2="415.3" stroke-width="1.0"/><line x1="612.4" y1="415.3" x2="628.0" y2="413.0" stroke-width="1.0"/><line x1="628.0" y1="413.0" x2="641.1" y2="411.3" stroke-width="1.0"/><line x1="612.4" y1="415.3" x2="621.8" y2="414.2" stroke-width="1.0"/><line x1="621.8" y1="414.2" x2="641.1" y2="411.0" stroke-width="1.0"/><line x1="612.4" y1="415.3" x2="626.8" y2="411.2" stroke-width="1.0"/><line x1="626.8" y1="411.2" x2="639.3" y2="409.8" stroke-width="1.0"/><line x1="612.4" y1="415.3" x2="628.2" y2="411.4" stroke-width="1.0"/><line x1="628.2" y1="411.4" x2="640.0" y2="408.6" stroke-width="1.0"/><line x1="612.4" y1="415.3" x2="627.5" y2="413.5" stroke-width="1.0"/><line x1="627.5" y1="413.5" x2="639.1" y2="410.6" stroke-width="1.0"/><line x1="612.4" y1="415.3" x2="625.5" y2="412.5" stroke-width="1.0"/><line x1="625.5" y1="412.5" x2="639.1" y2="409.9" stroke-width="1.0"/><line x1="612.4" y1="415.3" x2="624.9" y2="412.9" stroke-width="1.0"/><line x1="624.9" y1="412.9" x2="639.1" y2="411.2" stroke-width="1.0"/><line x1="612.4" y1="415.3" x2="619.6" y2="412.7" stroke-width="1.0"/><line x1="619.6" y1="412.7" x2="639.2" y2="408.5" stroke-width="1.0"/><line x1="578.0" y1="421.0" x2="612.9" y2="421.3" stroke-width="1.0"/><line x1="612.9" y1="421.3" x2="628.1" y2="419.5" stroke-width="1.0"/><line x1="628.1" y1="419.5" x2="643.6" y2="419.1" stroke-width="1.0"/><line x1="612.9" y1="421.3" x2="619.9" y2="421.0" stroke-width="1.0"/><line x1="619.9" y1="421.0" x2="638.8" y2="421.2" stroke-width="1.0"/><line x1="612.9" y1="421.3" x2="621.5" y2="421.5" stroke-width="1.0"/><line x1="621.5" y1="421.5" x2="637.4" y2="419.7" stroke-width="1.0"/><line x1="612.9" y1="421.3" x2="631.2" y2="420.7" stroke-width="1.0"/><line x1="631.2" y1="420.7" x2="643.4" y2="418.7" stroke-width="1.0"/><line x1="612.9" y1="421.3" x2="622.6" y2="421.9" stroke-width="1.0"/><line x1="622.6" y1="421.9" x2="642.5" y2="420.1" stroke-width="1.0"/><line x1="612.9" y1="421.3" x2="628.3" y2="420.4" stroke-width="1.0"/><line x1="628.3" y1="420.4" x2="641.0" y2="418.2" stroke-width="1.0"/><line x1="612.9" y1="421.3" x2="627.9" y2="421.9" stroke-width="1.0"/><line x1="627.9" y1="421.9" x2="643.8" y2="422.3" stroke-width="1.0"/><line x1="612.9" y1="421.3" x2="625.8" y2="421.3" stroke-width="1.0"/><line x1="625.8" y1="421.3" x2="640.0" y2="421.2" stroke-width="1.0"/><line x1="612.9" y1="421.3" x2="628.1" y2="422.2" stroke-width="1.0"/><line x1="628.1" y1="422.2" x2="640.7" y2="422.2" stroke-width="1.0"/><line x1="612.9" y1="421.3" x2="620.0" y2="420.0" stroke-width="1.0"/><line x1="620.0" y1="420.0" x2="637.0" y2="419.6" stroke-width="1.0"/><line x1="578.0" y1="421.0" x2="605.1" y2="423.4" stroke-width="1.0"/><line x1="605.1" y1="423.4" x2="625.2" y2="424.7" stroke-width="1.0"/><line x1="625.2" y1="424.7" x2="653.7" y2="427.8" stroke-width="1.0"/><line x1="605.1" y1="423.4" x2="618.8" y2="424.5" stroke-width="1.0"/><line x1="618.8" y1="424.5" x2="645.6" y2="427.2" stroke-width="1.0"/><line x1="605.1" y1="423.4" x2="625.4" y2="425.4" stroke-width="1.0"/><line x1="625.4" y1="425.4" x2="650.8" y2="427.1" stroke-width="1.0"/><line x1="605.1" y1="423.4" x2="617.9" y2="425.6" stroke-width="1.0"/><line x1="617.9" y1="425.6" x2="648.6" y2="427.9" stroke-width="1.0"/><line x1="605.1" y1="423.4" x2="628.8" y2="422.9" stroke-width="1.0"/><line x1="628.8" y1="422.9" x2="649.1" y2="422.5" stroke-width="1.0"/><line x1="605.1" y1="423.4" x2="618.6" y2="423.7" stroke-width="1.0"/><line x1="618.6" y1="423.7" x2="646.7" y2="427.2" stroke-width="1.0"/><line x1="605.1" y1="423.4" x2="616.9" y2="423.8" stroke-width="1.0"/><line x1="616.9" y1="423.8" x2="653.8" y2="423.4" stroke-width="1.0"/><line x1="605.1" y1="423.4" x2="626.9" y2="424.0" stroke-width="1.0"/><line x1="626.9" y1="424.0" x2="655.0" y2="423.3" stroke-width="1.0"/><line x1="605.1" y1="423.4" x2="629.1" y2="424.8" stroke-width="1.0"/><line x1="629.1" y1="424.8" x2="649.9" y2="426.1" stroke-width="1.0"/><line x1="605.1" y1="423.4" x2="624.7" y2="423.3" stroke-width="1.0"/><line x1="624.7" y1="423.3" x2="645.1" y2="423.0" stroke-width="1.0"/><line x1="605.1" y1="423.4" x2="627.6" y2="425.5" stroke-width="1.0"/><line x1="627.6" y1="425.5" x2="645.5" y2="426.5" stroke-width="1.0"/><line x1="605.1" y1="423.4" x2="620.5" y2="423.9" stroke-width="1.0"/><line x1="620.5" y1="423.9" x2="651.6" y2="424.1" stroke-width="1.0"/><line x1="605.1" y1="423.4" x2="617.3" y2="423.6" stroke-width="1.0"/><line x1="617.3" y1="423.6" x2="648.4" y2="426.9" stroke-width="1.0"/><line x1="605.1" y1="423.4" x2="628.6" y2="424.2" stroke-width="1.0"/><line x1="628.6" y1="424.2" x2="647.8" y2="426.7" stroke-width="1.0"/><line x1="605.1" y1="423.4" x2="621.9" y2="424.4" stroke-width="1.0"/><line x1="621.9" y1="424.4" x2="651.9" y2="425.4" stroke-width="1.0"/><line x1="578.0" y1="421.0" x2="614.1" y2="423.8" stroke-width="1.0"/><line x1="614.1" y1="423.8" x2="630.9" y2="426.0" stroke-width="1.0"/><line x1="630.9" y1="426.0" x2="659.7" y2="427.9" stroke-width="1.0"/><line x1="614.1" y1="423.8" x2="626.1" y2="424.0" stroke-width="1.0"/><line x1="626.1" y1="424.0" x2="658.0" y2="427.7" stroke-width="1.0"/><line x1="614.1" y1="423.8" x2="637.2" y2="425.6" stroke-width="1.0"/><line x1="637.2" y1="425.6" x2="655.3" y2="426.3" stroke-width="1.0"/><line x1="614.1" y1="423.8" x2="635.3" y2="425.6" stroke-width="1.0"/><line x1="635.3" y1="425.6" x2="655.9" y2="427.7" stroke-width="1.0"/><line x1="614.1" y1="423.8" x2="639.0" y2="426.1" stroke-width="1.0"/><line x1="639.0" y1="426.1" x2="655.8" y2="427.3" stroke-width="1.0"/><line x1="614.1" y1="423.8" x2="633.1" y2="426.6" stroke-width="1.0"/><line x1="633.1" y1="426.6" x2="658.5" y2="428.6" stroke-width="1.0"/><line x1="614.1" y1="423.8" x2="637.4" y2="423.9" stroke-width="1.0"/><line x1="637.4" y1="423.9" x2="660.6" y2="425.6" stroke-width="1.0"/><line x1="614.1" y1="423.8" x2="635.6" y2="427.0" stroke-width="1.0"/><line x1="635.6" y1="427.0" x2="660.2" y2="430.9" stroke-width="1.0"/><line x1="614.1" y1="423.8" x2="628.1" y2="425.2" stroke-width="1.0"/><line x1="628.1" y1="425.2" x2="659.2" y2="430.9" stroke-width="1.0"/><line x1="614.1" y1="423.8" x2="637.0" y2="425.8" stroke-width="1.0"/><line x1="637.0" y1="425.8" x2="660.1" y2="429.0" stroke-width="1.0"/><line x1="614.1" y1="423.8" x2="629.3" y2="424.4" stroke-width="1.0"/><line x1="629.3" y1="424.4" x2="657.1" y2="427.2" stroke-width="1.0"/><line x1="614.1" y1="423.8" x2="630.6" y2="426.3" stroke-width="1.0"/><line x1="630.6" y1="426.3" x2="659.7" y2="431.0" stroke-width="1.0"/><line x1="614.1" y1="423.8" x2="636.7" y2="424.6" stroke-width="1.0"/><line x1="636.7" y1="424.6" x2="658.2" y2="426.9" stroke-width="1.0"/><line x1="614.1" y1="423.8" x2="632.2" y2="425.8" stroke-width="1.0"/><line x1="632.2" y1="425.8" x2="663.1" y2="429.3" stroke-width="1.0"/><line x1="614.1" y1="423.8" x2="629.2" y2="424.8" stroke-width="1.0"/><line x1="629.2" y1="424.8" x2="657.6" y2="427.6" stroke-width="1.0"/><line x1="578.0" y1="421.0" x2="623.4" y2="424.0" stroke-width="1.0"/><line x1="623.4" y1="424.0" x2="638.3" y2="424.9" stroke-width="1.0"/><line x1="638.3" y1="424.9" x2="668.1" y2="423.9" stroke-width="1.0"/><line x1="623.4" y1="424.0" x2="638.7" y2="423.6" stroke-width="1.0"/><line x1="638.7" y1="423.6" x2="671.6" y2="422.5" stroke-width="1.0"/><line x1="623.4" y1="424.0" x2="639.1" y2="424.7" stroke-width="1.0"/><line x1="639.1" y1="424.7" x2="676.0" y2="426.2" stroke-width="1.0"/><line x1="623.4" y1="424.0" x2="633.7" y2="424.4" stroke-width="1.0"/><line x1="633.7" y1="424.4" x2="674.1" y2="422.4" stroke-width="1.0"/><line x1="623.4" y1="424.0" x2="639.8" y2="422.5" stroke-width="1.0"/><line x1="639.8" y1="422.5" x2="668.4" y2="421.8" stroke-width="1.0"/><line x1="623.4" y1="424.0" x2="650.4" y2="423.1" stroke-width="1.0"/><line x1="650.4" y1="423.1" x2="675.6" y2="422.5" stroke-width="1.0"/><line x1="623.4" y1="424.0" x2="639.4" y2="423.7" stroke-width="1.0"/><line x1="639.4" y1="423.7" x2="671.5" y2="422.6" stroke-width="1.0"/><line x1="623.4" y1="424.0" x2="650.4" y2="423.4" stroke-width="1.0"/><line x1="650.4" y1="423.4" x2="672.3" y2="423.3" stroke-width="1.0"/><line x1="623.4" y1="424.0" x2="645.2" y2="425.4" stroke-width="1.0"/><line x1="645.2" y1="425.4" x2="671.8" y2="425.6" stroke-width="1.0"/><line x1="623.4" y1="424.0" x2="634.6" y2="424.1" stroke-width="1.0"/><line x1="634.6" y1="424.1" x2="670.8" y2="425.1" stroke-width="1.0"/><line x1="578.0" y1="421.0" x2="623.5" y2="421.9" stroke-width="1.0"/><line x1="623.5" y1="421.9" x2="638.6" y2="422.4" stroke-width="1.0"/><line x1="638.6" y1="422.4" x2="681.4" y2="420.7" stroke-width="1.0"/><line x1="623.5" y1="421.9" x2="640.9" y2="422.2" stroke-width="1.0"/><line x1="640.9" y1="422.2" x2="680.7" y2="420.7" stroke-width="1.0"/><line x1="623.5" y1="421.9" x2="651.2" y2="422.5" stroke-width="1.0"/><line x1="651.2" y1="422.5" x2="682.5" y2="422.0" stroke-width="1.0"/><line x1="623.5" y1="421.9" x2="645.8" y2="421.2" stroke-width="1.0"/><line x1="645.8" y1="421.2" x2="680.4" y2="421.2" stroke-width="1.0"/><line x1="623.5" y1="421.9" x2="637.4" y2="422.4" stroke-width="1.0"/><line x1="637.4" y1="422.4" x2="682.1" y2="420.1" stroke-width="1.0"/><line x1="578.0" y1="421.0" x2="612.8" y2="429.4" stroke-width="1.0"/><line x1="612.8" y1="429.4" x2="624.3" y2="432.5" stroke-width="1.0"/><line x1="624.3" y1="432.5" x2="641.0" y2="436.0" stroke-width="1.0"/><line x1="612.8" y1="429.4" x2="631.4" y2="433.3" stroke-width="1.0"/><line x1="631.4" y1="433.3" x2="649.8" y2="438.5" stroke-width="1.0"/><line x1="612.8" y1="429.4" x2="630.5" y2="432.7" stroke-width="1.0"/><line x1="630.5" y1="432.7" x2="645.4" y2="436.7" stroke-width="1.0"/><line x1="612.8" y1="429.4" x2="618.1" y2="431.8" stroke-width="1.0"/><line x1="618.1" y1="431.8" x2="641.3" y2="436.7" stroke-width="1.0"/><line x1="612.8" y1="429.4" x2="632.3" y2="434.9" stroke-width="1.0"/><line x1="632.3" y1="434.9" x2="649.2" y2="437.6" stroke-width="1.0"/><line x1="612.8" y1="429.4" x2="622.0" y2="432.4" stroke-width="1.0"/><line x1="622.0" y1="432.4" x2="645.7" y2="438.7" stroke-width="1.0"/><line x1="612.8" y1="429.4" x2="630.7" y2="433.5" stroke-width="1.0"/><line x1="630.7" y1="433.5" x2="646.3" y2="439.2" stroke-width="1.0"/><line x1="612.8" y1="429.4" x2="631.2" y2="431.7" stroke-width="1.0"/><line x1="631.2" y1="431.7" x2="646.8" y2="435.5" stroke-width="1.0"/><line x1="612.8" y1="429.4" x2="630.9" y2="435.3" stroke-width="1.0"/><line x1="630.9" y1="435.3" x2="644.0" y2="440.0" stroke-width="1.0"/><line x1="612.8" y1="429.4" x2="626.9" y2="432.6" stroke-width="1.0"/><line x1="626.9" y1="432.6" x2="646.9" y2="439.1" stroke-width="1.0"/><line x1="612.8" y1="429.4" x2="628.4" y2="433.2" stroke-width="1.0"/><line x1="628.4" y1="433.2" x2="642.3" y2="438.7" stroke-width="1.0"/><line x1="612.8" y1="429.4" x2="626.1" y2="433.0" stroke-width="1.0"/><line x1="626.1" y1="433.0" x2="650.0" y2="436.8" stroke-width="1.0"/><line x1="612.8" y1="429.4" x2="629.9" y2="433.7" stroke-width="1.0"/><line x1="629.9" y1="433.7" x2="642.1" y2="437.4" stroke-width="1.0"/><line x1="612.8" y1="429.4" x2="620.9" y2="431.3" stroke-width="1.0"/><line x1="620.9" y1="431.3" x2="642.7" y2="439.8" stroke-width="1.0"/><line x1="612.8" y1="429.4" x2="625.1" y2="433.0" stroke-width="1.0"/><line x1="625.1" y1="433.0" x2="642.2" y2="437.7" stroke-width="1.0"/><line x1="578.0" y1="421.0" x2="609.0" y2="430.0" stroke-width="1.0"/><line x1="609.0" y1="430.0" x2="634.3" y2="438.3" stroke-width="1.0"/><line x1="634.3" y1="438.3" x2="651.3" y2="443.0" stroke-width="1.0"/><line x1="609.0" y1="430.0" x2="633.1" y2="437.3" stroke-width="1.0"/><line x1="633.1" y1="437.3" x2="657.2" y2="443.6" stroke-width="1.0"/><line x1="609.0" y1="430.0" x2="621.5" y2="434.4" stroke-width="1.0"/><line x1="621.5" y1="434.4" x2="655.8" y2="445.8" stroke-width="1.0"/><line x1="609.0" y1="430.0" x2="630.6" y2="435.7" stroke-width="1.0"/><line x1="630.6" y1="435.7" x2="655.7" y2="443.6" stroke-width="1.0"/><line x1="609.0" y1="430.0" x2="635.4" y2="438.3" stroke-width="1.0"/><line x1="635.4" y1="438.3" x2="657.7" y2="446.2" stroke-width="1.0"/><line x1="609.0" y1="430.0" x2="631.5" y2="435.6" stroke-width="1.0"/><line x1="631.5" y1="435.6" x2="656.0" y2="442.5" stroke-width="1.0"/><line x1="609.0" y1="430.0" x2="623.1" y2="436.3" stroke-width="1.0"/><line x1="623.1" y1="436.3" x2="650.2" y2="446.3" stroke-width="1.0"/><line x1="609.0" y1="430.0" x2="628.8" y2="437.0" stroke-width="1.0"/><line x1="628.8" y1="437.0" x2="654.1" y2="445.0" stroke-width="1.0"/><line x1="609.0" y1="430.0" x2="626.6" y2="434.8" stroke-width="1.0"/><line x1="626.6" y1="434.8" x2="652.9" y2="443.4" stroke-width="1.0"/><line x1="609.0" y1="430.0" x2="622.9" y2="434.6" stroke-width="1.0"/><line x1="622.9" y1="434.6" x2="651.9" y2="443.6" stroke-width="1.0"/><line x1="609.0" y1="430.0" x2="619.6" y2="433.6" stroke-width="1.0"/><line x1="619.6" y1="433.6" x2="655.8" y2="448.0" stroke-width="1.0"/><line x1="609.0" y1="430.0" x2="620.9" y2="434.4" stroke-width="1.0"/><line x1="620.9" y1="434.4" x2="653.8" y2="447.1" stroke-width="1.0"/><line x1="578.0" y1="421.0" x2="626.9" y2="438.2" stroke-width="1.0"/><line x1="626.9" y1="438.2" x2="646.8" y2="443.7" stroke-width="1.0"/><line x1="646.8" y1="443.7" x2="667.2" y2="450.5" stroke-width="1.0"/><line x1="626.9" y1="438.2" x2="636.4" y2="440.6" stroke-width="1.0"/><line x1="636.4" y1="440.6" x2="667.8" y2="447.9" stroke-width="1.0"/><line x1="626.9" y1="438.2" x2="640.0" y2="441.8" stroke-width="1.0"/><line x1="640.0" y1="441.8" x2="663.0" y2="448.7" stroke-width="1.0"/><line x1="626.9" y1="438.2" x2="639.6" y2="442.9" stroke-width="1.0"/><line x1="639.6" y1="442.9" x2="662.8" y2="449.6" stroke-width="1.0"/><line x1="626.9" y1="438.2" x2="644.0" y2="444.2" stroke-width="1.0"/><line x1="644.0" y1="444.2" x2="662.2" y2="450.0" stroke-width="1.0"/><line x1="626.9" y1="438.2" x2="639.5" y2="441.8" stroke-width="1.0"/><line x1="639.5" y1="441.8" x2="663.8" y2="450.3" stroke-width="1.0"/><line x1="626.9" y1="438.2" x2="649.6" y2="443.7" stroke-width="1.0"/><line x1="649.6" y1="443.7" x2="667.2" y2="448.0" stroke-width="1.0"/><line x1="626.9" y1="438.2" x2="646.5" y2="444.5" stroke-width="1.0"/><line x1="646.5" y1="444.5" x2="666.2" y2="448.6" stroke-width="1.0"/><line x1="578.0" y1="421.0" x2="625.6" y2="433.4" stroke-width="1.0"/><line x1="625.6" y1="433.4" x2="654.9" y2="442.2" stroke-width="1.0"/><line x1="654.9" y1="442.2" x2="674.6" y2="449.0" stroke-width="1.0"/><line x1="625.6" y1="433.4" x2="636.2" y2="437.5" stroke-width="1.0"/><line x1="636.2" y1="437.5" x2="674.6" y2="448.6" stroke-width="1.0"/><line x1="625.6" y1="433.4" x2="642.7" y2="439.1" stroke-width="1.0"/><line x1="642.7" y1="439.1" x2="673.4" y2="449.8" stroke-width="1.0"/><line x1="625.6" y1="433.4" x2="640.4" y2="438.2" stroke-width="1.0"/><line x1="640.4" y1="438.2" x2="673.5" y2="449.3" stroke-width="1.0"/><line x1="625.6" y1="433.4" x2="649.7" y2="440.5" stroke-width="1.0"/><line x1="649.7" y1="440.5" x2="675.5" y2="448.0" stroke-width="1.0"/><line x1="578.0" y1="421.0" x2="627.6" y2="429.9" stroke-width="1.0"/><line x1="627.6" y1="429.9" x2="643.3" y2="432.4" stroke-width="1.0"/><line x1="643.3" y1="432.4" x2="659.6" y2="436.2" stroke-width="1.0"/><line x1="627.6" y1="429.9" x2="636.5" y2="432.1" stroke-width="1.0"/><line x1="636.5" y1="432.1" x2="654.1" y2="436.4" stroke-width="1.0"/><line x1="627.6" y1="429.9" x2="643.2" y2="433.1" stroke-width="1.0"/><line x1="643.2" y1="433.1" x2="655.5" y2="434.9" stroke-width="1.0"/><line x1="627.6" y1="429.9" x2="636.0" y2="430.4" stroke-width="1.0"/><line x1="636.0" y1="430.4" x2="661.2" y2="434.4" stroke-width="1.0"/><line x1="627.6" y1="429.9" x2="635.5" y2="432.1" stroke-width="1.0"/><line x1="635.5" y1="432.1" x2="660.9" y2="439.0" stroke-width="1.0"/><line x1="627.6" y1="429.9" x2="640.3" y2="432.2" stroke-width="1.0"/><line x1="640.3" y1="432.2" x2="665.7" y2="435.1" stroke-width="1.0"/><line x1="627.6" y1="429.9" x2="637.0" y2="431.9" stroke-width="1.0"/><line x1="637.0" y1="431.9" x2="654.9" y2="433.6" stroke-width="1.0"/><line x1="627.6" y1="429.9" x2="638.9" y2="433.1" stroke-width="1.0"/><line x1="638.9" y1="433.1" x2="661.5" y2="437.0" stroke-width="1.0"/><line x1="627.6" y1="429.9" x2="636.2" y2="430.6" stroke-width="1.0"/><line x1="636.2" y1="430.6" x2="658.3" y2="433.4" stroke-width="1.0"/><line x1="627.6" y1="429.9" x2="645.1" y2="433.2" stroke-width="1.0"/><line x1="645.1" y1="433.2" x2="657.8" y2="436.3" stroke-width="1.0"/><line x1="627.6" y1="429.9" x2="644.7" y2="432.1" stroke-width="1.0"/><line x1="644.7" y1="432.1" x2="659.8" y2="433.5" stroke-width="1.0"/><line x1="627.6" y1="429.9" x2="635.6" y2="431.3" stroke-width="1.0"/><line x1="635.6" y1="431.3" x2="663.3" y2="437.2" stroke-width="1.0"/><line x1="627.6" y1="429.9" x2="642.8" y2="430.4" stroke-width="1.0"/><line x1="642.8" y1="430.4" x2="663.5" y2="433.0" stroke-width="1.0"/><line x1="627.6" y1="429.9" x2="640.7" y2="432.2" stroke-width="1.0"/><line x1="640.7" y1="432.2" x2="664.6" y2="436.1" stroke-width="1.0"/><line x1="627.6" y1="429.9" x2="633.0" y2="430.9" stroke-width="1.0"/><line x1="633.0" y1="430.9" x2="655.2" y2="433.2" stroke-width="1.0"/><line x1="578.0" y1="421.0" x2="709.0" y2="426.3" stroke-width="1.1"/><line x1="567.5" y1="416.5" x2="576.0" y2="418.0" stroke-width="1.2"/><line x1="576.0" y1="418.0" x2="580.0" y2="418.0" stroke-width="1.2"/><line x1="576.0" y1="418.0" x2="578.0" y2="421.0" stroke-width="1.2"/><line x1="567.5" y1="416.5" x2="563.0" y2="427.0" stroke-width="1.2"/><line x1="563.0" y1="427.0" x2="585.8" y2="441.9" stroke-width="1.0"/><line x1="585.8" y1="441.9" x2="591.1" y2="446.4" stroke-width="1.0"/><line x1="591.1" y1="446.4" x2="606.7" y2="459.2" stroke-width="1.0"/><line x1="585.8" y1="441.9" x2="591.4" y2="448.4" stroke-width="1.0"/><line x1="591.4" y1="448.4" x2="602.1" y2="459.7" stroke-width="1.0"/><line x1="585.8" y1="441.9" x2="591.8" y2="446.5" stroke-width="1.0"/><line x1="591.8" y1="446.5" x2="605.1" y2="458.9" stroke-width="1.0"/><line x1="585.8" y1="441.9" x2="589.4" y2="446.2" stroke-width="1.0"/><line x1="589.4" y1="446.2" x2="602.6" y2="458.0" stroke-width="1.0"/><line x1="585.8" y1="441.9" x2="589.8" y2="444.5" stroke-width="1.0"/><line x1="589.8" y1="444.5" x2="602.1" y2="457.8" stroke-width="1.0"/><line x1="585.8" y1="441.9" x2="592.1" y2="448.5" stroke-width="1.0"/><line x1="592.1" y1="448.5" x2="602.1" y2="458.9" stroke-width="1.0"/><line x1="585.8" y1="441.9" x2="589.9" y2="445.5" stroke-width="1.0"/><line x1="589.9" y1="445.5" x2="604.0" y2="457.7" stroke-width="1.0"/><line x1="585.8" y1="441.9" x2="594.5" y2="449.8" stroke-width="1.0"/><line x1="594.5" y1="449.8" x2="602.5" y2="457.4" stroke-width="1.0"/><line x1="563.0" y1="427.0" x2="580.7" y2="443.8" stroke-width="1.0"/><line x1="580.7" y1="443.8" x2="598.2" y2="456.6" stroke-width="1.0"/><line x1="598.2" y1="456.6" x2="610.7" y2="466.0" stroke-width="1.0"/><line x1="580.7" y1="443.8" x2="588.6" y2="450.0" stroke-width="1.0"/><line x1="588.6" y1="450.0" x2="607.3" y2="465.5" stroke-width="1.0"/><line x1="580.7" y1="443.8" x2="593.1" y2="454.4" stroke-width="1.0"/><line x1="593.1" y1="454.4" x2="609.0" y2="466.3" stroke-width="1.0"/><line x1="580.7" y1="443.8" x2="586.4" y2="448.7" stroke-width="1.0"/><line x1="586.4" y1="448.7" x2="609.4" y2="465.1" stroke-width="1.0"/><line x1="580.7" y1="443.8" x2="594.8" y2="454.9" stroke-width="1.0"/><line x1="594.8" y1="454.9" x2="609.3" y2="465.0" stroke-width="1.0"/><line x1="580.7" y1="443.8" x2="592.7" y2="454.5" stroke-width="1.0"/><line x1="592.7" y1="454.5" x2="606.3" y2="466.2" stroke-width="1.0"/><line x1="580.7" y1="443.8" x2="591.7" y2="454.4" stroke-width="1.0"/><line x1="591.7" y1="454.4" x2="606.8" y2="466.0" stroke-width="1.0"/><line x1="580.7" y1="443.8" x2="588.0" y2="450.5" stroke-width="1.0"/><line x1="588.0" y1="450.5" x2="606.8" y2="466.3" stroke-width="1.0"/><line x1="563.0" y1="427.0" x2="585.6" y2="447.1" stroke-width="1.0"/><line x1="585.6" y1="447.1" x2="591.9" y2="451.9" stroke-width="1.0"/><line x1="591.9" y1="451.9" x2="610.4" y2="469.5" stroke-width="1.0"/><line x1="585.6" y1="447.1" x2="595.9" y2="456.2" stroke-width="1.0"/><line x1="595.9" y1="456.2" x2="611.1" y2="469.2" stroke-width="1.0"/><line x1="585.6" y1="447.1" x2="599.4" y2="457.9" stroke-width="1.0"/><line x1="599.4" y1="457.9" x2="612.7" y2="470.1" stroke-width="1.0"/><line x1="585.6" y1="447.1" x2="600.2" y2="460.2" stroke-width="1.0"/><line x1="600.2" y1="460.2" x2="613.1" y2="470.7" stroke-width="1.0"/><line x1="585.6" y1="447.1" x2="596.3" y2="456.9" stroke-width="1.0"/><line x1="596.3" y1="456.9" x2="610.1" y2="469.3" stroke-width="1.0"/><line x1="563.0" y1="427.0" x2="585.2" y2="445.1" stroke-width="1.0"/><line x1="585.2" y1="445.1" x2="594.2" y2="452.0" stroke-width="1.0"/><line x1="594.2" y1="452.0" x2="613.8" y2="468.4" stroke-width="1.0"/><line x1="585.2" y1="445.1" x2="601.2" y2="457.1" stroke-width="1.0"/><line x1="601.2" y1="457.1" x2="614.6" y2="468.3" stroke-width="1.0"/><line x1="585.2" y1="445.1" x2="602.6" y2="457.4" stroke-width="1.0"/><line x1="602.6" y1="457.4" x2="616.4" y2="467.5" stroke-width="1.0"/><line x1="585.2" y1="445.1" x2="601.8" y2="457.6" stroke-width="1.0"/><line x1="601.8" y1="457.6" x2="616.4" y2="467.1" stroke-width="1.0"/><line x1="585.2" y1="445.1" x2="596.8" y2="453.1" stroke-width="1.0"/><line x1="596.8" y1="453.1" x2="616.8" y2="468.8" stroke-width="1.0"/><line x1="563.0" y1="427.0" x2="582.5" y2="439.8" stroke-width="1.0"/><line x1="582.5" y1="439.8" x2="595.2" y2="448.2" stroke-width="1.0"/><line x1="595.2" y1="448.2" x2="610.5" y2="459.9" stroke-width="1.0"/><line x1="582.5" y1="439.8" x2="588.7" y2="444.7" stroke-width="1.0"/><line x1="588.7" y1="444.7" x2="608.1" y2="460.2" stroke-width="1.0"/><line x1="582.5" y1="439.8" x2="588.7" y2="444.0" stroke-width="1.0"/><line x1="588.7" y1="444.0" x2="609.8" y2="460.4" stroke-width="1.0"/><line x1="582.5" y1="439.8" x2="590.8" y2="446.3" stroke-width="1.0"/><line x1="590.8" y1="446.3" x2="608.9" y2="459.1" stroke-width="1.0"/><line x1="582.5" y1="439.8" x2="588.0" y2="444.5" stroke-width="1.0"/><line x1="588.0" y1="444.5" x2="610.5" y2="460.7" stroke-width="1.0"/><line x1="567.5" y1="416.5" x2="560.0" y2="426.0" stroke-width="1.4"/><line x1="560.0" y1="426.0" x2="553.6" y2="435.2" stroke-width="1.4"/><line x1="553.6" y1="435.2" x2="530.0" y2="441.0" stroke-width="1.3"/><line x1="530.0" y1="441.0" x2="471.8" y2="449.0" stroke-width="1.0"/><line x1="471.8" y1="449.0" x2="444.4" y2="452.6" stroke-width="1.0"/><line x1="444.4" y1="452.6" x2="389.3" y2="456.9" stroke-width="1.0"/><line x1="471.8" y1="449.0" x2="436.4" y2="452.8" stroke-width="1.0"/><line x1="436.4" y1="452.8" x2="390.0" y2="455.8" stroke-width="1.0"/><line x1="471.8" y1="449.0" x2="448.5" y2="451.8" stroke-width="1.0"/><line x1="448.5" y1="451.8" x2="386.2" y2="456.1" stroke-width="1.0"/><line x1="471.8" y1="449.0" x2="442.4" y2="450.5" stroke-width="1.0"/><line x1="442.4" y1="450.5" x2="389.9" y2="455.3" stroke-width="1.0"/><line x1="471.8" y1="449.0" x2="445.4" y2="450.8" stroke-width="1.0"/><line x1="445.4" y1="450.8" x2="387.9" y2="455.3" stroke-width="1.0"/><line x1="471.8" y1="449.0" x2="435.6" y2="451.6" stroke-width="1.0"/><line x1="435.6" y1="451.6" x2="390.8" y2="455.7" stroke-width="1.0"/><line x1="471.8" y1="449.0" x2="426.4" y2="454.8" stroke-width="1.0"/><line x1="426.4" y1="454.8" x2="386.4" y2="458.3" stroke-width="1.0"/><line x1="471.8" y1="449.0" x2="447.9" y2="451.3" stroke-width="1.0"/><line x1="447.9" y1="451.3" x2="389.8" y2="456.0" stroke-width="1.0"/><line x1="471.8" y1="449.0" x2="430.4" y2="454.5" stroke-width="1.0"/><line x1="430.4" y1="454.5" x2="390.3" y2="458.9" stroke-width="1.0"/><line x1="471.8" y1="449.0" x2="439.6" y2="453.5" stroke-width="1.0"/><line x1="439.6" y1="453.5" x2="389.5" y2="458.4" stroke-width="1.0"/><line x1="530.0" y1="441.0" x2="467.4" y2="448.3" stroke-width="1.0"/><line x1="467.4" y1="448.3" x2="440.7" y2="452.4" stroke-width="1.0"/><line x1="440.7" y1="452.4" x2="400.9" y2="457.3" stroke-width="1.0"/><line x1="467.4" y1="448.3" x2="427.9" y2="454.4" stroke-width="1.0"/><line x1="427.9" y1="454.4" x2="401.5" y2="459.1" stroke-width="1.0"/><line x1="467.4" y1="448.3" x2="437.6" y2="452.0" stroke-width="1.0"/><line x1="437.6" y1="452.0" x2="401.9" y2="457.2" stroke-width="1.0"/><line x1="467.4" y1="448.3" x2="432.7" y2="454.4" stroke-width="1.0"/><line x1="432.7" y1="454.4" x2="402.9" y2="457.8" stroke-width="1.0"/><line x1="467.4" y1="448.3" x2="432.2" y2="454.1" stroke-width="1.0"/><line x1="432.2" y1="454.1" x2="402.9" y2="459.0" stroke-width="1.0"/><line x1="467.4" y1="448.3" x2="433.8" y2="452.9" stroke-width="1.0"/><line x1="433.8" y1="452.9" x2="399.3" y2="456.7" stroke-width="1.0"/><line x1="467.4" y1="448.3" x2="449.3" y2="449.3" stroke-width="1.0"/><line x1="449.3" y1="449.3" x2="399.4" y2="455.0" stroke-width="1.0"/><line x1="467.4" y1="448.3" x2="445.3" y2="450.2" stroke-width="1.0"/><line x1="445.3" y1="450.2" x2="396.0" y2="456.5" stroke-width="1.0"/><line x1="467.4" y1="448.3" x2="427.2" y2="454.4" stroke-width="1.0"/><line x1="427.2" y1="454.4" x2="396.7" y2="458.9" stroke-width="1.0"/><line x1="467.4" y1="448.3" x2="445.1" y2="451.8" stroke-width="1.0"/><line x1="445.1" y1="451.8" x2="398.7" y2="456.5" stroke-width="1.0"/><line x1="530.0" y1="441.0" x2="464.2" y2="449.6" stroke-width="1.0"/><line x1="464.2" y1="449.6" x2="438.5" y2="452.9" stroke-width="1.0"/><line x1="438.5" y1="452.9" x2="413.1" y2="455.9" stroke-width="1.0"/><line x1="464.2" y1="449.6" x2="433.0" y2="456.5" stroke-width="1.0"/><line x1="433.0" y1="456.5" x2="409.3" y2="460.3" stroke-width="1.0"/><line x1="464.2" y1="449.6" x2="437.8" y2="452.8" stroke-width="1.0"/><line x1="437.8" y1="452.8" x2="414.3" y2="456.5" stroke-width="1.0"/><line x1="464.2" y1="449.6" x2="453.4" y2="450.4" stroke-width="1.0"/><line x1="453.4" y1="450.4" x2="413.4" y2="457.1" stroke-width="1.0"/><line x1="464.2" y1="449.6" x2="449.3" y2="451.5" stroke-width="1.0"/><line x1="449.3" y1="451.5" x2="414.5" y2="459.0" stroke-width="1.0"/><line x1="464.2" y1="449.6" x2="436.8" y2="454.6" stroke-width="1.0"/><line x1="436.8" y1="454.6" x2="410.9" y2="458.5" stroke-width="1.0"/><line x1="464.2" y1="449.6" x2="442.0" y2="453.7" stroke-width="1.0"/><line x1="442.0" y1="453.7" x2="411.6" y2="459.8" stroke-width="1.0"/><line x1="464.2" y1="449.6" x2="446.1" y2="451.8" stroke-width="1.0"/><line x1="446.1" y1="451.8" x2="415.1" y2="456.5" stroke-width="1.0"/><line x1="464.2" y1="449.6" x2="453.3" y2="451.3" stroke-width="1.0"/><line x1="453.3" y1="451.3" x2="412.9" y2="460.1" stroke-width="1.0"/><line x1="464.2" y1="449.6" x2="436.0" y2="455.5" stroke-width="1.0"/><line x1="436.0" y1="455.5" x2="414.6" y2="459.2" stroke-width="1.0"/><line x1="530.0" y1="441.0" x2="487.1" y2="447.9" stroke-width="1.0"/><line x1="487.1" y1="447.9" x2="451.0" y2="451.5" stroke-width="1.0"/><line x1="451.0" y1="451.5" x2="422.7" y2="455.6" stroke-width="1.0"/><line x1="487.1" y1="447.9" x2="473.2" y2="449.6" stroke-width="1.0"/><line x1="473.2" y1="449.6" x2="422.2" y2="455.8" stroke-width="1.0"/><line x1="487.1" y1="447.9" x2="467.3" y2="450.9" stroke-width="1.0"/><line x1="467.3" y1="450.9" x2="423.0" y2="457.0" stroke-width="1.0"/><line x1="487.1" y1="447.9" x2="450.9" y2="453.2" stroke-width="1.0"/><line x1="450.9" y1="453.2" x2="420.7" y2="457.5" stroke-width="1.0"/><line x1="487.1" y1="447.9" x2="470.3" y2="449.5" stroke-width="1.0"/><line x1="470.3" y1="449.5" x2="424.0" y2="456.9" stroke-width="1.0"/><line x1="487.1" y1="447.9" x2="448.2" y2="451.7" stroke-width="1.0"/><line x1="448.2" y1="451.7" x2="420.3" y2="455.7" stroke-width="1.0"/><line x1="487.1" y1="447.9" x2="465.7" y2="450.0" stroke-width="1.0"/><line x1="465.7" y1="450.0" x2="423.5" y2="455.7" stroke-width="1.0"/><line x1="487.1" y1="447.9" x2="461.0" y2="450.9" stroke-width="1.0"/><line x1="461.0" y1="450.9" x2="424.5" y2="456.1" stroke-width="1.0"/><line x1="487.1" y1="447.9" x2="462.7" y2="451.2" stroke-width="1.0"/><line x1="462.7" y1="451.2" x2="424.1" y2="456.7" stroke-width="1.0"/><line x1="487.1" y1="447.9" x2="459.4" y2="452.7" stroke-width="1.0"/><line x1="459.4" y1="452.7" x2="428.5" y2="456.0" stroke-width="1.0"/><line x1="487.1" y1="447.9" x2="458.7" y2="452.0" stroke-width="1.0"/><line x1="458.7" y1="452.0" x2="426.9" y2="456.9" stroke-width="1.0"/><line x1="487.1" y1="447.9" x2="474.0" y2="450.3" stroke-width="1.0"/><line x1="474.0" y1="450.3" x2="426.0" y2="455.3" stroke-width="1.0"/><line x1="530.0" y1="441.0" x2="495.5" y2="448.9" stroke-width="1.0"/><line x1="495.5" y1="448.9" x2="473.8" y2="453.1" stroke-width="1.0"/><line x1="473.8" y1="453.1" x2="439.6" y2="460.4" stroke-width="1.0"/><line x1="495.5" y1="448.9" x2="463.2" y2="454.2" stroke-width="1.0"/><line x1="463.2" y1="454.2" x2="430.3" y2="459.4" stroke-width="1.0"/><line x1="495.5" y1="448.9" x2="458.0" y2="456.7" stroke-width="1.0"/><line x1="458.0" y1="456.7" x2="429.9" y2="463.4" stroke-width="1.0"/><line x1="495.5" y1="448.9" x2="479.4" y2="452.5" stroke-width="1.0"/><line x1="479.4" y1="452.5" x2="440.5" y2="463.8" stroke-width="1.0"/><line x1="495.5" y1="448.9" x2="481.1" y2="452.8" stroke-width="1.0"/><line x1="481.1" y1="452.8" x2="433.4" y2="462.9" stroke-width="1.0"/><line x1="495.5" y1="448.9" x2="462.4" y2="453.4" stroke-width="1.0"/><line x1="462.4" y1="453.4" x2="429.6" y2="458.6" stroke-width="1.0"/><line x1="495.5" y1="448.9" x2="484.5" y2="451.0" stroke-width="1.0"/><line x1="484.5" y1="451.0" x2="439.6" y2="462.0" stroke-width="1.0"/><line x1="495.5" y1="448.9" x2="483.3" y2="451.6" stroke-width="1.0"/><line x1="483.3" y1="451.6" x2="433.0" y2="463.3" stroke-width="1.0"/><line x1="495.5" y1="448.9" x2="469.5" y2="453.6" stroke-width="1.0"/><line x1="469.5" y1="453.6" x2="436.3" y2="459.5" stroke-width="1.0"/><line x1="495.5" y1="448.9" x2="483.7" y2="450.9" stroke-width="1.0"/><line x1="483.7" y1="450.9" x2="434.3" y2="461.8" stroke-width="1.0"/><line x1="495.5" y1="448.9" x2="468.9" y2="453.7" stroke-width="1.0"/><line x1="468.9" y1="453.7" x2="438.9" y2="460.8" stroke-width="1.0"/><line x1="495.5" y1="448.9" x2="463.6" y2="456.8" stroke-width="1.0"/><line x1="463.6" y1="456.8" x2="440.7" y2="462.6" stroke-width="1.0"/><line x1="495.5" y1="448.9" x2="463.1" y2="455.9" stroke-width="1.0"/><line x1="463.1" y1="455.9" x2="433.7" y2="463.1" stroke-width="1.0"/><line x1="495.5" y1="448.9" x2="481.2" y2="451.1" stroke-width="1.0"/><line x1="481.2" y1="451.1" x2="432.1" y2="460.2" stroke-width="1.0"/><line x1="495.5" y1="448.9" x2="468.7" y2="452.8" stroke-width="1.0"/><line x1="468.7" y1="452.8" x2="430.8" y2="459.0" stroke-width="1.0"/><line x1="530.0" y1="441.0" x2="482.5" y2="451.5" stroke-width="1.0"/><line x1="482.5" y1="451.5" x2="471.9" y2="454.7" stroke-width="1.0"/><line x1="471.9" y1="454.7" x2="444.2" y2="464.0" stroke-width="1.0"/><line x1="482.5" y1="451.5" x2="474.7" y2="455.4" stroke-width="1.0"/><line x1="474.7" y1="455.4" x2="451.6" y2="461.9" stroke-width="1.0"/><line x1="482.5" y1="451.5" x2="469.3" y2="456.5" stroke-width="1.0"/><line x1="469.3" y1="456.5" x2="453.0" y2="461.6" stroke-width="1.0"/><line x1="482.5" y1="451.5" x2="467.7" y2="456.1" stroke-width="1.0"/><line x1="467.7" y1="456.1" x2="446.6" y2="462.4" stroke-width="1.0"/><line x1="482.5" y1="451.5" x2="472.7" y2="454.5" stroke-width="1.0"/><line x1="472.7" y1="454.5" x2="446.9" y2="465.1" stroke-width="1.0"/><line x1="482.5" y1="451.5" x2="467.2" y2="456.0" stroke-width="1.0"/><line x1="467.2" y1="456.0" x2="442.5" y2="465.0" stroke-width="1.0"/><line x1="482.5" y1="451.5" x2="475.9" y2="454.9" stroke-width="1.0"/><line x1="475.9" y1="454.9" x2="447.5" y2="464.2" stroke-width="1.0"/><line x1="482.5" y1="451.5" x2="470.5" y2="454.6" stroke-width="1.0"/><line x1="470.5" y1="454.6" x2="452.1" y2="459.4" stroke-width="1.0"/><line x1="482.5" y1="451.5" x2="475.0" y2="454.1" stroke-width="1.0"/><line x1="475.0" y1="454.1" x2="452.0" y2="460.7" stroke-width="1.0"/><line x1="482.5" y1="451.5" x2="467.3" y2="455.5" stroke-width="1.0"/><line x1="467.3" y1="455.5" x2="450.0" y2="462.3" stroke-width="1.0"/><line x1="482.5" y1="451.5" x2="474.5" y2="453.0" stroke-width="1.0"/><line x1="474.5" y1="453.0" x2="443.7" y2="461.6" stroke-width="1.0"/><line x1="482.5" y1="451.5" x2="473.8" y2="455.0" stroke-width="1.0"/><line x1="473.8" y1="455.0" x2="452.1" y2="463.3" stroke-width="1.0"/><line x1="482.5" y1="451.5" x2="473.4" y2="454.9" stroke-width="1.0"/><line x1="473.4" y1="454.9" x2="453.9" y2="461.1" stroke-width="1.0"/><line x1="482.5" y1="451.5" x2="464.9" y2="454.3" stroke-width="1.0"/><line x1="464.9" y1="454.3" x2="443.7" y2="458.9" stroke-width="1.0"/><line x1="482.5" y1="451.5" x2="469.2" y2="454.1" stroke-width="1.0"/><line x1="469.2" y1="454.1" x2="448.1" y2="458.4" stroke-width="1.0"/><line x1="530.0" y1="441.0" x2="498.4" y2="453.1" stroke-width="1.0"/><line x1="498.4" y1="453.1" x2="489.6" y2="455.7" stroke-width="1.0"/><line x1="489.6" y1="455.7" x2="459.2" y2="463.4" stroke-width="1.0"/><line x1="498.4" y1="453.1" x2="485.9" y2="457.6" stroke-width="1.0"/><line x1="485.9" y1="457.6" x2="462.8" y2="464.6" stroke-width="1.0"/><line x1="498.4" y1="453.1" x2="475.8" y2="458.2" stroke-width="1.0"/><line x1="475.8" y1="458.2" x2="458.0" y2="463.7" stroke-width="1.0"/><line x1="498.4" y1="453.1" x2="486.7" y2="456.3" stroke-width="1.0"/><line x1="486.7" y1="456.3" x2="459.5" y2="465.2" stroke-width="1.0"/><line x1="498.4" y1="453.1" x2="486.7" y2="457.8" stroke-width="1.0"/><line x1="486.7" y1="457.8" x2="459.9" y2="467.9" stroke-width="1.0"/><line x1="498.4" y1="453.1" x2="489.1" y2="455.4" stroke-width="1.0"/><line x1="489.1" y1="455.4" x2="462.5" y2="462.8" stroke-width="1.0"/><line x1="498.4" y1="453.1" x2="485.9" y2="457.8" stroke-width="1.0"/><line x1="485.9" y1="457.8" x2="456.4" y2="466.7" stroke-width="1.0"/><line x1="498.4" y1="453.1" x2="488.4" y2="456.0" stroke-width="1.0"/><line x1="488.4" y1="456.0" x2="457.4" y2="462.1" stroke-width="1.0"/><line x1="498.4" y1="453.1" x2="483.2" y2="457.0" stroke-width="1.0"/><line x1="483.2" y1="457.0" x2="460.1" y2="464.1" stroke-width="1.0"/><line x1="498.4" y1="453.1" x2="482.7" y2="459.8" stroke-width="1.0"/><line x1="482.7" y1="459.8" x2="463.4" y2="467.2" stroke-width="1.0"/><line x1="498.4" y1="453.1" x2="478.0" y2="458.3" stroke-width="1.0"/><line x1="478.0" y1="458.3" x2="457.3" y2="465.5" stroke-width="1.0"/><line x1="498.4" y1="453.1" x2="476.6" y2="458.6" stroke-width="1.0"/><line x1="476.6" y1="458.6" x2="459.0" y2="462.6" stroke-width="1.0"/><line x1="530.0" y1="441.0" x2="505.7" y2="452.0" stroke-width="1.0"/><line x1="505.7" y1="452.0" x2="497.8" y2="456.2" stroke-width="1.0"/><line x1="497.8" y1="456.2" x2="475.5" y2="467.3" stroke-width="1.0"/><line x1="505.7" y1="452.0" x2="492.2" y2="457.1" stroke-width="1.0"/><line x1="492.2" y1="457.1" x2="475.0" y2="463.0" stroke-width="1.0"/><line x1="505.7" y1="452.0" x2="492.4" y2="457.5" stroke-width="1.0"/><line x1="492.4" y1="457.5" x2="476.0" y2="462.6" stroke-width="1.0"/><line x1="505.7" y1="452.0" x2="494.7" y2="457.3" stroke-width="1.0"/><line x1="494.7" y1="457.3" x2="476.7" y2="465.7" stroke-width="1.0"/><line x1="505.7" y1="452.0" x2="492.6" y2="457.3" stroke-width="1.0"/><line x1="492.6" y1="457.3" x2="468.2" y2="464.9" stroke-width="1.0"/><line x1="505.7" y1="452.0" x2="496.3" y2="455.9" stroke-width="1.0"/><line x1="496.3" y1="455.9" x2="474.7" y2="466.1" stroke-width="1.0"/><line x1="505.7" y1="452.0" x2="493.2" y2="456.6" stroke-width="1.0"/><line x1="493.2" y1="456.6" x2="470.1" y2="462.5" stroke-width="1.0"/><line x1="505.7" y1="452.0" x2="495.0" y2="456.7" stroke-width="1.0"/><line x1="495.0" y1="456.7" x2="474.4" y2="463.7" stroke-width="1.0"/><line x1="505.7" y1="452.0" x2="493.9" y2="457.0" stroke-width="1.0"/><line x1="493.9" y1="457.0" x2="471.6" y2="463.5" stroke-width="1.0"/><line x1="505.7" y1="452.0" x2="495.1" y2="456.4" stroke-width="1.0"/><line x1="495.1" y1="456.4" x2="470.3" y2="467.1" stroke-width="1.0"/><line x1="530.0" y1="441.0" x2="508.6" y2="450.1" stroke-width="1.0"/><line x1="508.6" y1="450.1" x2="496.6" y2="455.6" stroke-width="1.0"/><line x1="496.6" y1="455.6" x2="481.3" y2="460.4" stroke-width="1.0"/><line x1="508.6" y1="450.1" x2="494.5" y2="457.5" stroke-width="1.0"/><line x1="494.5" y1="457.5" x2="485.4" y2="463.1" stroke-width="1.0"/><line x1="508.6" y1="450.1" x2="501.4" y2="454.3" stroke-width="1.0"/><line x1="501.4" y1="454.3" x2="485.3" y2="463.1" stroke-width="1.0"/><line x1="508.6" y1="450.1" x2="498.1" y2="454.0" stroke-width="1.0"/><line x1="498.1" y1="454.0" x2="481.6" y2="459.8" stroke-width="1.0"/><line x1="508.6" y1="450.1" x2="500.4" y2="454.1" stroke-width="1.0"/><line x1="500.4" y1="454.1" x2="488.1" y2="459.6" stroke-width="1.0"/><line x1="508.6" y1="450.1" x2="492.5" y2="455.9" stroke-width="1.0"/><line x1="492.5" y1="455.9" x2="482.8" y2="461.7" stroke-width="1.0"/><line x1="508.6" y1="450.1" x2="500.2" y2="454.6" stroke-width="1.0"/><line x1="500.2" y1="454.6" x2="483.6" y2="460.2" stroke-width="1.0"/><line x1="508.6" y1="450.1" x2="495.9" y2="457.0" stroke-width="1.0"/><line x1="495.9" y1="457.0" x2="487.3" y2="461.8" stroke-width="1.0"/><line x1="530.0" y1="441.0" x2="512.6" y2="451.7" stroke-width="1.0"/><line x1="512.6" y1="451.7" x2="502.8" y2="458.0" stroke-width="1.0"/><line x1="502.8" y1="458.0" x2="496.2" y2="462.7" stroke-width="1.0"/><line x1="512.6" y1="451.7" x2="504.1" y2="455.5" stroke-width="1.0"/><line x1="504.1" y1="455.5" x2="492.2" y2="461.9" stroke-width="1.0"/><line x1="512.6" y1="451.7" x2="506.7" y2="455.7" stroke-width="1.0"/><line x1="506.7" y1="455.7" x2="495.0" y2="463.4" stroke-width="1.0"/><line x1="512.6" y1="451.7" x2="507.3" y2="455.1" stroke-width="1.0"/><line x1="507.3" y1="455.1" x2="496.4" y2="464.0" stroke-width="1.0"/><line x1="512.6" y1="451.7" x2="506.5" y2="456.1" stroke-width="1.0"/><line x1="506.5" y1="456.1" x2="497.3" y2="464.6" stroke-width="1.0"/><line x1="530.0" y1="441.0" x2="486.8" y2="453.0" stroke-width="1.0"/><line x1="486.8" y1="453.0" x2="457.3" y2="460.1" stroke-width="1.0"/><line x1="457.3" y1="460.1" x2="427.7" y2="467.6" stroke-width="1.0"/><line x1="486.8" y1="453.0" x2="451.6" y2="462.4" stroke-width="1.0"/><line x1="451.6" y1="462.4" x2="427.4" y2="468.2" stroke-width="1.0"/><line x1="486.8" y1="453.0" x2="458.2" y2="460.5" stroke-width="1.0"/><line x1="458.2" y1="460.5" x2="429.0" y2="469.1" stroke-width="1.0"/><line x1="486.8" y1="453.0" x2="459.5" y2="460.1" stroke-width="1.0"/><line x1="459.5" y1="460.1" x2="428.5" y2="467.8" stroke-width="1.0"/><line x1="486.8" y1="453.0" x2="457.9" y2="460.9" stroke-width="1.0"/><line x1="457.9" y1="460.9" x2="428.3" y2="469.7" stroke-width="1.0"/><line x1="486.8" y1="453.0" x2="452.6" y2="462.4" stroke-width="1.0"/><line x1="452.6" y1="462.4" x2="429.0" y2="469.1" stroke-width="1.0"/><line x1="486.8" y1="453.0" x2="468.5" y2="458.6" stroke-width="1.0"/><line x1="468.5" y1="458.6" x2="428.5" y2="468.8" stroke-width="1.0"/><line x1="486.8" y1="453.0" x2="466.2" y2="457.6" stroke-width="1.0"/><line x1="466.2" y1="457.6" x2="425.9" y2="466.7" stroke-width="1.0"/><line x1="530.0" y1="441.0" x2="483.5" y2="454.1" stroke-width="1.0"/><line x1="483.5" y1="454.1" x2="464.9" y2="458.4" stroke-width="1.0"/><line x1="464.9" y1="458.4" x2="437.3" y2="466.6" stroke-width="1.0"/><line x1="483.5" y1="454.1" x2="472.1" y2="457.1" stroke-width="1.0"/><line x1="472.1" y1="457.1" x2="437.3" y2="467.4" stroke-width="1.0"/><line x1="483.5" y1="454.1" x2="460.7" y2="460.7" stroke-width="1.0"/><line x1="460.7" y1="460.7" x2="441.0" y2="466.4" stroke-width="1.0"/><line x1="483.5" y1="454.1" x2="474.5" y2="457.2" stroke-width="1.0"/><line x1="474.5" y1="457.2" x2="441.6" y2="468.2" stroke-width="1.0"/><line x1="483.5" y1="454.1" x2="463.8" y2="461.2" stroke-width="1.0"/><line x1="463.8" y1="461.2" x2="438.9" y2="469.0" stroke-width="1.0"/><line x1="483.5" y1="454.1" x2="475.3" y2="456.9" stroke-width="1.0"/><line x1="475.3" y1="456.9" x2="441.9" y2="467.8" stroke-width="1.0"/><line x1="483.5" y1="454.1" x2="474.9" y2="457.7" stroke-width="1.0"/><line x1="474.9" y1="457.7" x2="439.6" y2="469.4" stroke-width="1.0"/><line x1="483.5" y1="454.1" x2="460.2" y2="461.2" stroke-width="1.0"/><line x1="460.2" y1="461.2" x2="439.9" y2="468.8" stroke-width="1.0"/><line x1="553.6" y1="435.2" x2="527.0" y2="454.0" stroke-width="1.3"/><line x1="527.0" y1="454.0" x2="506.1" y2="467.8" stroke-width="1.0"/><line x1="506.1" y1="467.8" x2="495.0" y2="472.3" stroke-width="1.0"/><line x1="495.0" y1="472.3" x2="469.1" y2="485.9" stroke-width="1.0"/><line x1="506.1" y1="467.8" x2="494.9" y2="474.4" stroke-width="1.0"/><line x1="494.9" y1="474.4" x2="467.6" y2="488.7" stroke-width="1.0"/><line x1="506.1" y1="467.8" x2="496.3" y2="473.3" stroke-width="1.0"/><line x1="496.3" y1="473.3" x2="473.3" y2="485.1" stroke-width="1.0"/><line x1="506.1" y1="467.8" x2="489.1" y2="477.5" stroke-width="1.0"/><line x1="489.1" y1="477.5" x2="471.0" y2="487.9" stroke-width="1.0"/><line x1="506.1" y1="467.8" x2="495.2" y2="475.2" stroke-width="1.0"/><line x1="495.2" y1="475.2" x2="472.5" y2="486.8" stroke-width="1.0"/><line x1="506.1" y1="467.8" x2="489.7" y2="477.7" stroke-width="1.0"/><line x1="489.7" y1="477.7" x2="473.5" y2="485.6" stroke-width="1.0"/><line x1="506.1" y1="467.8" x2="488.8" y2="477.7" stroke-width="1.0"/><line x1="488.8" y1="477.7" x2="473.8" y2="486.9" stroke-width="1.0"/><line x1="506.1" y1="467.8" x2="495.2" y2="474.3" stroke-width="1.0"/><line x1="495.2" y1="474.3" x2="469.2" y2="489.1" stroke-width="1.0"/><line x1="506.1" y1="467.8" x2="496.1" y2="473.5" stroke-width="1.0"/><line x1="496.1" y1="473.5" x2="468.8" y2="488.4" stroke-width="1.0"/><line x1="506.1" y1="467.8" x2="486.2" y2="477.8" stroke-width="1.0"/><line x1="486.2" y1="477.8" x2="466.2" y2="488.4" stroke-width="1.0"/><line x1="527.0" y1="454.0" x2="503.3" y2="469.2" stroke-width="1.0"/><line x1="503.3" y1="469.2" x2="497.1" y2="472.7" stroke-width="1.0"/><line x1="497.1" y1="472.7" x2="481.1" y2="486.3" stroke-width="1.0"/><line x1="503.3" y1="469.2" x2="498.9" y2="473.1" stroke-width="1.0"/><line x1="498.9" y1="473.1" x2="484.3" y2="484.9" stroke-width="1.0"/><line x1="503.3" y1="469.2" x2="491.3" y2="476.9" stroke-width="1.0"/><line x1="491.3" y1="476.9" x2="479.0" y2="485.7" stroke-width="1.0"/><line x1="503.3" y1="469.2" x2="495.9" y2="473.2" stroke-width="1.0"/><line x1="495.9" y1="473.2" x2="478.9" y2="483.3" stroke-width="1.0"/><line x1="503.3" y1="469.2" x2="495.6" y2="475.6" stroke-width="1.0"/><line x1="495.6" y1="475.6" x2="484.7" y2="484.5" stroke-width="1.0"/><line x1="503.3" y1="469.2" x2="491.8" y2="475.0" stroke-width="1.0"/><line x1="491.8" y1="475.0" x2="478.2" y2="482.8" stroke-width="1.0"/><line x1="503.3" y1="469.2" x2="486.8" y2="476.2" stroke-width="1.0"/><line x1="486.8" y1="476.2" x2="475.7" y2="482.3" stroke-width="1.0"/><line x1="503.3" y1="469.2" x2="497.1" y2="472.5" stroke-width="1.0"/><line x1="497.1" y1="472.5" x2="481.5" y2="484.0" stroke-width="1.0"/><line x1="503.3" y1="469.2" x2="491.9" y2="477.4" stroke-width="1.0"/><line x1="491.9" y1="477.4" x2="484.7" y2="483.6" stroke-width="1.0"/><line x1="503.3" y1="469.2" x2="496.9" y2="473.5" stroke-width="1.0"/><line x1="496.9" y1="473.5" x2="476.0" y2="484.6" stroke-width="1.0"/><line x1="503.3" y1="469.2" x2="492.7" y2="475.4" stroke-width="1.0"/><line x1="492.7" y1="475.4" x2="475.2" y2="484.7" stroke-width="1.0"/><line x1="503.3" y1="469.2" x2="490.1" y2="476.6" stroke-width="1.0"/><line x1="490.1" y1="476.6" x2="476.1" y2="483.9" stroke-width="1.0"/><line x1="527.0" y1="454.0" x2="507.6" y2="466.5" stroke-width="1.0"/><line x1="507.6" y1="466.5" x2="499.4" y2="473.1" stroke-width="1.0"/><line x1="499.4" y1="473.1" x2="491.0" y2="480.8" stroke-width="1.0"/><line x1="507.6" y1="466.5" x2="501.8" y2="471.6" stroke-width="1.0"/><line x1="501.8" y1="471.6" x2="492.5" y2="478.0" stroke-width="1.0"/><line x1="507.6" y1="466.5" x2="499.2" y2="471.9" stroke-width="1.0"/><line x1="499.2" y1="471.9" x2="488.1" y2="477.4" stroke-width="1.0"/><line x1="507.6" y1="466.5" x2="504.8" y2="469.4" stroke-width="1.0"/><line x1="504.8" y1="469.4" x2="495.9" y2="479.3" stroke-width="1.0"/><line x1="507.6" y1="466.5" x2="504.6" y2="470.4" stroke-width="1.0"/><line x1="504.6" y1="470.4" x2="495.6" y2="481.5" stroke-width="1.0"/><line x1="507.6" y1="466.5" x2="503.7" y2="469.9" stroke-width="1.0"/><line x1="503.7" y1="469.9" x2="487.5" y2="478.3" stroke-width="1.0"/><line x1="507.6" y1="466.5" x2="504.4" y2="471.9" stroke-width="1.0"/><line x1="504.4" y1="471.9" x2="494.1" y2="482.4" stroke-width="1.0"/><line x1="507.6" y1="466.5" x2="504.5" y2="470.6" stroke-width="1.0"/><line x1="504.5" y1="470.6" x2="495.2" y2="478.3" stroke-width="1.0"/><line x1="507.6" y1="466.5" x2="504.6" y2="469.3" stroke-width="1.0"/><line x1="504.6" y1="469.3" x2="491.1" y2="478.6" stroke-width="1.0"/><line x1="507.6" y1="466.5" x2="497.0" y2="472.2" stroke-width="1.0"/><line x1="497.0" y1="472.2" x2="488.4" y2="477.8" stroke-width="1.0"/><line x1="507.6" y1="466.5" x2="501.1" y2="472.4" stroke-width="1.0"/><line x1="501.1" y1="472.4" x2="488.7" y2="482.3" stroke-width="1.0"/><line x1="507.6" y1="466.5" x2="503.0" y2="472.3" stroke-width="1.0"/><line x1="503.0" y1="472.3" x2="490.8" y2="482.7" stroke-width="1.0"/><line x1="527.0" y1="454.0" x2="518.0" y2="463.8" stroke-width="1.0"/><line x1="518.0" y1="463.8" x2="509.2" y2="469.2" stroke-width="1.0"/><line x1="509.2" y1="469.2" x2="497.0" y2="476.2" stroke-width="1.0"/><line x1="518.0" y1="463.8" x2="510.2" y2="471.4" stroke-width="1.0"/><line x1="510.2" y1="471.4" x2="503.4" y2="477.8" stroke-width="1.0"/><line x1="518.0" y1="463.8" x2="510.3" y2="470.3" stroke-width="1.0"/><line x1="510.3" y1="470.3" x2="502.9" y2="475.2" stroke-width="1.0"/><line x1="518.0" y1="463.8" x2="510.0" y2="468.5" stroke-width="1.0"/><line x1="510.0" y1="468.5" x2="498.8" y2="476.2" stroke-width="1.0"/><line x1="518.0" y1="463.8" x2="509.3" y2="470.4" stroke-width="1.0"/><line x1="509.3" y1="470.4" x2="501.9" y2="476.6" stroke-width="1.0"/><line x1="518.0" y1="463.8" x2="515.1" y2="466.5" stroke-width="1.0"/><line x1="515.1" y1="466.5" x2="500.0" y2="475.7" stroke-width="1.0"/><line x1="518.0" y1="463.8" x2="509.5" y2="470.5" stroke-width="1.0"/><line x1="509.5" y1="470.5" x2="498.6" y2="476.6" stroke-width="1.0"/><line x1="518.0" y1="463.8" x2="510.0" y2="468.1" stroke-width="1.0"/><line x1="510.0" y1="468.1" x2="500.6" y2="476.1" stroke-width="1.0"/><line x1="518.0" y1="463.8" x2="513.9" y2="466.4" stroke-width="1.0"/><line x1="513.9" y1="466.4" x2="501.9" y2="477.1" stroke-width="1.0"/><line x1="518.0" y1="463.8" x2="510.0" y2="469.0" stroke-width="1.0"/><line x1="510.0" y1="469.0" x2="496.9" y2="476.9" stroke-width="1.0"/><line x1="527.0" y1="454.0" x2="517.0" y2="464.1" stroke-width="1.0"/><line x1="517.0" y1="464.1" x2="514.0" y2="465.6" stroke-width="1.0"/><line x1="514.0" y1="465.6" x2="508.6" y2="471.1" stroke-width="1.0"/><line x1="517.0" y1="464.1" x2="512.6" y2="467.8" stroke-width="1.0"/><line x1="512.6" y1="467.8" x2="507.2" y2="473.4" stroke-width="1.0"/><line x1="517.0" y1="464.1" x2="514.2" y2="466.7" stroke-width="1.0"/><line x1="514.2" y1="466.7" x2="512.6" y2="470.6" stroke-width="1.0"/><line x1="517.0" y1="464.1" x2="513.8" y2="467.4" stroke-width="1.0"/><line x1="513.8" y1="467.4" x2="512.8" y2="471.2" stroke-width="1.0"/><line x1="517.0" y1="464.1" x2="513.8" y2="468.4" stroke-width="1.0"/><line x1="513.8" y1="468.4" x2="511.1" y2="470.8" stroke-width="1.0"/><line x1="517.0" y1="464.1" x2="514.2" y2="467.0" stroke-width="1.0"/><line x1="514.2" y1="467.0" x2="509.5" y2="472.6" stroke-width="1.0"/><line x1="517.0" y1="464.1" x2="514.3" y2="466.1" stroke-width="1.0"/><line x1="514.3" y1="466.1" x2="508.7" y2="472.3" stroke-width="1.0"/><line x1="517.0" y1="464.1" x2="514.8" y2="467.9" stroke-width="1.0"/><line x1="514.8" y1="467.9" x2="508.9" y2="471.4" stroke-width="1.0"/><line x1="527.0" y1="454.0" x2="521.9" y2="466.1" stroke-width="1.0"/><line x1="521.9" y1="466.1" x2="520.7" y2="469.2" stroke-width="1.0"/><line x1="520.7" y1="469.2" x2="516.4" y2="478.3" stroke-width="1.0"/><line x1="521.9" y1="466.1" x2="517.3" y2="471.1" stroke-width="1.0"/><line x1="517.3" y1="471.1" x2="513.6" y2="477.2" stroke-width="1.0"/><line x1="521.9" y1="466.1" x2="518.4" y2="470.2" stroke-width="1.0"/><line x1="518.4" y1="470.2" x2="514.6" y2="477.6" stroke-width="1.0"/><line x1="521.9" y1="466.1" x2="519.4" y2="471.3" stroke-width="1.0"/><line x1="519.4" y1="471.3" x2="515.7" y2="477.0" stroke-width="1.0"/><line x1="521.9" y1="466.1" x2="521.0" y2="469.4" stroke-width="1.0"/><line x1="521.0" y1="469.4" x2="515.4" y2="478.8" stroke-width="1.0"/><line x1="527.0" y1="454.0" x2="494.0" y2="512.0" stroke-width="1.3"/><line x1="556.5" y1="433.8" x2="572.3" y2="495.0" stroke-width="1.4"/><line x1="572.3" y1="495.0" x2="555.5" y2="555.3" stroke-width="1.4"/><line x1="572.3" y1="495.0" x2="640.5" y2="645.7" stroke-width="1.4"/><line x1="640.5" y1="645.7" x2="641.0" y2="667.0" stroke-width="1.25"/><line x1="640.5" y1="645.7" x2="651.0" y2="679.0" stroke-width="1.25"/><line x1="640.5" y1="645.7" x2="663.0" y2="673.0" stroke-width="1.25"/><line x1="640.5" y1="645.7" x2="656.0" y2="661.0" stroke-width="1.25"/><line x1="640.5" y1="645.7" x2="652.0" y2="668.0" stroke-width="1.25"/><line x1="640.5" y1="645.7" x2="647.0" y2="662.0" stroke-width="1.25"/><line x1="640.5" y1="645.7" x2="650.0" y2="672.0" stroke-width="1.25"/><line x1="640.5" y1="645.7" x2="644.0" y2="660.0" stroke-width="1.25"/><line x1="640.5" y1="645.7" x2="660.0" y2="667.0" stroke-width="1.25"/></g>
<g fill="#00BA38"><circle cx="463.4" cy="401.8" r="2.25"/><circle cx="458.3" cy="402.9" r="2.25"/><circle cx="457.5" cy="400.0" r="2.25"/><circle cx="458.6" cy="402.7" r="2.25"/><circle cx="458.4" cy="400.1" r="2.25"/><circle cx="463.1" cy="401.5" r="2.25"/><circle cx="461.4" cy="399.6" r="2.25"/><circle cx="456.2" cy="403.0" r="2.25"/><circle cx="467.1" cy="405.6" r="2.25"/><circle cx="471.7" cy="404.0" r="2.25"/><circle cx="474.7" cy="405.5" r="2.25"/><circle cx="469.8" cy="407.7" r="2.25"/><circle cx="474.9" cy="406.3" r="2.25"/><circle cx="467.5" cy="406.5" r="2.25"/><circle cx="477.5" cy="401.0" r="2.25"/><circle cx="465.9" cy="404.4" r="2.25"/><circle cx="468.9" cy="406.7" r="2.25"/><circle cx="467.9" cy="400.7" r="2.25"/><circle cx="466.3" cy="405.3" r="2.25"/><circle cx="477.0" cy="403.7" r="2.25"/><circle cx="468.8" cy="405.3" r="2.25"/><circle cx="478.1" cy="402.2" r="2.25"/><circle cx="465.8" cy="401.7" r="2.25"/><circle cx="469.8" cy="402.9" r="2.25"/><circle cx="474.6" cy="402.9" r="2.25"/><circle cx="472.6" cy="402.5" r="2.25"/><circle cx="471.1" cy="403.6" r="2.25"/><circle cx="478.9" cy="406.0" r="2.25"/><circle cx="485.5" cy="410.1" r="2.25"/><circle cx="485.3" cy="404.1" r="2.25"/><circle cx="491.0" cy="402.3" r="2.25"/><circle cx="488.7" cy="410.0" r="2.25"/><circle cx="481.1" cy="407.8" r="2.25"/><circle cx="482.0" cy="408.5" r="2.25"/><circle cx="481.2" cy="407.9" r="2.25"/><circle cx="485.3" cy="402.1" r="2.25"/><circle cx="491.9" cy="406.1" r="2.25"/><circle cx="483.7" cy="409.6" r="2.25"/><circle cx="480.8" cy="402.7" r="2.25"/><circle cx="492.9" cy="406.9" r="2.25"/><circle cx="479.8" cy="404.2" r="2.25"/><circle cx="482.3" cy="407.9" r="2.25"/><circle cx="490.9" cy="409.5" r="2.25"/><circle cx="479.5" cy="404.4" r="2.25"/><circle cx="481.1" cy="403.2" r="2.25"/><circle cx="489.6" cy="408.2" r="2.25"/><circle cx="486.4" cy="402.1" r="2.25"/><circle cx="488.3" cy="407.2" r="2.25"/><circle cx="492.2" cy="386.8" r="2.25"/><circle cx="486.5" cy="392.6" r="2.25"/><circle cx="482.7" cy="386.4" r="2.25"/><circle cx="493.0" cy="387.7" r="2.25"/><circle cx="485.2" cy="393.4" r="2.25"/><circle cx="486.8" cy="391.9" r="2.25"/><circle cx="487.0" cy="392.6" r="2.25"/><circle cx="482.1" cy="391.4" r="2.25"/><circle cx="483.6" cy="393.2" r="2.25"/><circle cx="482.8" cy="387.1" r="2.25"/><circle cx="492.6" cy="389.7" r="2.25"/><circle cx="482.9" cy="392.0" r="2.25"/><circle cx="500.2" cy="381.0" r="2.25"/><circle cx="491.2" cy="376.2" r="2.25"/><circle cx="494.4" cy="378.5" r="2.25"/><circle cx="499.8" cy="375.0" r="2.25"/><circle cx="492.4" cy="375.5" r="2.25"/><circle cx="492.9" cy="377.5" r="2.25"/><circle cx="491.9" cy="376.2" r="2.25"/><circle cx="492.9" cy="376.1" r="2.25"/><circle cx="501.9" cy="376.2" r="2.25"/><circle cx="498.0" cy="376.9" r="2.25"/><circle cx="497.9" cy="376.5" r="2.25"/><circle cx="492.9" cy="381.0" r="2.25"/><circle cx="504.5" cy="391.5" r="2.25"/><circle cx="506.8" cy="393.5" r="2.25"/><circle cx="503.5" cy="388.9" r="2.25"/><circle cx="509.6" cy="393.0" r="2.25"/><circle cx="513.1" cy="394.7" r="2.25"/><circle cx="506.1" cy="393.8" r="2.25"/><circle cx="510.8" cy="391.9" r="2.25"/><circle cx="507.9" cy="394.2" r="2.25"/><circle cx="505.5" cy="391.3" r="2.25"/><circle cx="509.9" cy="391.9" r="2.25"/><circle cx="514.5" cy="388.3" r="2.25"/><circle cx="504.8" cy="389.6" r="2.25"/><circle cx="508.2" cy="390.2" r="2.25"/><circle cx="503.0" cy="393.6" r="2.25"/><circle cx="505.4" cy="390.2" r="2.25"/><circle cx="527.0" cy="377.0" r="2.25"/><circle cx="517.6" cy="378.2" r="2.25"/><circle cx="520.5" cy="378.1" r="2.25"/><circle cx="520.4" cy="379.2" r="2.25"/><circle cx="514.4" cy="383.7" r="2.25"/><circle cx="518.8" cy="381.6" r="2.25"/><circle cx="514.0" cy="378.5" r="2.25"/><circle cx="520.3" cy="378.2" r="2.25"/><circle cx="524.4" cy="384.9" r="2.25"/><circle cx="517.7" cy="385.0" r="2.25"/><circle cx="522.6" cy="382.0" r="2.25"/><circle cx="523.1" cy="378.3" r="2.25"/><circle cx="513.5" cy="378.2" r="2.25"/><circle cx="525.4" cy="378.5" r="2.25"/><circle cx="518.9" cy="380.0" r="2.25"/><circle cx="531.7" cy="381.3" r="2.25"/><circle cx="535.5" cy="378.9" r="2.25"/><circle cx="527.5" cy="380.6" r="2.25"/><circle cx="538.8" cy="382.9" r="2.25"/><circle cx="530.7" cy="380.9" r="2.25"/><circle cx="535.0" cy="381.0" r="2.25"/><circle cx="538.2" cy="384.0" r="2.25"/><circle cx="526.7" cy="383.4" r="2.25"/><circle cx="537.2" cy="383.9" r="2.25"/><circle cx="539.6" cy="382.8" r="2.25"/><circle cx="530.0" cy="377.3" r="2.25"/><circle cx="535.1" cy="377.7" r="2.25"/><circle cx="536.9" cy="379.6" r="2.25"/><circle cx="534.5" cy="384.8" r="2.25"/><circle cx="532.0" cy="383.0" r="2.25"/><circle cx="541.8" cy="391.3" r="2.25"/><circle cx="540.2" cy="389.9" r="2.25"/><circle cx="543.5" cy="393.1" r="2.25"/><circle cx="541.3" cy="391.5" r="2.25"/><circle cx="546.0" cy="393.2" r="2.25"/><circle cx="538.3" cy="393.1" r="2.25"/><circle cx="543.7" cy="389.8" r="2.25"/><circle cx="540.2" cy="391.8" r="2.25"/><circle cx="544.2" cy="393.1" r="2.25"/><circle cx="539.1" cy="391.2" r="2.25"/><circle cx="510.1" cy="372.9" r="2.25"/><circle cx="511.7" cy="372.6" r="2.25"/><circle cx="512.6" cy="371.6" r="2.25"/><circle cx="510.7" cy="374.2" r="2.25"/><circle cx="510.0" cy="374.3" r="2.25"/><circle cx="508.8" cy="370.9" r="2.25"/><circle cx="515.9" cy="372.4" r="2.25"/><circle cx="515.4" cy="372.4" r="2.25"/><circle cx="562.0" cy="385.3" r="2.25"/><circle cx="561.0" cy="384.3" r="2.25"/><circle cx="561.2" cy="384.2" r="2.25"/><circle cx="559.5" cy="384.9" r="2.25"/><circle cx="561.1" cy="386.0" r="2.25"/><circle cx="572.6" cy="381.0" r="2.25"/><circle cx="572.0" cy="380.4" r="2.25"/><circle cx="572.0" cy="380.5" r="2.25"/><circle cx="573.7" cy="381.4" r="2.25"/><circle cx="572.8" cy="381.7" r="2.25"/><circle cx="577.6" cy="392.5" r="2.25"/><circle cx="576.7" cy="391.1" r="2.25"/><circle cx="575.7" cy="393.1" r="2.25"/><circle cx="574.5" cy="391.1" r="2.25"/><circle cx="574.7" cy="392.7" r="2.25"/><circle cx="609.3" cy="365.7" r="2.25"/><circle cx="604.8" cy="366.1" r="2.25"/><circle cx="607.4" cy="366.6" r="2.25"/><circle cx="604.7" cy="363.1" r="2.25"/><circle cx="604.8" cy="363.3" r="2.25"/><circle cx="607.6" cy="365.4" r="2.25"/><circle cx="608.5" cy="366.5" r="2.25"/><circle cx="605.5" cy="364.2" r="2.25"/><circle cx="609.0" cy="364.1" r="2.25"/><circle cx="610.0" cy="363.4" r="2.25"/><circle cx="606.9" cy="366.4" r="2.25"/><circle cx="603.7" cy="366.0" r="2.25"/><circle cx="614.9" cy="362.0" r="2.25"/><circle cx="608.6" cy="361.1" r="2.25"/><circle cx="608.8" cy="361.0" r="2.25"/><circle cx="613.0" cy="361.7" r="2.25"/><circle cx="612.7" cy="359.8" r="2.25"/><circle cx="609.5" cy="359.7" r="2.25"/><circle cx="613.5" cy="358.1" r="2.25"/><circle cx="613.5" cy="357.7" r="2.25"/><circle cx="608.2" cy="360.2" r="2.25"/><circle cx="614.3" cy="360.8" r="2.25"/><circle cx="610.1" cy="361.7" r="2.25"/><circle cx="612.2" cy="360.5" r="2.25"/><circle cx="618.2" cy="370.6" r="2.25"/><circle cx="618.8" cy="372.7" r="2.25"/><circle cx="609.1" cy="378.3" r="2.25"/><circle cx="605.7" cy="382.2" r="2.25"/><circle cx="610.8" cy="379.3" r="2.25"/><circle cx="607.7" cy="378.8" r="2.25"/><circle cx="610.4" cy="381.9" r="2.25"/><circle cx="623.4" cy="407.4" r="2.25"/><circle cx="623.0" cy="409.4" r="2.25"/><circle cx="625.9" cy="409.3" r="2.25"/><circle cx="625.7" cy="408.5" r="2.25"/><circle cx="623.6" cy="406.8" r="2.25"/><circle cx="626.8" cy="409.2" r="2.25"/><circle cx="624.1" cy="409.8" r="2.25"/><circle cx="626.0" cy="409.1" r="2.25"/><circle cx="631.3" cy="399.4" r="2.25"/><circle cx="631.7" cy="398.3" r="2.25"/><circle cx="631.6" cy="400.6" r="2.25"/><circle cx="635.3" cy="401.1" r="2.25"/><circle cx="637.9" cy="401.9" r="2.25"/><circle cx="636.9" cy="400.4" r="2.25"/><circle cx="634.9" cy="399.8" r="2.25"/><circle cx="637.5" cy="400.5" r="2.25"/><circle cx="636.1" cy="401.7" r="2.25"/><circle cx="632.3" cy="399.2" r="2.25"/><circle cx="643.8" cy="391.2" r="2.25"/><circle cx="648.3" cy="391.4" r="2.25"/><circle cx="651.8" cy="393.4" r="2.25"/><circle cx="647.9" cy="392.4" r="2.25"/><circle cx="649.1" cy="391.7" r="2.25"/><circle cx="650.8" cy="395.5" r="2.25"/><circle cx="647.3" cy="390.2" r="2.25"/><circle cx="644.8" cy="391.0" r="2.25"/><circle cx="649.8" cy="390.1" r="2.25"/><circle cx="647.9" cy="392.2" r="2.25"/><circle cx="643.9" cy="391.9" r="2.25"/><circle cx="652.7" cy="394.0" r="2.25"/><circle cx="656.4" cy="390.6" r="2.25"/><circle cx="657.1" cy="386.5" r="2.25"/><circle cx="660.7" cy="385.9" r="2.25"/><circle cx="656.3" cy="389.3" r="2.25"/><circle cx="656.8" cy="385.4" r="2.25"/><circle cx="662.0" cy="390.9" r="2.25"/><circle cx="661.1" cy="386.5" r="2.25"/><circle cx="663.3" cy="390.7" r="2.25"/><circle cx="660.2" cy="389.1" r="2.25"/><circle cx="663.9" cy="387.8" r="2.25"/><circle cx="653.6" cy="399.2" r="2.25"/><circle cx="658.0" cy="399.0" r="2.25"/><circle cx="654.0" cy="404.9" r="2.25"/><circle cx="655.9" cy="400.2" r="2.25"/><circle cx="651.2" cy="400.4" r="2.25"/><circle cx="655.9" cy="402.3" r="2.25"/><circle cx="659.8" cy="400.9" r="2.25"/><circle cx="656.4" cy="402.0" r="2.25"/><circle cx="657.0" cy="400.5" r="2.25"/><circle cx="654.7" cy="403.6" r="2.25"/><circle cx="655.8" cy="400.4" r="2.25"/><circle cx="652.9" cy="400.2" r="2.25"/><circle cx="672.0" cy="401.0" r="2.25"/><circle cx="671.0" cy="402.2" r="2.25"/><circle cx="668.5" cy="401.1" r="2.25"/><circle cx="668.2" cy="400.0" r="2.25"/><circle cx="670.4" cy="402.3" r="2.25"/><circle cx="672.6" cy="397.8" r="2.25"/><circle cx="666.9" cy="398.0" r="2.25"/><circle cx="668.2" cy="402.2" r="2.25"/><circle cx="666.2" cy="402.0" r="2.25"/><circle cx="666.6" cy="399.4" r="2.25"/><circle cx="689.5" cy="392.1" r="2.25"/><circle cx="689.0" cy="391.6" r="2.25"/><circle cx="641.1" cy="411.3" r="2.25"/><circle cx="641.1" cy="411.0" r="2.25"/><circle cx="639.3" cy="409.8" r="2.25"/><circle cx="640.0" cy="408.6" r="2.25"/><circle cx="639.1" cy="410.6" r="2.25"/><circle cx="639.1" cy="409.9" r="2.25"/><circle cx="639.1" cy="411.2" r="2.25"/><circle cx="639.2" cy="408.5" r="2.25"/><circle cx="643.6" cy="419.1" r="2.25"/><circle cx="638.8" cy="421.2" r="2.25"/><circle cx="637.4" cy="419.7" r="2.25"/><circle cx="643.4" cy="418.7" r="2.25"/><circle cx="642.5" cy="420.1" r="2.25"/><circle cx="641.0" cy="418.2" r="2.25"/><circle cx="643.8" cy="422.3" r="2.25"/><circle cx="640.0" cy="421.2" r="2.25"/><circle cx="640.7" cy="422.2" r="2.25"/><circle cx="637.0" cy="419.6" r="2.25"/><circle cx="653.7" cy="427.8" r="2.25"/><circle cx="645.6" cy="427.2" r="2.25"/><circle cx="650.8" cy="427.1" r="2.25"/><circle cx="648.6" cy="427.9" r="2.25"/><circle cx="649.1" cy="422.5" r="2.25"/><circle cx="646.7" cy="427.2" r="2.25"/><circle cx="653.8" cy="423.4" r="2.25"/><circle cx="655.0" cy="423.3" r="2.25"/><circle cx="649.9" cy="426.1" r="2.25"/><circle cx="645.1" cy="423.0" r="2.25"/><circle cx="645.5" cy="426.5" r="2.25"/><circle cx="651.6" cy="424.1" r="2.25"/><circle cx="648.4" cy="426.9" r="2.25"/><circle cx="647.8" cy="426.7" r="2.25"/><circle cx="651.9" cy="425.4" r="2.25"/><circle cx="659.7" cy="427.9" r="2.25"/><circle cx="658.0" cy="427.7" r="2.25"/><circle cx="655.3" cy="426.3" r="2.25"/><circle cx="655.9" cy="427.7" r="2.25"/><circle cx="655.8" cy="427.3" r="2.25"/><circle cx="658.5" cy="428.6" r="2.25"/><circle cx="660.6" cy="425.6" r="2.25"/><circle cx="660.2" cy="430.9" r="2.25"/><circle cx="659.2" cy="430.9" r="2.25"/><circle cx="660.1" cy="429.0" r="2.25"/><circle cx="657.1" cy="427.2" r="2.25"/><circle cx="659.7" cy="431.0" r="2.25"/><circle cx="658.2" cy="426.9" r="2.25"/><circle cx="663.1" cy="429.3" r="2.25"/><circle cx="657.6" cy="427.6" r="2.25"/><circle cx="668.1" cy="423.9" r="2.25"/><circle cx="671.6" cy="422.5" r="2.25"/><circle cx="676.0" cy="426.2" r="2.25"/><circle cx="674.1" cy="422.4" r="2.25"/><circle cx="668.4" cy="421.8" r="2.25"/><circle cx="675.6" cy="422.5" r="2.25"/><circle cx="671.5" cy="422.6" r="2.25"/><circle cx="672.3" cy="423.3" r="2.25"/><circle cx="671.8" cy="425.6" r="2.25"/><circle cx="670.8" cy="425.1" r="2.25"/><circle cx="681.4" cy="420.7" r="2.25"/><circle cx="680.7" cy="420.7" r="2.25"/><circle cx="682.5" cy="422.0" r="2.25"/><circle cx="680.4" cy="421.2" r="2.25"/><circle cx="682.1" cy="420.1" r="2.25"/><circle cx="641.0" cy="436.0" r="2.25"/><circle cx="649.8" cy="438.5" r="2.25"/><circle cx="645.4" cy="436.7" r="2.25"/><circle cx="641.3" cy="436.7" r="2.25"/><circle cx="649.2" cy="437.6" r="2.25"/><circle cx="645.7" cy="438.7" r="2.25"/><circle cx="646.3" cy="439.2" r="2.25"/><circle cx="646.8" cy="435.5" r="2.25"/><circle cx="644.0" cy="440.0" r="2.25"/><circle cx="646.9" cy="439.1" r="2.25"/><circle cx="642.3" cy="438.7" r="2.25"/><circle cx="650.0" cy="436.8" r="2.25"/><circle cx="642.1" cy="437.4" r="2.25"/><circle cx="642.7" cy="439.8" r="2.25"/><circle cx="642.2" cy="437.7" r="2.25"/><circle cx="651.3" cy="443.0" r="2.25"/><circle cx="657.2" cy="443.6" r="2.25"/><circle cx="655.8" cy="445.8" r="2.25"/><circle cx="655.7" cy="443.6" r="2.25"/><circle cx="657.7" cy="446.2" r="2.25"/><circle cx="656.0" cy="442.5" r="2.25"/><circle cx="650.2" cy="446.3" r="2.25"/><circle cx="654.1" cy="445.0" r="2.25"/><circle cx="652.9" cy="443.4" r="2.25"/><circle cx="651.9" cy="443.6" r="2.25"/><circle cx="655.8" cy="448.0" r="2.25"/><circle cx="653.8" cy="447.1" r="2.25"/><circle cx="667.2" cy="450.5" r="2.25"/><circle cx="667.8" cy="447.9" r="2.25"/><circle cx="663.0" cy="448.7" r="2.25"/><circle cx="662.8" cy="449.6" r="2.25"/><circle cx="662.2" cy="450.0" r="2.25"/><circle cx="663.8" cy="450.3" r="2.25"/><circle cx="667.2" cy="448.0" r="2.25"/><circle cx="666.2" cy="448.6" r="2.25"/><circle cx="674.6" cy="449.0" r="2.25"/><circle cx="674.6" cy="448.6" r="2.25"/><circle cx="673.4" cy="449.8" r="2.25"/><circle cx="673.5" cy="449.3" r="2.25"/><circle cx="675.5" cy="448.0" r="2.25"/><circle cx="659.6" cy="436.2" r="2.25"/><circle cx="654.1" cy="436.4" r="2.25"/><circle cx="655.5" cy="434.9" r="2.25"/><circle cx="661.2" cy="434.4" r="2.25"/><circle cx="660.9" cy="439.0" r="2.25"/><circle cx="665.7" cy="435.1" r="2.25"/><circle cx="654.9" cy="433.6" r="2.25"/><circle cx="661.5" cy="437.0" r="2.25"/><circle cx="658.3" cy="433.4" r="2.25"/><circle cx="657.8" cy="436.3" r="2.25"/><circle cx="659.8" cy="433.5" r="2.25"/><circle cx="663.3" cy="437.2" r="2.25"/><circle cx="663.5" cy="433.0" r="2.25"/><circle cx="664.6" cy="436.1" r="2.25"/><circle cx="655.2" cy="433.2" r="2.25"/><circle cx="606.7" cy="459.2" r="2.25"/><circle cx="602.1" cy="459.7" r="2.25"/><circle cx="605.1" cy="458.9" r="2.25"/><circle cx="602.6" cy="458.0" r="2.25"/><circle cx="602.1" cy="457.8" r="2.25"/><circle cx="602.1" cy="458.9" r="2.25"/><circle cx="604.0" cy="457.7" r="2.25"/><circle cx="602.5" cy="457.4" r="2.25"/><circle cx="610.7" cy="466.0" r="2.25"/><circle cx="607.3" cy="465.5" r="2.25"/><circle cx="609.0" cy="466.3" r="2.25"/><circle cx="609.4" cy="465.1" r="2.25"/><circle cx="609.3" cy="465.0" r="2.25"/><circle cx="606.3" cy="466.2" r="2.25"/><circle cx="606.8" cy="466.0" r="2.25"/><circle cx="606.8" cy="466.3" r="2.25"/><circle cx="610.4" cy="469.5" r="2.25"/><circle cx="611.1" cy="469.2" r="2.25"/><circle cx="612.7" cy="470.1" r="2.25"/><circle cx="613.1" cy="470.7" r="2.25"/><circle cx="610.1" cy="469.3" r="2.25"/><circle cx="610.5" cy="459.9" r="2.25"/><circle cx="608.1" cy="460.2" r="2.25"/><circle cx="609.8" cy="460.4" r="2.25"/><circle cx="608.9" cy="459.1" r="2.25"/><circle cx="610.5" cy="460.7" r="2.25"/><circle cx="389.3" cy="456.9" r="2.25"/><circle cx="390.0" cy="455.8" r="2.25"/><circle cx="386.2" cy="456.1" r="2.25"/><circle cx="389.9" cy="455.3" r="2.25"/><circle cx="387.9" cy="455.3" r="2.25"/><circle cx="390.8" cy="455.7" r="2.25"/><circle cx="386.4" cy="458.3" r="2.25"/><circle cx="389.8" cy="456.0" r="2.25"/><circle cx="390.3" cy="458.9" r="2.25"/><circle cx="389.5" cy="458.4" r="2.25"/><circle cx="400.9" cy="457.3" r="2.25"/><circle cx="401.5" cy="459.1" r="2.25"/><circle cx="401.9" cy="457.2" r="2.25"/><circle cx="402.9" cy="457.8" r="2.25"/><circle cx="402.9" cy="459.0" r="2.25"/><circle cx="399.3" cy="456.7" r="2.25"/><circle cx="399.4" cy="455.0" r="2.25"/><circle cx="396.0" cy="456.5" r="2.25"/><circle cx="396.7" cy="458.9" r="2.25"/><circle cx="398.7" cy="456.5" r="2.25"/><circle cx="413.1" cy="455.9" r="2.25"/><circle cx="409.3" cy="460.3" r="2.25"/><circle cx="414.3" cy="456.5" r="2.25"/><circle cx="413.4" cy="457.1" r="2.25"/><circle cx="414.5" cy="459.0" r="2.25"/><circle cx="410.9" cy="458.5" r="2.25"/><circle cx="411.6" cy="459.8" r="2.25"/><circle cx="415.1" cy="456.5" r="2.25"/><circle cx="412.9" cy="460.1" r="2.25"/><circle cx="414.6" cy="459.2" r="2.25"/><circle cx="422.7" cy="455.6" r="2.25"/><circle cx="422.2" cy="455.8" r="2.25"/><circle cx="423.0" cy="457.0" r="2.25"/><circle cx="420.7" cy="457.5" r="2.25"/><circle cx="424.0" cy="456.9" r="2.25"/><circle cx="420.3" cy="455.7" r="2.25"/><circle cx="423.5" cy="455.7" r="2.25"/><circle cx="424.5" cy="456.1" r="2.25"/><circle cx="424.1" cy="456.7" r="2.25"/><circle cx="428.5" cy="456.0" r="2.25"/><circle cx="426.9" cy="456.9" r="2.25"/><circle cx="426.0" cy="455.3" r="2.25"/><circle cx="439.6" cy="460.4" r="2.25"/><circle cx="430.3" cy="459.4" r="2.25"/><circle cx="429.9" cy="463.4" r="2.25"/><circle cx="440.5" cy="463.8" r="2.25"/><circle cx="433.4" cy="462.9" r="2.25"/><circle cx="429.6" cy="458.6" r="2.25"/><circle cx="439.6" cy="462.0" r="2.25"/><circle cx="433.0" cy="463.3" r="2.25"/><circle cx="436.3" cy="459.5" r="2.25"/><circle cx="434.3" cy="461.8" r="2.25"/><circle cx="438.9" cy="460.8" r="2.25"/><circle cx="440.7" cy="462.6" r="2.25"/><circle cx="433.7" cy="463.1" r="2.25"/><circle cx="432.1" cy="460.2" r="2.25"/><circle cx="430.8" cy="459.0" r="2.25"/><circle cx="444.2" cy="464.0" r="2.25"/><circle cx="451.6" cy="461.9" r="2.25"/><circle cx="453.0" cy="461.6" r="2.25"/><circle cx="446.6" cy="462.4" r="2.25"/><circle cx="446.9" cy="465.1" r="2.25"/><circle cx="442.5" cy="465.0" r="2.25"/><circle cx="447.5" cy="464.2" r="2.25"/><circle cx="452.1" cy="459.4" r="2.25"/><circle cx="452.0" cy="460.7" r="2.25"/><circle cx="450.0" cy="462.3" r="2.25"/><circle cx="443.7" cy="461.6" r="2.25"/><circle cx="452.1" cy="463.3" r="2.25"/><circle cx="453.9" cy="461.1" r="2.25"/><circle cx="443.7" cy="458.9" r="2.25"/><circle cx="448.1" cy="458.4" r="2.25"/><circle cx="459.2" cy="463.4" r="2.25"/><circle cx="462.8" cy="464.6" r="2.25"/><circle cx="458.0" cy="463.7" r="2.25"/><circle cx="459.5" cy="465.2" r="2.25"/><circle cx="459.9" cy="467.9" r="2.25"/><circle cx="462.5" cy="462.8" r="2.25"/><circle cx="456.4" cy="466.7" r="2.25"/><circle cx="457.4" cy="462.1" r="2.25"/><circle cx="460.1" cy="464.1" r="2.25"/><circle cx="463.4" cy="467.2" r="2.25"/><circle cx="457.3" cy="465.5" r="2.25"/><circle cx="459.0" cy="462.6" r="2.25"/><circle cx="475.5" cy="467.3" r="2.25"/><circle cx="475.0" cy="463.0" r="2.25"/><circle cx="476.0" cy="462.6" r="2.25"/><circle cx="476.7" cy="465.7" r="2.25"/><circle cx="468.2" cy="464.9" r="2.25"/><circle cx="474.7" cy="466.1" r="2.25"/><circle cx="470.1" cy="462.5" r="2.25"/><circle cx="474.4" cy="463.7" r="2.25"/><circle cx="471.6" cy="463.5" r="2.25"/><circle cx="470.3" cy="467.1" r="2.25"/><circle cx="481.3" cy="460.4" r="2.25"/><circle cx="485.4" cy="463.1" r="2.25"/><circle cx="485.3" cy="463.1" r="2.25"/><circle cx="481.6" cy="459.8" r="2.25"/><circle cx="488.1" cy="459.6" r="2.25"/><circle cx="482.8" cy="461.7" r="2.25"/><circle cx="483.6" cy="460.2" r="2.25"/><circle cx="487.3" cy="461.8" r="2.25"/><circle cx="496.2" cy="462.7" r="2.25"/><circle cx="492.2" cy="461.9" r="2.25"/><circle cx="495.0" cy="463.4" r="2.25"/><circle cx="496.4" cy="464.0" r="2.25"/><circle cx="497.3" cy="464.6" r="2.25"/><circle cx="428.5" cy="467.8" r="2.25"/><circle cx="428.3" cy="469.7" r="2.25"/><circle cx="429.0" cy="469.1" r="2.25"/><circle cx="428.5" cy="468.8" r="2.25"/><circle cx="425.9" cy="466.7" r="2.25"/><circle cx="437.3" cy="466.6" r="2.25"/><circle cx="437.3" cy="467.4" r="2.25"/><circle cx="441.0" cy="466.4" r="2.25"/><circle cx="441.6" cy="468.2" r="2.25"/><circle cx="438.9" cy="469.0" r="2.25"/><circle cx="441.9" cy="467.8" r="2.25"/><circle cx="439.6" cy="469.4" r="2.25"/><circle cx="439.9" cy="468.8" r="2.25"/><circle cx="469.1" cy="485.9" r="2.25"/><circle cx="467.6" cy="488.7" r="2.25"/><circle cx="473.3" cy="485.1" r="2.25"/><circle cx="471.0" cy="487.9" r="2.25"/><circle cx="472.5" cy="486.8" r="2.25"/><circle cx="473.5" cy="485.6" r="2.25"/><circle cx="473.8" cy="486.9" r="2.25"/><circle cx="469.2" cy="489.1" r="2.25"/><circle cx="468.8" cy="488.4" r="2.25"/><circle cx="466.2" cy="488.4" r="2.25"/><circle cx="481.1" cy="486.3" r="2.25"/><circle cx="484.3" cy="484.9" r="2.25"/><circle cx="479.0" cy="485.7" r="2.25"/><circle cx="478.9" cy="483.3" r="2.25"/><circle cx="484.7" cy="484.5" r="2.25"/><circle cx="478.2" cy="482.8" r="2.25"/><circle cx="475.7" cy="482.3" r="2.25"/><circle cx="481.5" cy="484.0" r="2.25"/><circle cx="484.7" cy="483.6" r="2.25"/><circle cx="476.0" cy="484.6" r="2.25"/><circle cx="475.2" cy="484.7" r="2.25"/><circle cx="476.1" cy="483.9" r="2.25"/><circle cx="491.0" cy="480.8" r="2.25"/><circle cx="492.5" cy="478.0" r="2.25"/><circle cx="488.1" cy="477.4" r="2.25"/><circle cx="495.9" cy="479.3" r="2.25"/><circle cx="495.6" cy="481.5" r="2.25"/><circle cx="487.5" cy="478.3" r="2.25"/><circle cx="494.1" cy="482.4" r="2.25"/><circle cx="495.2" cy="478.3" r="2.25"/><circle cx="491.1" cy="478.6" r="2.25"/><circle cx="488.4" cy="477.8" r="2.25"/><circle cx="488.7" cy="482.3" r="2.25"/><circle cx="490.8" cy="482.7" r="2.25"/><circle cx="497.0" cy="476.2" r="2.25"/><circle cx="503.4" cy="477.8" r="2.25"/><circle cx="502.9" cy="475.2" r="2.25"/><circle cx="498.8" cy="476.2" r="2.25"/><circle cx="501.9" cy="476.6" r="2.25"/><circle cx="500.0" cy="475.7" r="2.25"/><circle cx="498.6" cy="476.6" r="2.25"/><circle cx="500.6" cy="476.1" r="2.25"/><circle cx="501.9" cy="477.1" r="2.25"/><circle cx="496.9" cy="476.9" r="2.25"/><circle cx="508.6" cy="471.1" r="2.25"/><circle cx="507.2" cy="473.4" r="2.25"/><circle cx="512.6" cy="470.6" r="2.25"/><circle cx="512.8" cy="471.2" r="2.25"/><circle cx="511.1" cy="470.8" r="2.25"/><circle cx="509.5" cy="472.6" r="2.25"/><circle cx="508.7" cy="472.3" r="2.25"/><circle cx="508.9" cy="471.4" r="2.25"/><circle cx="516.4" cy="478.3" r="2.25"/><circle cx="513.6" cy="477.2" r="2.25"/><circle cx="514.6" cy="477.6" r="2.25"/><circle cx="515.7" cy="477.0" r="2.25"/><circle cx="515.4" cy="478.8" r="2.25"/><circle cx="494.0" cy="512.0" r="2.25"/></g>
<g fill="#F8766D"><circle cx="555.4" cy="369.1" r="2.25"/><circle cx="554.1" cy="369.0" r="2.25"/><circle cx="557.5" cy="378.7" r="2.25"/><circle cx="557.9" cy="378.1" r="2.25"/><circle cx="559.4" cy="378.8" r="2.25"/><circle cx="583.4" cy="373.0" r="2.25"/><circle cx="581.8" cy="373.4" r="2.25"/><circle cx="584.8" cy="372.4" r="2.25"/><circle cx="582.7" cy="372.5" r="2.25"/><circle cx="583.8" cy="373.9" r="2.25"/><circle cx="586.8" cy="372.6" r="2.25"/><circle cx="585.6" cy="371.6" r="2.25"/><circle cx="587.3" cy="372.8" r="2.25"/><circle cx="589.7" cy="371.4" r="2.25"/><circle cx="586.4" cy="371.0" r="2.25"/><circle cx="589.0" cy="370.3" r="2.25"/><circle cx="585.2" cy="371.2" r="2.25"/><circle cx="587.7" cy="371.6" r="2.25"/><circle cx="588.6" cy="372.7" r="2.25"/><circle cx="587.9" cy="370.7" r="2.25"/><circle cx="593.5" cy="369.2" r="2.25"/><circle cx="596.5" cy="368.1" r="2.25"/><circle cx="595.9" cy="367.8" r="2.25"/><circle cx="593.8" cy="367.8" r="2.25"/><circle cx="595.6" cy="368.3" r="2.25"/><circle cx="591.9" cy="368.4" r="2.25"/><circle cx="595.1" cy="368.5" r="2.25"/><circle cx="594.7" cy="366.7" r="2.25"/><circle cx="591.3" cy="369.4" r="2.25"/><circle cx="596.9" cy="366.5" r="2.25"/><circle cx="600.6" cy="377.8" r="2.25"/><circle cx="598.8" cy="378.8" r="2.25"/><circle cx="599.8" cy="377.5" r="2.25"/><circle cx="597.1" cy="376.5" r="2.25"/><circle cx="598.3" cy="378.8" r="2.25"/><circle cx="603.8" cy="379.3" r="2.25"/><circle cx="603.0" cy="379.8" r="2.25"/><circle cx="603.0" cy="377.0" r="2.25"/><circle cx="598.7" cy="379.2" r="2.25"/><circle cx="598.2" cy="379.0" r="2.25"/><circle cx="617.7" cy="370.4" r="2.25"/><circle cx="620.1" cy="371.9" r="2.25"/><circle cx="619.1" cy="373.6" r="2.25"/><circle cx="618.6" cy="370.3" r="2.25"/><circle cx="618.6" cy="372.4" r="2.25"/><circle cx="615.7" cy="371.7" r="2.25"/><circle cx="607.7" cy="381.8" r="2.25"/><circle cx="605.3" cy="380.5" r="2.25"/><circle cx="608.8" cy="382.2" r="2.25"/><circle cx="609.5" cy="378.2" r="2.25"/><circle cx="607.7" cy="380.0" r="2.25"/><circle cx="613.8" cy="468.4" r="2.25"/><circle cx="614.6" cy="468.3" r="2.25"/><circle cx="616.4" cy="467.5" r="2.25"/><circle cx="616.4" cy="467.1" r="2.25"/><circle cx="616.8" cy="468.8" r="2.25"/></g>
<g fill="#619CFF"><circle cx="486.0" cy="388.0" r="2.25"/><circle cx="535.0" cy="373.0" r="2.25"/><circle cx="545.0" cy="372.0" r="2.25"/><circle cx="557.3" cy="378.3" r="2.25"/><circle cx="559.4" cy="378.3" r="2.25"/><circle cx="583.5" cy="375.3" r="2.25"/><circle cx="581.8" cy="373.1" r="2.25"/><circle cx="579.9" cy="373.7" r="2.25"/><circle cx="671.3" cy="383.0" r="2.25"/><circle cx="673.8" cy="382.8" r="2.25"/><circle cx="670.5" cy="380.9" r="2.25"/><circle cx="673.8" cy="382.2" r="2.25"/><circle cx="671.1" cy="382.0" r="2.25"/><circle cx="698.1" cy="405.1" r="2.25"/><circle cx="698.9" cy="405.1" r="2.25"/><circle cx="678.0" cy="431.5" r="2.25"/><circle cx="659.0" cy="445.0" r="2.25"/><circle cx="427.7" cy="467.6" r="2.25"/><circle cx="427.4" cy="468.2" r="2.25"/><circle cx="429.0" cy="469.1" r="2.25"/><circle cx="425.0" cy="455.0" r="2.25"/><circle cx="428.0" cy="468.0" r="2.25"/><circle cx="467.0" cy="465.0" r="2.25"/><circle cx="555.0" cy="553.0" r="2.25"/><circle cx="553.0" cy="557.0" r="2.25"/><circle cx="554.0" cy="561.0" r="2.25"/><circle cx="553.0" cy="565.0" r="2.25"/><circle cx="554.0" cy="567.0" r="2.25"/><circle cx="641.0" cy="667.0" r="2.25"/><circle cx="651.0" cy="679.0" r="2.25"/><circle cx="663.0" cy="673.0" r="2.25"/><circle cx="656.0" cy="661.0" r="2.25"/><circle cx="652.0" cy="668.0" r="2.25"/><circle cx="647.0" cy="662.0" r="2.25"/><circle cx="650.0" cy="672.0" r="2.25"/><circle cx="644.0" cy="660.0" r="2.25"/><circle cx="660.0" cy="667.0" r="2.25"/></g>
<circle cx="10" cy="83.1" r="3.9" fill="#F8766D"/><circle cx="10" cy="104.4" r="3.9" fill="#00BA38"/><circle cx="10" cy="126.3" r="3.9" fill="#619CFF"/>
<rect x="10.5" y="156.4" width="32" height="4" fill="#000"/>
<rect x="547" y="677.4" width="30" height="2.5" fill="#000"/>
<g font-family="Liberation Sans, sans-serif">
<text x="239.7" y="46.1" font-size="12.8" fill="#e3121b" stroke="#e3121b" stroke-width="0.3" text-anchor="end">63</text>
<text x="235.5" y="57.5" font-size="12.8" fill="#e3121b" stroke="#e3121b" stroke-width="0.3" text-anchor="end">95</text>
<text x="230.8" y="65.4" font-size="12.8" fill="#e3121b" stroke="#e3121b" stroke-width="0.3" text-anchor="end">100</text>
<text x="216.4" y="72.5" font-size="12.8" fill="#e3121b" stroke="#e3121b" stroke-width="0.3" text-anchor="end">100</text>
<text x="197.0" y="78.6" font-size="12.8" fill="#e3121b" stroke="#e3121b" stroke-width="0.3" text-anchor="end">42</text>
<text x="186.4" y="120.4" font-size="12.8" fill="#e3121b" stroke="#e3121b" stroke-width="0.3" text-anchor="end">95</text>
<text x="169.5" y="186.3" font-size="12.8" fill="#e3121b" stroke="#e3121b" stroke-width="0.3" text-anchor="end">94</text>
<text x="157.0" y="237.0" font-size="12.8" fill="#e3121b" stroke="#e3121b" stroke-width="0.3" text-anchor="end">97</text>
<text x="150.7" y="265.8" font-size="12.8" fill="#e3121b" stroke="#e3121b" stroke-width="0.3" text-anchor="end">100</text>
<text x="135.6" y="360.2" font-size="12.8" fill="#e3121b" stroke="#e3121b" stroke-width="0.3" text-anchor="end">48</text>
<text x="130.6" y="499.9" font-size="12.8" fill="#e3121b" stroke="#e3121b" stroke-width="0.3" text-anchor="end">98</text>
<text x="125.2" y="589.6" font-size="12.8" fill="#e3121b" stroke="#e3121b" stroke-width="0.3" text-anchor="end">98</text>
<text x="122.2" y="643.9" font-size="12.8" fill="#e3121b" stroke="#e3121b" stroke-width="0.3" text-anchor="end">85</text>
<text x="119.0" y="673.6" font-size="12.8" fill="#e3121b" stroke="#e3121b" stroke-width="0.3" text-anchor="end">16</text>
<text x="116.0" y="700.2" font-size="12.8" fill="#e3121b" stroke="#e3121b" stroke-width="0.3" text-anchor="end">93</text>
<text x="109.0" y="730.2" font-size="12.8" fill="#e3121b" stroke="#e3121b" stroke-width="0.3" text-anchor="end">100</text>
<text x="97.0" y="753.2" font-size="12.8" fill="#e3121b" stroke="#e3121b" stroke-width="0.3" text-anchor="end">96</text>
<text x="91.8" y="770.7" font-size="12.8" fill="#e3121b" stroke="#e3121b" stroke-width="0.3" text-anchor="end">93</text>
<text x="7.6" y="18.7" font-size="25.2" fill="#000" stroke="#000" stroke-width="0.3" text-anchor="start">A</text>
<text x="0.0" y="66.6" font-size="13.4" fill="#000" stroke="#000" stroke-width="0.3" text-anchor="start">SM type</text>
<text x="23.9" y="87.3" font-size="11.4" fill="#000" stroke="#000" stroke-width="0.3" text-anchor="start">HYBRID</text>
<text x="23.9" y="108.6" font-size="11.4" fill="#000" stroke="#000" stroke-width="0.3" text-anchor="start">PKS</text>
<text x="23.9" y="130.5" font-size="11.4" fill="#000" stroke="#000" stroke-width="0.3" text-anchor="start">PKS−Like</text>
<text x="11.8" y="178.6" font-size="20.5" fill="#000" stroke="#000" stroke-width="0.3" text-anchor="start">0.5</text>
<text x="388.5" y="391.2" font-size="25" fill="#000" stroke="#000" stroke-width="0.3" text-anchor="start">B</text>
<text x="562.0" y="670.2" font-size="10.5" fill="#000" stroke="#000" stroke-width="0.3" text-anchor="middle">0.5</text>
<text x="163.6" y="281.9" font-size="13.2" fill="#000" stroke="#000" stroke-width="0.3" text-anchor="start">A</text>
<text x="167.4" y="533.9" font-size="13.2" fill="#000" stroke="#000" stroke-width="0.3" text-anchor="start">B</text>
<text x="178.4" y="589.7" font-size="13.8" fill="#000" stroke="#000" stroke-width="0.3" text-anchor="start">C</text>
<text x="392.6" y="15.5" font-size="13.5" fill="#000" stroke="#000" stroke-width="0.3" text-anchor="start">Asperfuranone</text>
<text x="356.8" y="24.5" font-size="13.5" fill="#000" stroke="#000" stroke-width="0.3" text-anchor="start">Azanigerone</text>
<text x="339.9" y="35.3" font-size="13.5" fill="#000" stroke="#000" stroke-width="0.3" text-anchor="start">Sorbicillin</text>
<text x="347.2" y="67.4" font-size="13.5" fill="#000" stroke="#000" stroke-width="0.3" text-anchor="start">Terretonin</text>
<text x="418.3" y="67.4" font-size="13.5" fill="#000" stroke="#000" stroke-width="0.3" text-anchor="start">Austinol/dehydroaustinol, locus 1</text>
<text x="320.8" y="78.9" font-size="13.5" fill="#000" stroke="#000" stroke-width="0.3" text-anchor="start">Cichorine</text>
<text x="340.0" y="111.6" font-size="13.5" fill="#000" stroke="#000" stroke-width="0.3" text-anchor="start">Naphthopyrone</text>
<text x="395.7" y="121.4" font-size="13.5" fill="#000" stroke="#000" stroke-width="0.3" text-anchor="start">Aflatoxin/sterigmatocystin</text>
<text x="376.3" y="131.0" font-size="13.5" fill="#000" stroke="#000" stroke-width="0.3" text-anchor="start">Aflatoxin Sterigmatocystin</text>
<text x="317.6" y="142.2" font-size="13.5" fill="#000" stroke="#000" stroke-width="0.3" text-anchor="start">Emericellin</text>
<text x="330.4" y="151.7" font-size="13.5" fill="#000" stroke="#000" stroke-width="0.3" text-anchor="start">TAN−1612</text>
<text x="396.9" y="150.8" font-size="13.5" fill="#000" stroke="#000" stroke-width="0.3" text-anchor="start">Asperthecin</text>
<text x="471.4" y="148.1" font-size="13.5" fill="#000" stroke="#000" stroke-width="0.3" text-anchor="start">Trypacidin</text>
<text x="325.4" y="161.3" font-size="13.5" fill="#000" stroke="#000" stroke-width="0.3" text-anchor="start">Aflavarin</text>
<text x="388.6" y="161.1" font-size="13.5" fill="#000" stroke="#000" stroke-width="0.3" text-anchor="start">Alternariol</text>
<text x="293.5" y="167.6" font-size="13.5" fill="#000" stroke="#000" stroke-width="0.3" text-anchor="start">Terrein</text>
<text x="353.1" y="170.6" font-size="13.5" fill="#000" stroke="#000" stroke-width="0.3" text-anchor="start">Endocrocin</text>
<text x="316.9" y="184.5" font-size="13.5" fill="#000" stroke="#000" stroke-width="0.3" text-anchor="start">F9775</text>
<text x="278.2" y="287.4" font-size="13.5" fill="#000" stroke="#000" stroke-width="0.3" text-anchor="start">Patulin</text>
<text x="321.6" y="287.4" font-size="13.5" fill="#000" stroke="#000" stroke-width="0.3" text-anchor="start">Terreic acid</text>
<text x="295.1" y="300.6" font-size="13.5" fill="#000" stroke="#000" stroke-width="0.3" text-anchor="start">Yanuthone D</text>
<text x="248.9" y="515.0" font-size="13.5" fill="#000" stroke="#000" stroke-width="0.3" text-anchor="start">Fumagillin</text>
<text x="261.8" y="527.6" font-size="13.5" fill="#000" stroke="#000" stroke-width="0.3" text-anchor="start">Cytochalasin</text>
<text x="267.7" y="588.4" font-size="13.5" fill="#000" stroke="#000" stroke-width="0.3" text-anchor="start">Pyripyropene</text>
<text x="269.8" y="599.9" font-size="13.5" fill="#000" stroke="#000" stroke-width="0.3" text-anchor="start">Citreoviridin</text>
<text x="344.3" y="599.9" font-size="13.5" fill="#000" stroke="#000" stroke-width="0.3" text-anchor="start">Pseurotin A</text>
<text x="263.9" y="610.4" font-size="13.5" fill="#000" stroke="#000" stroke-width="0.3" text-anchor="start">Isoflavipucine</text>
<text x="239.8" y="627.4" font-size="13.5" fill="#000" stroke="#000" stroke-width="0.3" text-anchor="start">Aspyridone</text>
<text x="311.4" y="627.4" font-size="13.5" fill="#000" stroke="#000" stroke-width="0.3" text-anchor="start">Chaetoglobosin</text>
<text x="239.8" y="638.1" font-size="13.5" fill="#000" stroke="#000" stroke-width="0.3" text-anchor="start">Cyclopiazonic acid</text>
<text x="245.7" y="656.9" font-size="13.5" fill="#000" stroke="#000" stroke-width="0.3" text-anchor="start">Pyranonigrin E</text>
<text x="237.7" y="676.2" font-size="13.5" fill="#000" stroke="#000" stroke-width="0.3" text-anchor="start">Lovastatin</text>
</g>
</svg>
</body></html>
